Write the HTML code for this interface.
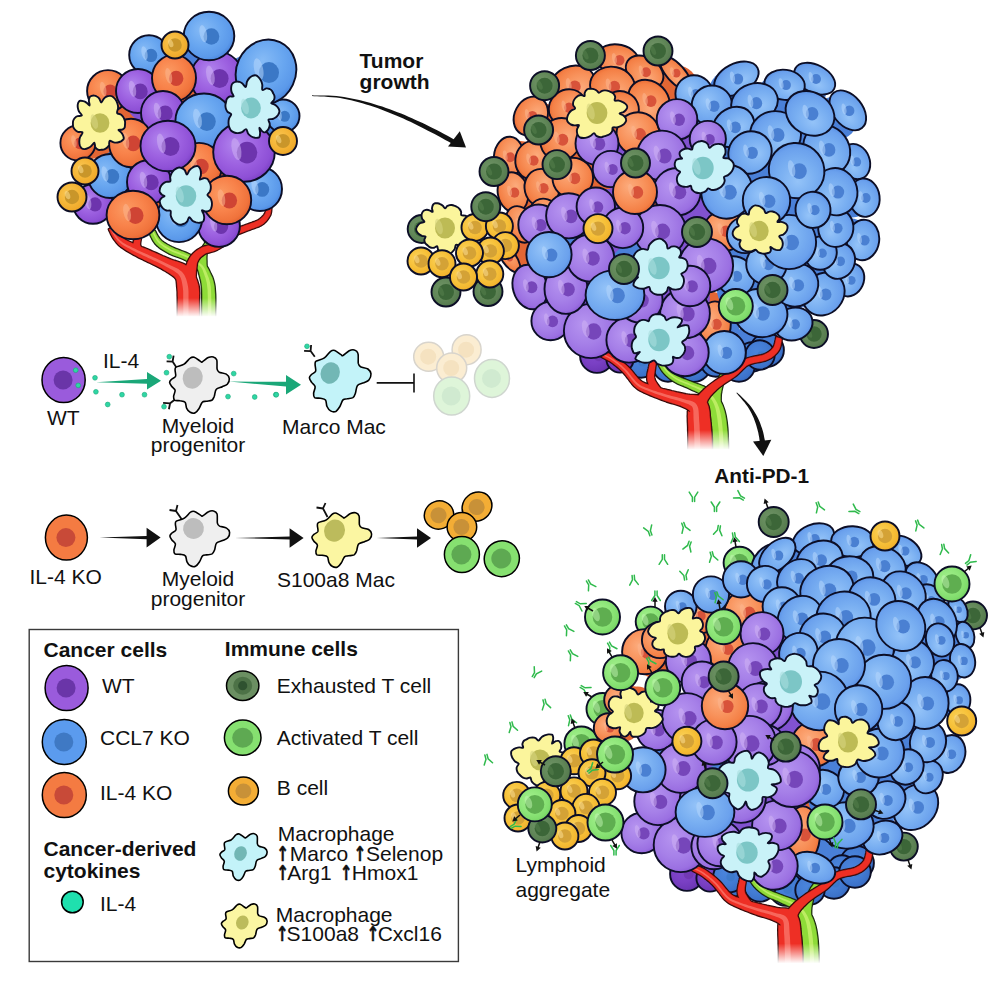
<!DOCTYPE html>
<html><head><meta charset="utf-8"><title>Tumor immune microenvironment</title>
<style>html,body{margin:0;padding:0;background:#fff}svg{display:block}text{font-family:"Liberation Sans",sans-serif;fill:#111}</style>
</head><body>
<svg width="996" height="996" viewBox="0 0 996 996">
<defs>
<radialGradient id="gP" cx=".42" cy=".42" r=".62" fx=".36" fy=".36"><stop offset="0" stop-color="#b184ee"/><stop offset=".55" stop-color="#9c60e0"/><stop offset=".85" stop-color="#8e50d6"/><stop offset="1" stop-color="#7a3fc4"/></radialGradient>
<radialGradient id="gB" cx=".42" cy=".42" r=".62" fx=".36" fy=".36"><stop offset="0" stop-color="#86bbf6"/><stop offset=".55" stop-color="#68a6f0"/><stop offset=".85" stop-color="#5b99ea"/><stop offset="1" stop-color="#4783dc"/></radialGradient>
<radialGradient id="gO" cx=".42" cy=".42" r=".62" fx=".36" fy=".36"><stop offset="0" stop-color="#fb9a62"/><stop offset=".55" stop-color="#f8824a"/><stop offset=".85" stop-color="#f0733c"/><stop offset="1" stop-color="#e0602e"/></radialGradient>
<radialGradient id="gY" cx=".42" cy=".42" r=".62" fx=".36" fy=".36"><stop offset="0" stop-color="#f9c652"/><stop offset=".55" stop-color="#f5b638"/><stop offset=".85" stop-color="#f0ab2c"/><stop offset="1" stop-color="#e59c20"/></radialGradient>
<radialGradient id="gE" cx=".42" cy=".42" r=".62" fx=".36" fy=".36"><stop offset="0" stop-color="#6f9366"/><stop offset=".55" stop-color="#628859"/><stop offset=".85" stop-color="#587d50"/><stop offset="1" stop-color="#4c6f45"/></radialGradient>
<radialGradient id="gA" cx=".42" cy=".42" r=".62" fx=".36" fy=".36"><stop offset="0" stop-color="#a4f08e"/><stop offset=".55" stop-color="#8fe67a"/><stop offset=".85" stop-color="#80dc6c"/><stop offset="1" stop-color="#6ccb5a"/></radialGradient>
<radialGradient id="gP2" cx=".42" cy=".42" r=".62" fx=".36" fy=".36"><stop offset="0" stop-color="#b694f0"/><stop offset=".55" stop-color="#a680e8"/><stop offset=".85" stop-color="#9b70e2"/><stop offset="1" stop-color="#8a5ad6"/></radialGradient>
<radialGradient id="gB2" cx=".42" cy=".42" r=".62" fx=".36" fy=".36"><stop offset="0" stop-color="#94c3f8"/><stop offset=".55" stop-color="#78aef1"/><stop offset=".85" stop-color="#6ba1ed"/><stop offset="1" stop-color="#5990e5"/></radialGradient>
<radialGradient id="gO2" cx=".42" cy=".42" r=".62" fx=".36" fy=".36"><stop offset="0" stop-color="#fcab7c"/><stop offset=".55" stop-color="#f8915a"/><stop offset=".85" stop-color="#f48046"/><stop offset="1" stop-color="#e86a32"/></radialGradient>
<radialGradient id="gY2" cx=".42" cy=".42" r=".62" fx=".36" fy=".36"><stop offset="0" stop-color="#fad15a"/><stop offset=".55" stop-color="#f7c23a"/><stop offset=".85" stop-color="#f3b630"/><stop offset="1" stop-color="#e8a524"/></radialGradient>
<radialGradient id="gPd" cx=".42" cy=".42" r=".62" fx=".36" fy=".36"><stop offset="0" stop-color="#8248cc"/><stop offset=".55" stop-color="#7a40c4"/><stop offset=".85" stop-color="#6f38b8"/><stop offset="1" stop-color="#6030a6"/></radialGradient>
<radialGradient id="gBd" cx=".42" cy=".42" r=".62" fx=".36" fy=".36"><stop offset="0" stop-color="#4a84dc"/><stop offset=".55" stop-color="#437cd4"/><stop offset=".85" stop-color="#3c72ca"/><stop offset="1" stop-color="#3364b8"/></radialGradient>
<radialGradient id="gOd" cx=".42" cy=".42" r=".62" fx=".36" fy=".36"><stop offset="0" stop-color="#e0602e"/><stop offset=".55" stop-color="#d85a2a"/><stop offset=".85" stop-color="#cc5226"/><stop offset="1" stop-color="#bc4820"/></radialGradient>
<linearGradient id="fadeR" x1="0" y1="0" x2="0" y2="1"><stop offset="0" stop-color="#fff" stop-opacity="0"/><stop offset="1" stop-color="#fff" stop-opacity="1"/></linearGradient>
</defs>
<rect width="996" height="996" fill="#fff"/>
<path d="M214.7 330.6L214.8 327.4L214.9 322.9L215 317.5L215 311.6L215.1 305.5L215.1 299.6L215 294.4L214.7 290L214.4 286.6L213.9 283.6L213.3 281.1L212.7 278.9L212 277L211.2 275.4L210.5 274L209.8 272.5L209.1 271L208.4 269.6L207.7 268.2L206.8 266.8L205.8 265.5L204.7 264.2L203.5 263L202.1 261.8L200.6 260.6L198.9 259.5L197.2 258.4L195.4 257.5L193.5 256.5L191.6 255.6L189.7 254.7L187.8 253.8L185.8 252.9L183.7 252L181.5 251.2L179.4 250.4L177.3 249.6L175.3 248.9L173.5 248.1L171.8 247.3L170.1 246.4L168.5 245.6L166.9 244.7L165.4 243.8L164 242.9L162.7 242L161.5 241L160.5 240.1L159.5 239.1L158.7 237.9L157.8 236.6L157 235.3L156.3 233.9L155.7 232.7L155.1 231.5L154.6 230.7L149.8 233.3L150.2 234.1L150.6 235.1L151.2 236.4L152 237.9L152.8 239.5L153.8 241.2L154.9 242.8L156.1 244.3L157.5 245.6L158.9 246.8L160.4 248L162 249.1L163.6 250.1L165.3 251.1L167 252.1L168.8 253.1L170.8 254L172.9 254.9L175 255.7L177.2 256.5L179.3 257.2L181.3 258L183.2 258.8L185 259.6L186.7 260.6L188.5 261.5L190.2 262.5L191.8 263.6L193.2 264.6L194.6 265.6L195.7 266.6L196.7 267.6L197.4 268.6L198 269.5L198.4 270.3L198.7 271.2L199 272.1L199.2 273.2L199.6 274.5L200 276.1L200.4 277.7L200.8 279.2L201.1 280.6L201.4 282L201.7 283.5L201.9 285.4L202.1 287.8L202.3 290.8L202.4 294.7L202.4 299.8L202.4 305.5L202.4 311.5L202.4 317.3L202.3 322.7L202.3 327.3L202.3 330.6ZM206.5 268L206.5 266.8L206.4 265.2L206.3 263.3L206.3 261.2L206.2 259.1L206.2 257.1L206.3 255.3L206.4 253.8L206.7 252.7L207 251.7L207.4 250.7L207.8 249.8L208.3 248.9L208.8 247.9L209.4 246.9L209.9 245.9L210.4 245L210.9 244L211.4 243.1L212 242.1L212.5 241.3L212.9 240.5L213.3 239.8L213.6 239.3L209.4 236.7L209.1 237.1L208.6 237.8L208.1 238.5L207.5 239.4L206.9 240.3L206.3 241.3L205.7 242.3L205.1 243.3L204.6 244.2L204 245.1L203.4 246L202.8 247.1L202.1 248.3L201.5 249.6L201 251.1L200.6 252.8L200.2 254.6L200 256.7L199.8 258.9L199.7 261.2L199.7 263.3L199.6 265.2L199.6 266.8L199.5 268Z" fill="#16240c" stroke="#16240c" stroke-width="2.8" stroke-linejoin="round"/>
<path d="M214.7 330.6L214.8 327.4L214.9 322.9L215 317.5L215 311.6L215.1 305.5L215.1 299.6L215 294.4L214.7 290L214.4 286.6L213.9 283.6L213.3 281.1L212.7 278.9L212 277L211.2 275.4L210.5 274L209.8 272.5L209.1 271L208.4 269.6L207.7 268.2L206.8 266.8L205.8 265.5L204.7 264.2L203.5 263L202.1 261.8L200.6 260.6L198.9 259.5L197.2 258.4L195.4 257.5L193.5 256.5L191.6 255.6L189.7 254.7L187.8 253.8L185.8 252.9L183.7 252L181.5 251.2L179.4 250.4L177.3 249.6L175.3 248.9L173.5 248.1L171.8 247.3L170.1 246.4L168.5 245.6L166.9 244.7L165.4 243.8L164 242.9L162.7 242L161.5 241L160.5 240.1L159.5 239.1L158.7 237.9L157.8 236.6L157 235.3L156.3 233.9L155.7 232.7L155.1 231.5L154.6 230.7L149.8 233.3L150.2 234.1L150.6 235.1L151.2 236.4L152 237.9L152.8 239.5L153.8 241.2L154.9 242.8L156.1 244.3L157.5 245.6L158.9 246.8L160.4 248L162 249.1L163.6 250.1L165.3 251.1L167 252.1L168.8 253.1L170.8 254L172.9 254.9L175 255.7L177.2 256.5L179.3 257.2L181.3 258L183.2 258.8L185 259.6L186.7 260.6L188.5 261.5L190.2 262.5L191.8 263.6L193.2 264.6L194.6 265.6L195.7 266.6L196.7 267.6L197.4 268.6L198 269.5L198.4 270.3L198.7 271.2L199 272.1L199.2 273.2L199.6 274.5L200 276.1L200.4 277.7L200.8 279.2L201.1 280.6L201.4 282L201.7 283.5L201.9 285.4L202.1 287.8L202.3 290.8L202.4 294.7L202.4 299.8L202.4 305.5L202.4 311.5L202.4 317.3L202.3 322.7L202.3 327.3L202.3 330.6ZM206.5 268L206.5 266.8L206.4 265.2L206.3 263.3L206.3 261.2L206.2 259.1L206.2 257.1L206.3 255.3L206.4 253.8L206.7 252.7L207 251.7L207.4 250.7L207.8 249.8L208.3 248.9L208.8 247.9L209.4 246.9L209.9 245.9L210.4 245L210.9 244L211.4 243.1L212 242.1L212.5 241.3L212.9 240.5L213.3 239.8L213.6 239.3L209.4 236.7L209.1 237.1L208.6 237.8L208.1 238.5L207.5 239.4L206.9 240.3L206.3 241.3L205.7 242.3L205.1 243.3L204.6 244.2L204 245.1L203.4 246L202.8 247.1L202.1 248.3L201.5 249.6L201 251.1L200.6 252.8L200.2 254.6L200 256.7L199.8 258.9L199.7 261.2L199.7 263.3L199.6 265.2L199.6 266.8L199.5 268Z" fill="#8edb38" stroke="#8edb38" stroke-width=".4" stroke-linejoin="round"/>
<path d="M211 330.6L211.1 327.4L211.1 322.8L211.2 317.4L211.3 311.5L211.3 305.5L211.3 299.7L211.2 294.5L211 290.3L210.8 287L210.4 284.3L209.9 282L209.4 280L208.9 278.3L208.3 276.8L207.7 275.3L207.1 273.8L206.5 272.3L205.9 270.9L205.3 269.6L204.7 268.4L203.9 267.2L203.1 266.1L202.1 265L201 263.9L199.6 262.8L198.2 261.7L196.6 260.7L194.9 259.7L193.1 258.7L191.3 257.7L189.4 256.8L187.6 255.9L185.7 255L183.6 254.2L181.5 253.4L179.4 252.6L177.3 251.8L175.2 251L173.3 250.2L171.5 249.4L169.8 248.5L168.1 247.6L166.5 246.6L165 245.7L163.5 244.7L162.1 243.7L160.9 242.7L159.7 241.6L158.7 240.4L157.7 239.1L156.8 237.7L156 236.2L155.3 234.8L154.7 233.5L154.1 232.5L153.7 231.6L152.3 232.4L152.7 233.2L153.3 234.2L153.9 235.5L154.6 237L155.4 238.5L156.3 240L157.4 241.5L158.5 242.8L159.7 244L161.1 245.1L162.5 246.1L164 247.2L165.6 248.2L167.2 249.1L168.9 250.1L170.7 251L172.6 251.9L174.6 252.7L176.7 253.5L178.8 254.3L180.9 255.1L183 255.8L184.9 256.7L186.8 257.5L188.6 258.4L190.4 259.4L192.2 260.4L193.9 261.4L195.5 262.4L196.9 263.4L198.3 264.5L199.4 265.5L200.4 266.6L201.2 267.6L201.8 268.6L202.4 269.6L202.9 270.7L203.3 271.9L203.8 273.3L204.3 274.8L204.9 276.4L205.4 277.8L205.8 279.3L206.3 280.9L206.7 282.7L207 284.8L207.3 287.4L207.6 290.5L207.7 294.6L207.8 299.7L207.8 305.5L207.8 311.5L207.7 317.4L207.6 322.8L207.6 327.3L207.6 330.6Z" fill="#c4f06a" opacity=".85"/>
<path d="M198.9 330.6L198.9 328.4L198.9 325.3L198.9 321.6L198.9 317.5L198.9 313.3L198.9 309.2L198.9 305.5L198.9 302.3L198.9 299.8L199 297.6L199 295.5L199.1 293.4L199 291.2L198.9 289L198.6 286.7L198.1 284.4L197.5 282.4L196.9 280.5L196.1 278.4L195.2 276.2L194 273.9L192.4 271.6L190.6 269.4L188.4 267.3L186 265.5L183.4 264.1L180.8 263L178.2 262.1L175.7 261.2L173.3 260.5L171.1 259.7L169 258.9L166.9 258L164.7 257.1L162.6 256.2L160.5 255.2L158.4 254.3L156.4 253.4L154.4 252.5L152.5 251.7L150.6 250.9L148.8 250.1L147 249.3L145.2 248.6L143.5 247.9L141.8 247.2L140.1 246.4L138.4 245.7L136.6 245L134.8 244.2L133 243.5L131.3 242.7L129.6 242L128 241.3L126.6 240.6L125.4 239.9L124.3 239.2L123.3 238.6L122.4 238L121.6 237.3L120.9 236.6L120.2 235.9L119.4 235.1L118.7 234.3L118.1 233.5L117.4 232.5L116.8 231.4L116.2 230.3L115.7 229.2L115.2 228.2L114.7 227.3L114.4 226.7L109 229.3L109.3 230L109.7 230.8L110.2 231.8L110.7 233L111.3 234.3L112 235.6L112.7 236.9L113.5 238.1L114.2 239.2L114.9 240.2L115.7 241.2L116.5 242.3L117.4 243.3L118.4 244.4L119.5 245.4L120.8 246.5L122.3 247.6L123.8 248.6L125.5 249.7L127.1 250.7L128.9 251.8L130.6 252.8L132.3 253.7L134 254.7L135.7 255.6L137.4 256.5L139.1 257.4L140.8 258.2L142.6 259.1L144.3 259.9L146.1 260.8L147.9 261.7L149.8 262.6L151.8 263.6L153.7 264.5L155.8 265.4L157.8 266.4L159.7 267.4L161.7 268.5L163.6 269.7L165.7 270.9L167.8 272.2L169.9 273.6L171.8 274.9L173.5 276.1L174.9 277.3L175.8 278.4L176.4 279.3L176.6 280L176.8 280.8L176.9 281.7L177 282.6L177.1 283.8L177.2 285.2L177.3 286.8L177.5 288.4L177.6 289.7L177.7 290.8L177.8 292.1L177.8 293.5L177.8 295.3L177.9 297.4L177.9 299.8L177.9 302.5L177.9 305.6L177.9 309.3L177.9 313.3L177.9 317.5L177.9 321.5L177.9 325.2L177.9 328.3L177.9 330.6ZM142.3 250.8L142.1 250.2L141.7 249.5L141.4 248.7L141 247.9L140.7 247L140.4 246.2L140.2 245.5L140 244.9L140 244.4L140 243.6L140.1 242.7L140.2 241.7L140.4 240.8L140.5 239.9L140.7 239.1L140.8 238.5L134.8 237.5L134.7 238L134.6 238.7L134.3 239.6L134.1 240.6L133.9 241.7L133.7 242.9L133.6 244.2L133.6 245.5L133.7 246.8L134 248L134.3 249.1L134.7 250.2L135 251.2L135.3 252.1L135.6 252.7L135.7 253.2ZM195.4 279.4L195.5 277.8L195.6 275.8L195.8 273.4L195.9 270.8L196.2 268.3L196.5 265.8L196.8 263.7L197.2 262.1L197.8 260.9L198.4 259.7L199.2 258.6L200 257.6L200.9 256.7L202 255.8L203.1 255L204.2 254.2L205.2 253.6L206.3 253.1L207.6 252.7L209.1 252.3L210.6 251.9L212.3 251.5L214.1 250.9L215.8 250.2L217.5 249.4L219.1 248.5L220.7 247.6L222.3 246.6L223.9 245.6L225.4 244.6L226.9 243.6L228.3 242.6L229.6 241.5L230.8 240.4L231.8 239.3L232.7 238.3L233.5 237.4L234.3 236.6L235.1 235.9L236.1 235.2L237.4 234.5L238.9 233.8L240.5 233.1L242.3 232.4L244.2 231.7L246 231L247.9 230.3L249.6 229.7L251.2 229L252.8 228.5L254.4 227.9L256 227.3L257.7 226.7L259.2 226.1L260.8 225.3L262.2 224.4L263.6 223.4L264.8 222.3L265.9 221.2L266.9 220L267.8 218.8L268.6 217.6L269.3 216.4L270 215.2L270.5 213.8L270.8 212.4L271 211L271.1 209.7L271.2 208.5L271.2 207.5L271.2 206.7L271.2 206.1L266.2 205.9L266.2 206.6L266.2 207.5L266.2 208.4L266.2 209.4L266.1 210.5L266 211.4L265.7 212.3L265.4 213L265 213.9L264.4 214.8L263.7 215.7L262.9 216.6L262 217.5L261.1 218.3L260.2 219.1L259.2 219.8L258.1 220.4L256.9 221L255.6 221.6L254.1 222.2L252.6 222.7L251 223.3L249.3 223.9L247.6 224.5L245.9 225.1L244.2 225.7L242.3 226.4L240.4 227L238.5 227.6L236.6 228.3L234.8 229.1L233.1 230L231.5 231L230.2 232.2L229.1 233.3L228.2 234.3L227.3 235.3L226.5 236.2L225.7 237L224.7 237.8L223.5 238.6L222.1 239.5L220.7 240.4L219.2 241.2L217.7 242.1L216.1 242.9L214.6 243.6L213.2 244.2L211.9 244.7L210.5 245.1L209 245.5L207.5 245.8L205.8 246.2L204.1 246.7L202.3 247.3L200.6 248.2L199.1 249.1L197.7 250L196.3 251L194.8 252.2L193.4 253.5L192.1 254.9L190.8 256.6L189.6 258.5L188.4 260.7L187.3 263.2L186.3 265.9L185.3 268.6L184.5 271.2L183.7 273.5L183.1 275.3L182.6 276.6Z" fill="#330808" stroke="#330808" stroke-width="2.8" stroke-linejoin="round"/>
<path d="M198.9 330.6L198.9 328.4L198.9 325.3L198.9 321.6L198.9 317.5L198.9 313.3L198.9 309.2L198.9 305.5L198.9 302.3L198.9 299.8L199 297.6L199 295.5L199.1 293.4L199 291.2L198.9 289L198.6 286.7L198.1 284.4L197.5 282.4L196.9 280.5L196.1 278.4L195.2 276.2L194 273.9L192.4 271.6L190.6 269.4L188.4 267.3L186 265.5L183.4 264.1L180.8 263L178.2 262.1L175.7 261.2L173.3 260.5L171.1 259.7L169 258.9L166.9 258L164.7 257.1L162.6 256.2L160.5 255.2L158.4 254.3L156.4 253.4L154.4 252.5L152.5 251.7L150.6 250.9L148.8 250.1L147 249.3L145.2 248.6L143.5 247.9L141.8 247.2L140.1 246.4L138.4 245.7L136.6 245L134.8 244.2L133 243.5L131.3 242.7L129.6 242L128 241.3L126.6 240.6L125.4 239.9L124.3 239.2L123.3 238.6L122.4 238L121.6 237.3L120.9 236.6L120.2 235.9L119.4 235.1L118.7 234.3L118.1 233.5L117.4 232.5L116.8 231.4L116.2 230.3L115.7 229.2L115.2 228.2L114.7 227.3L114.4 226.7L109 229.3L109.3 230L109.7 230.8L110.2 231.8L110.7 233L111.3 234.3L112 235.6L112.7 236.9L113.5 238.1L114.2 239.2L114.9 240.2L115.7 241.2L116.5 242.3L117.4 243.3L118.4 244.4L119.5 245.4L120.8 246.5L122.3 247.6L123.8 248.6L125.5 249.7L127.1 250.7L128.9 251.8L130.6 252.8L132.3 253.7L134 254.7L135.7 255.6L137.4 256.5L139.1 257.4L140.8 258.2L142.6 259.1L144.3 259.9L146.1 260.8L147.9 261.7L149.8 262.6L151.8 263.6L153.7 264.5L155.8 265.4L157.8 266.4L159.7 267.4L161.7 268.5L163.6 269.7L165.7 270.9L167.8 272.2L169.9 273.6L171.8 274.9L173.5 276.1L174.9 277.3L175.8 278.4L176.4 279.3L176.6 280L176.8 280.8L176.9 281.7L177 282.6L177.1 283.8L177.2 285.2L177.3 286.8L177.5 288.4L177.6 289.7L177.7 290.8L177.8 292.1L177.8 293.5L177.8 295.3L177.9 297.4L177.9 299.8L177.9 302.5L177.9 305.6L177.9 309.3L177.9 313.3L177.9 317.5L177.9 321.5L177.9 325.2L177.9 328.3L177.9 330.6ZM142.3 250.8L142.1 250.2L141.7 249.5L141.4 248.7L141 247.9L140.7 247L140.4 246.2L140.2 245.5L140 244.9L140 244.4L140 243.6L140.1 242.7L140.2 241.7L140.4 240.8L140.5 239.9L140.7 239.1L140.8 238.5L134.8 237.5L134.7 238L134.6 238.7L134.3 239.6L134.1 240.6L133.9 241.7L133.7 242.9L133.6 244.2L133.6 245.5L133.7 246.8L134 248L134.3 249.1L134.7 250.2L135 251.2L135.3 252.1L135.6 252.7L135.7 253.2ZM195.4 279.4L195.5 277.8L195.6 275.8L195.8 273.4L195.9 270.8L196.2 268.3L196.5 265.8L196.8 263.7L197.2 262.1L197.8 260.9L198.4 259.7L199.2 258.6L200 257.6L200.9 256.7L202 255.8L203.1 255L204.2 254.2L205.2 253.6L206.3 253.1L207.6 252.7L209.1 252.3L210.6 251.9L212.3 251.5L214.1 250.9L215.8 250.2L217.5 249.4L219.1 248.5L220.7 247.6L222.3 246.6L223.9 245.6L225.4 244.6L226.9 243.6L228.3 242.6L229.6 241.5L230.8 240.4L231.8 239.3L232.7 238.3L233.5 237.4L234.3 236.6L235.1 235.9L236.1 235.2L237.4 234.5L238.9 233.8L240.5 233.1L242.3 232.4L244.2 231.7L246 231L247.9 230.3L249.6 229.7L251.2 229L252.8 228.5L254.4 227.9L256 227.3L257.7 226.7L259.2 226.1L260.8 225.3L262.2 224.4L263.6 223.4L264.8 222.3L265.9 221.2L266.9 220L267.8 218.8L268.6 217.6L269.3 216.4L270 215.2L270.5 213.8L270.8 212.4L271 211L271.1 209.7L271.2 208.5L271.2 207.5L271.2 206.7L271.2 206.1L266.2 205.9L266.2 206.6L266.2 207.5L266.2 208.4L266.2 209.4L266.1 210.5L266 211.4L265.7 212.3L265.4 213L265 213.9L264.4 214.8L263.7 215.7L262.9 216.6L262 217.5L261.1 218.3L260.2 219.1L259.2 219.8L258.1 220.4L256.9 221L255.6 221.6L254.1 222.2L252.6 222.7L251 223.3L249.3 223.9L247.6 224.5L245.9 225.1L244.2 225.7L242.3 226.4L240.4 227L238.5 227.6L236.6 228.3L234.8 229.1L233.1 230L231.5 231L230.2 232.2L229.1 233.3L228.2 234.3L227.3 235.3L226.5 236.2L225.7 237L224.7 237.8L223.5 238.6L222.1 239.5L220.7 240.4L219.2 241.2L217.7 242.1L216.1 242.9L214.6 243.6L213.2 244.2L211.9 244.7L210.5 245.1L209 245.5L207.5 245.8L205.8 246.2L204.1 246.7L202.3 247.3L200.6 248.2L199.1 249.1L197.7 250L196.3 251L194.8 252.2L193.4 253.5L192.1 254.9L190.8 256.6L189.6 258.5L188.4 260.7L187.3 263.2L186.3 265.9L185.3 268.6L184.5 271.2L183.7 273.5L183.1 275.3L182.6 276.6Z" fill="#ee2f25" stroke="#ee2f25" stroke-width=".4" stroke-linejoin="round"/>
<path d="M188.5 330.6L188.5 328.3L188.5 325.3L188.5 321.6L188.5 317.5L188.5 313.3L188.5 309.2L188.5 305.5L188.5 302.4L188.5 299.8L188.5 297.5L188.5 295.4L188.5 293.4L188.5 291.5L188.4 289.7L188.2 287.8L187.9 286L187.5 284.1L187.1 282.3L186.6 280.5L186.1 278.7L185.3 276.9L184.4 275.1L183.3 273.4L181.9 271.8L180.2 270.4L178.3 269.1L176.3 267.9L174.1 266.9L171.9 265.9L169.7 264.9L167.6 263.9L165.5 263L163.5 262L161.5 261L159.4 260L157.4 259.1L155.3 258.1L153.3 257.2L151.4 256.3L149.5 255.5L147.6 254.6L145.8 253.8L144 253L142.3 252.2L140.6 251.4L138.9 250.7L137.2 249.9L135.6 249.1L133.9 248.3L132.1 247.4L130.4 246.6L128.7 245.7L127 244.9L125.4 244L124 243.2L122.7 242.4L121.6 241.6L120.6 240.8L119.7 240L118.9 239.2L118.1 238.3L117.4 237.5L116.7 236.6L116 235.7L115.3 234.8L114.6 233.7L114 232.5L113.4 231.3L112.9 230.2L112.4 229.2L112 228.3L111.7 227.7L110.3 228.3L110.6 229L111 229.8L111.5 230.9L112 232L112.6 233.2L113.3 234.4L114 235.6L114.7 236.7L115.4 237.6L116 238.6L116.8 239.5L117.5 240.4L118.4 241.3L119.3 242.2L120.4 243.1L121.6 244L122.9 244.9L124.4 245.9L125.9 246.8L127.6 247.7L129.3 248.6L131 249.6L132.8 250.4L134.4 251.3L136.1 252.2L137.8 253L139.5 253.8L141.2 254.6L142.9 255.4L144.7 256.2L146.5 257.1L148.3 257.9L150.2 258.8L152.2 259.8L154.2 260.7L156.2 261.6L158.2 262.6L160.2 263.6L162.2 264.6L164.2 265.6L166.2 266.7L168.3 267.8L170.4 268.9L172.5 270L174.4 271.2L176.1 272.4L177.6 273.6L178.8 274.8L179.7 276L180.4 277.3L181 278.7L181.4 280.1L181.8 281.7L182.1 283.3L182.4 285.1L182.7 286.8L182.9 288.5L183.1 290.1L183.2 291.8L183.2 293.5L183.2 295.4L183.2 297.5L183.2 299.8L183.3 302.4L183.3 305.6L183.3 309.3L183.3 313.3L183.3 317.5L183.3 321.5L183.3 325.2L183.3 328.3L183.3 330.6Z" fill="#f9766a" opacity=".8"/>
<rect x="168" y="298" width="60" height="19" fill="url(#fadeR)"/>
<rect x="168" y="316.5" width="60" height="20" fill="#fff"/>
<circle cx="153.4" cy="66.4" r="19.2" fill="#4a80d8"/>
<circle cx="156.9" cy="75.3" r="19.2" fill="#4a80d8"/>
<circle cx="272.9" cy="117.9" r="16" fill="#4a80d8"/>
<circle cx="265.2" cy="119.3" r="16" fill="#4a80d8"/>
<circle cx="88.9" cy="142.1" r="17.1" fill="#e26634"/>
<circle cx="97.3" cy="141.5" r="17.1" fill="#e26634"/>
<circle cx="102.6" cy="196.4" r="19.2" fill="#8152d0"/>
<circle cx="110.1" cy="190.5" r="19.2" fill="#8152d0"/>
<circle cx="213.9" cy="214.1" r="20.3" fill="#8152d0"/>
<circle cx="209.9" cy="204.9" r="20.3" fill="#8152d0"/>
<circle cx="179.2" cy="204.7" r="22.4" fill="#4a80d8"/>
<circle cx="179.3" cy="193.6" r="22.4" fill="#4a80d8"/>
<circle cx="248.7" cy="181.4" r="21.3" fill="#4a80d8"/>
<circle cx="239.9" cy="175.5" r="21.3" fill="#4a80d8"/>
<circle cx="119.1" cy="97.8" r="20.3" fill="#e26634"/>
<circle cx="127.6" cy="103" r="20.3" fill="#e26634"/>
<circle cx="208.1" cy="91.7" r="25.6" fill="#8152d0"/>
<circle cx="201.2" cy="102.4" r="25.6" fill="#8152d0"/>
<circle cx="147.4" cy="100.9" r="21.3" fill="#8152d0"/>
<circle cx="154.7" cy="108.5" r="21.3" fill="#8152d0"/>
<circle cx="175.4" cy="91.6" r="21.3" fill="#e26634"/>
<circle cx="176.5" cy="102.1" r="21.3" fill="#e26634"/>
<circle cx="251.1" cy="82.9" r="28.8" fill="#4a80d8"/>
<circle cx="239.6" cy="91.3" r="28.8" fill="#4a80d8"/>
<circle cx="204.6" cy="51.1" r="24.5" fill="#4a80d8"/>
<circle cx="201.2" cy="62.7" r="24.5" fill="#4a80d8"/>
<circle cx="171.3" cy="123.8" r="21.3" fill="#8152d0"/>
<circle cx="177.8" cy="132.1" r="21.3" fill="#8152d0"/>
<circle cx="121.8" cy="169.1" r="21.3" fill="#4a80d8"/>
<circle cx="130.9" cy="163.8" r="21.3" fill="#4a80d8"/>
<circle cx="188.7" cy="129.9" r="27.7" fill="#4a80d8"/>
<circle cx="180" cy="135" r="27.7" fill="#4a80d8"/>
<circle cx="144.5" cy="140.8" r="21.3" fill="#e26634"/>
<circle cx="154.9" cy="139.1" r="21.3" fill="#e26634"/>
<circle cx="191.5" cy="153.8" r="22.4" fill="#e26634"/>
<circle cx="185.7" cy="144.3" r="22.4" fill="#e26634"/>
<circle cx="156.5" cy="170.6" r="21.3" fill="#8152d0"/>
<circle cx="162.3" cy="161.8" r="21.3" fill="#8152d0"/>
<circle cx="225.5" cy="147.1" r="29.9" fill="#8152d0"/>
<circle cx="211.3" cy="143.3" r="29.9" fill="#8152d0"/>
<circle cx="180" cy="135" r="26.7" fill="#8152d0"/>
<circle cx="180" cy="135" r="26.7" fill="#8152d0"/>
<circle cx="218.2" cy="187.8" r="23.5" fill="#e26634"/>
<circle cx="211.4" cy="178.4" r="23.5" fill="#e26634"/>
<circle cx="141.3" cy="200.9" r="25.6" fill="#e26634"/>
<circle cx="147.7" cy="190" r="25.6" fill="#e26634"/>
<g transform="translate(149 55)">
<ellipse rx="19.8" ry="19.8" fill="url(#gB)" stroke="#0c0e26" stroke-width="1.9"/>
<ellipse cx="2" cy="0.4" rx="6.3" ry="6.7" fill="#3b78c6"/>
<ellipse cx="-4" cy="-2.8" rx="2.9" ry="7" transform="rotate(-12)" fill="#b4d6fb" opacity=".55"/>
</g>
<g transform="translate(283 116)">
<ellipse rx="16.5" ry="16.5" fill="url(#gB)" stroke="#0c0e26" stroke-width="1.9"/>
<ellipse cx="1.7" cy="0.3" rx="5.3" ry="5.5" fill="#3b78c6"/>
<ellipse cx="-3.4" cy="-2.3" rx="2.4" ry="5.8" transform="rotate(-12)" fill="#b4d6fb" opacity=".55"/>
</g>
<g transform="translate(78 143)">
<ellipse rx="17.6" ry="17.6" fill="url(#gO)" stroke="#0c0e26" stroke-width="1.9"/>
<ellipse cx="1.8" cy="0.4" rx="5.6" ry="5.9" fill="#cf4434"/>
<ellipse cx="-3.6" cy="-2.5" rx="2.5" ry="6.2" transform="rotate(-12)" fill="#fbb58e" opacity=".55"/>
</g>
<g transform="translate(93 204)">
<ellipse rx="19.8" ry="19.8" fill="url(#gP)" stroke="#0c0e26" stroke-width="1.9"/>
<ellipse cx="2" cy="0.4" rx="6.7" ry="7.1" fill="#6d34ad"/>
<ellipse cx="-4.4" cy="-3" rx="3" ry="7.4" transform="rotate(-12)" fill="#cdb0f2" opacity=".55"/>
</g>
<g transform="translate(219 226)">
<ellipse rx="20.9" ry="20.9" fill="url(#gP)" stroke="#0c0e26" stroke-width="1.9"/>
<ellipse cx="2.1" cy="0.4" rx="7.1" ry="7.5" fill="#6d34ad"/>
<ellipse cx="-4.7" cy="-3.1" rx="3.2" ry="7.8" transform="rotate(-12)" fill="#cdb0f2" opacity=".55"/>
</g>
<g transform="translate(179 219)">
<ellipse rx="23.1" ry="23.1" fill="url(#gB)" stroke="#0c0e26" stroke-width="1.9"/>
<ellipse cx="2.3" cy="0.5" rx="7.4" ry="7.8" fill="#3b78c6"/>
<ellipse cx="-4.7" cy="-3.2" rx="3.3" ry="8.1" transform="rotate(-12)" fill="#b4d6fb" opacity=".55"/>
</g>
<g transform="translate(260 189)">
<ellipse rx="22" ry="22" fill="url(#gB)" stroke="#0c0e26" stroke-width="1.9"/>
<ellipse cx="2.2" cy="0.4" rx="7" ry="7.4" fill="#3b78c6"/>
<ellipse cx="-4.5" cy="-3.1" rx="3.2" ry="7.7" transform="rotate(-12)" fill="#b4d6fb" opacity=".55"/>
</g>
<g transform="translate(108 91)">
<ellipse rx="20.9" ry="20.9" fill="url(#gO)" stroke="#0c0e26" stroke-width="1.9"/>
<ellipse cx="2.1" cy="0.4" rx="6.7" ry="7" fill="#cf4434"/>
<ellipse cx="-4.3" cy="-2.9" rx="3" ry="7.4" transform="rotate(-12)" fill="#fbb58e" opacity=".55"/>
</g>
<g transform="translate(217 78)">
<ellipse rx="26.4" ry="26.4" fill="url(#gP)" stroke="#0c0e26" stroke-width="1.9"/>
<ellipse cx="2.6" cy="0.5" rx="9" ry="9.4" fill="#6d34ad"/>
<ellipse cx="-5.9" cy="-4" rx="4" ry="9.9" transform="rotate(-12)" fill="#cdb0f2" opacity=".55"/>
</g>
<g transform="translate(138 91)">
<ellipse rx="22" ry="22" fill="url(#gP)" stroke="#0c0e26" stroke-width="1.9"/>
<ellipse cx="2.2" cy="0.4" rx="7.5" ry="7.9" fill="#6d34ad"/>
<ellipse cx="-4.9" cy="-3.3" rx="3.4" ry="8.2" transform="rotate(-12)" fill="#cdb0f2" opacity=".55"/>
</g>
<g transform="translate(174 78)">
<ellipse rx="22" ry="23.1" fill="url(#gO)" stroke="#0c0e26" stroke-width="1.9"/>
<ellipse cx="2.2" cy="0.4" rx="7.2" ry="7.6" fill="#cf4434"/>
<ellipse cx="-4.7" cy="-3.2" rx="3.2" ry="7.9" transform="rotate(-12)" fill="#fbb58e" opacity=".55"/>
</g>
<g transform="translate(266 72)">
<ellipse rx="29.7" ry="33" transform="rotate(25)" fill="url(#gB)" stroke="#0c0e26" stroke-width="1.9"/>
<ellipse cx="3" cy="0.6" rx="10" ry="10.5" fill="#3b78c6"/>
<ellipse cx="-6.6" cy="-4.4" rx="4.5" ry="11" transform="rotate(-12)" fill="#b4d6fb" opacity=".55"/>
</g>
<g transform="translate(209 36)">
<ellipse rx="25.3" ry="24.2" fill="url(#gB)" stroke="#0c0e26" stroke-width="1.9"/>
<ellipse cx="2.4" cy="0.5" rx="7.9" ry="8.3" fill="#3b78c6"/>
<ellipse cx="-5.1" cy="-3.5" rx="3.6" ry="8.7" transform="rotate(-12)" fill="#b4d6fb" opacity=".55"/>
</g>
<g transform="translate(163 113)">
<ellipse rx="22" ry="22" fill="url(#gP)" stroke="#0c0e26" stroke-width="1.9"/>
<ellipse cx="2.2" cy="0.4" rx="7.5" ry="7.9" fill="#6d34ad"/>
<ellipse cx="-4.9" cy="-3.3" rx="3.4" ry="8.2" transform="rotate(-12)" fill="#cdb0f2" opacity=".55"/>
</g>
<g transform="translate(110 176)">
<ellipse rx="22" ry="22" fill="url(#gB)" stroke="#0c0e26" stroke-width="1.9"/>
<ellipse cx="2.2" cy="0.4" rx="7" ry="7.4" fill="#3b78c6"/>
<ellipse cx="-4.5" cy="-3.1" rx="3.2" ry="7.7" transform="rotate(-12)" fill="#b4d6fb" opacity=".55"/>
</g>
<g transform="translate(204 121)">
<ellipse rx="28.6" ry="27.5" fill="url(#gB)" stroke="#0c0e26" stroke-width="1.9"/>
<ellipse cx="2.8" cy="0.6" rx="9" ry="9.4" fill="#3b78c6"/>
<ellipse cx="-5.8" cy="-3.9" rx="4" ry="9.9" transform="rotate(-12)" fill="#b4d6fb" opacity=".55"/>
</g>
<g transform="translate(131 143)">
<ellipse rx="22" ry="24.2" fill="url(#gO)" stroke="#0c0e26" stroke-width="1.9"/>
<ellipse cx="2.2" cy="0.4" rx="7.4" ry="7.8" fill="#cf4434"/>
<ellipse cx="-4.8" cy="-3.3" rx="3.3" ry="8.1" transform="rotate(-12)" fill="#fbb58e" opacity=".55"/>
</g>
<g transform="translate(199 166)">
<ellipse rx="23.1" ry="23.1" fill="url(#gO)" stroke="#0c0e26" stroke-width="1.9"/>
<ellipse cx="2.3" cy="0.5" rx="7.4" ry="7.8" fill="#cf4434"/>
<ellipse cx="-4.7" cy="-3.2" rx="3.3" ry="8.1" transform="rotate(-12)" fill="#fbb58e" opacity=".55"/>
</g>
<g transform="translate(149 182)">
<ellipse rx="22" ry="22" fill="url(#gP)" stroke="#0c0e26" stroke-width="1.9"/>
<ellipse cx="2.2" cy="0.4" rx="7.5" ry="7.9" fill="#6d34ad"/>
<ellipse cx="-4.9" cy="-3.3" rx="3.4" ry="8.2" transform="rotate(-12)" fill="#cdb0f2" opacity=".55"/>
</g>
<g transform="translate(244 152)">
<ellipse rx="30.8" ry="29.7" fill="url(#gP)" stroke="#0c0e26" stroke-width="1.9"/>
<ellipse cx="3" cy="0.6" rx="10.3" ry="10.8" fill="#6d34ad"/>
<ellipse cx="-6.8" cy="-4.5" rx="4.6" ry="11.3" transform="rotate(-12)" fill="#cdb0f2" opacity=".55"/>
</g>
<g transform="translate(168 146)">
<ellipse rx="27.5" ry="25.3" fill="url(#gP)" stroke="#0c0e26" stroke-width="1.9"/>
<ellipse cx="2.5" cy="0.5" rx="9" ry="9.4" fill="#6d34ad"/>
<ellipse cx="-6" cy="-4" rx="4" ry="9.9" transform="rotate(-12)" fill="#cdb0f2" opacity=".55"/>
</g>
<g transform="translate(227 200)">
<ellipse rx="24.2" ry="24.2" fill="url(#gO)" stroke="#0c0e26" stroke-width="1.9"/>
<ellipse cx="2.4" cy="0.5" rx="7.7" ry="8.1" fill="#cf4434"/>
<ellipse cx="-4.9" cy="-3.4" rx="3.5" ry="8.5" transform="rotate(-12)" fill="#fbb58e" opacity=".55"/>
</g>
<g transform="translate(133 215)">
<ellipse rx="26.4" ry="24.2" fill="url(#gO)" stroke="#0c0e26" stroke-width="1.9"/>
<ellipse cx="2.4" cy="0.5" rx="8.1" ry="8.5" fill="#cf4434"/>
<ellipse cx="-5.3" cy="-3.6" rx="3.6" ry="8.9" transform="rotate(-12)" fill="#fbb58e" opacity=".55"/>
</g>
<g transform="translate(100 123)">
<path d="M1.3 26.8C0.4 26.9 -0.2 27.2 -0.9 27C-1.6 26.9 -2.4 26.6 -3 26.1C-3.7 25.6 -4.3 24.9 -4.8 23.8C-5.2 22.7 -5 19.8 -5.7 19.6C-6.3 19.5 -7.7 22.2 -8.8 23.1C-9.9 24.1 -11 24.7 -12.1 25.2C-13.1 25.7 -14.3 26 -15.3 26.1C-16.3 26.1 -17.3 26.2 -18.1 25.6C-18.9 25 -19.6 23.7 -20.1 22.5C-20.5 21.3 -20.7 19.9 -20.7 18.4C-20.7 17 -20.5 15.5 -19.9 14C-19.4 12.5 -17 10.3 -17.4 9.4C-17.7 8.5 -20.8 9.2 -22.1 8.8C-23.4 8.3 -24.3 7.5 -25.1 6.6C-25.9 5.8 -26.4 4.8 -26.8 3.8C-27.1 2.7 -27.1 1.5 -27.1 0.5C-27.1 -0.5 -27.1 -1.4 -26.8 -2.3C-26.5 -3.2 -26 -4.1 -25.3 -4.9C-24.6 -5.6 -23.7 -6.4 -22.5 -6.8C-21.3 -7.3 -18.4 -6.8 -18.1 -7.6C-17.9 -8.4 -20.3 -10.2 -21 -11.5C-21.7 -12.8 -22 -14.1 -22.2 -15.3C-22.4 -16.5 -22.4 -17.7 -22.2 -18.8C-22 -19.9 -21.4 -21.1 -20.9 -21.7C-20.4 -22.3 -19.8 -22.2 -19.1 -22.3C-18.3 -22.3 -17.5 -22.1 -16.6 -21.8C-15.6 -21.5 -14.7 -21.1 -13.6 -20.4C-12.6 -19.6 -10.7 -17.2 -10.3 -17.5C-9.8 -17.7 -11 -20.5 -11.1 -21.7C-11.2 -22.9 -11 -23.7 -10.8 -24.5C-10.6 -25.3 -10.2 -25.9 -9.8 -26.3C-9.4 -26.7 -9.1 -26.9 -8.4 -27.1C-7.7 -27.3 -6.7 -27.5 -5.8 -27.4C-5 -27.3 -4 -27 -3.2 -26.5C-2.3 -26 -1.5 -25.4 -0.7 -24.4C0 -23.4 0.5 -20.5 1.2 -20.5C2 -20.4 2.8 -23.2 3.7 -24.2C4.6 -25.2 5.5 -25.8 6.5 -26.3C7.4 -26.8 8.4 -27.1 9.4 -27.1C10.3 -27.2 11 -27.3 12 -26.7C13 -26.1 14.4 -24.9 15.3 -23.7C16.2 -22.5 16.9 -21 17.4 -19.5C17.9 -18.1 18.2 -16.5 18.1 -14.9C18 -13.3 16.5 -11.1 17.1 -10C17.6 -8.9 20.1 -9.1 21.2 -8.3C22.4 -7.4 23.2 -6.2 23.8 -5.1C24.5 -3.9 24.9 -2.5 25.1 -1.2C25.2 0.1 25 2 24.9 2.9C24.8 3.8 24.9 3.9 24.7 4.4C24.5 4.9 24.2 5.4 23.7 5.7C23.2 6.1 22.6 6.5 21.7 6.7C20.8 6.9 18.5 6.5 18.4 6.9C18.3 7.4 20.4 8.6 21.1 9.4C21.9 10.3 22.4 11.1 22.8 11.9C23.2 12.7 23.5 13.5 23.6 14.2C23.8 14.9 24 15.4 23.6 16.1C23.1 16.8 22 17.8 21 18.4C20 18.9 18.8 19.3 17.6 19.5C16.4 19.7 15.1 19.7 13.8 19.4C12.5 19.1 10.6 17.4 9.7 17.8C8.9 18.2 9.4 20.8 9 22C8.5 23.2 7.7 24 7 24.8C6.2 25.5 5.2 26.1 4.3 26.4C3.4 26.7 2.2 26.7 1.3 26.8Z" fill="#fbf59c" stroke="#0c0e26" stroke-width="1.9" stroke-linejoin="round"/>
<ellipse cx="0" cy="0" rx="9.4" ry="9.8" fill="#bdbb55"/>
<ellipse cx="-5.1" cy="-2.8" rx="3.3" ry="7.5" transform="rotate(-15)" fill="#d6d47e" opacity=".6"/>
</g>
<g transform="translate(251 108)">
<path d="M-18.4 -24.6C-17.8 -25.3 -16.7 -25.9 -15.7 -26.1C-14.8 -26.4 -13.6 -26.5 -12.4 -26.3C-11.3 -26 -10.1 -25.6 -8.9 -24.8C-7.7 -23.9 -6.1 -20.7 -5.3 -21C-4.5 -21.2 -4.6 -24.9 -4 -26.3C-3.3 -27.8 -2.5 -29 -1.6 -30C-0.7 -30.9 0.4 -31.7 1.4 -32.1C2.5 -32.6 3.6 -33 4.7 -32.7C5.7 -32.5 6.8 -31.6 7.7 -30.7C8.6 -29.8 9.4 -28.6 10 -27.3C10.6 -26.1 11.1 -24.7 11.3 -23.2C11.5 -21.6 10.7 -18.7 11.4 -18.1C12 -17.5 14.2 -19.4 15.4 -19.6C16.6 -19.7 17.6 -19.4 18.6 -19C19.5 -18.6 20.3 -17.9 20.9 -17.2C21.5 -16.4 21.9 -15.3 22.3 -14.5C22.7 -13.8 23.1 -13.2 23.3 -12.5C23.5 -11.7 23.6 -10.9 23.5 -10C23.4 -9.2 23.1 -8.3 22.6 -7.4C22 -6.5 20 -5.4 20.2 -4.7C20.4 -4 22.7 -3.9 23.7 -3.4C24.7 -2.8 25.5 -2.1 26.2 -1.4C26.9 -0.6 27.5 0.2 27.8 1C28.2 1.8 28.5 2.6 28.4 3.6C28.3 4.5 27.8 5.7 27.2 6.7C26.6 7.6 25.8 8.5 24.9 9.3C24 10 22.9 10.6 21.7 11C20.5 11.4 18 10.8 17.5 11.6C17 12.3 18.6 14.4 18.7 15.6C18.9 16.9 18.6 18.1 18.3 19.1C18 20.2 17.5 21.2 16.9 22C16.2 22.8 15.1 23.6 14.6 24C14 24.4 14 24.5 13.6 24.4C13.2 24.4 12.8 24.3 12.3 24C11.8 23.7 11.2 23.3 10.6 22.6C9.9 21.9 8.7 19.7 8.4 19.8C8.2 20 8.9 22.5 9 23.6C9.2 24.7 9.1 25.6 9 26.4C9 27.2 8.8 27.9 8.6 28.4C8.4 28.9 8.6 29.2 7.8 29.5C7.1 29.7 5.3 29.9 4.1 29.8C2.9 29.6 1.6 29.1 0.4 28.5C-0.7 27.8 -1.9 26.9 -2.8 25.7C-3.7 24.5 -3.9 21.3 -4.9 21.1C-5.9 20.8 -7.5 23.5 -8.9 24.1C-10.2 24.8 -11.6 25 -13 25.1C-14.3 25.2 -15.7 24.9 -16.8 24.5C-18 24.1 -19.2 23.4 -20.1 22.5C-20.9 21.5 -21.5 20.2 -21.9 18.9C-22.3 17.6 -22.5 16.1 -22.5 14.7C-22.5 13.3 -22.4 11.8 -21.9 10.4C-21.4 9 -19.6 7.3 -19.8 6.3C-20 5.2 -22.4 4.9 -23.3 4C-24.2 3.1 -24.7 1.9 -25.1 0.8C-25.5 -0.3 -25.6 -1.5 -25.6 -2.7C-25.6 -3.8 -25.1 -5.2 -24.9 -6.1C-24.7 -7.1 -24.8 -7.7 -24.5 -8.4C-24.2 -9.1 -23.8 -9.8 -23.2 -10.3C-22.6 -10.8 -21.9 -11.3 -21 -11.6C-20 -11.8 -17.7 -11 -17.4 -11.7C-17.1 -12.3 -18.8 -14.2 -19.2 -15.4C-19.6 -16.6 -19.8 -17.8 -19.9 -18.9C-19.9 -20 -19.8 -21.1 -19.6 -22.1C-19.4 -23.1 -19.1 -24 -18.4 -24.6Z" fill="#c9f2f8" stroke="#0c0e26" stroke-width="1.9" stroke-linejoin="round"/>
<ellipse cx="0" cy="0" rx="9.9" ry="10.4" fill="#7cc6c6"/>
<ellipse cx="-5.4" cy="-3" rx="3.5" ry="7.9" transform="rotate(-15)" fill="#a9dede" opacity=".6"/>
</g>
<g transform="translate(186 196)">
<path d="M-7.9 28.3C-9 27.9 -10.3 27.2 -11.3 26.3C-12.3 25.5 -13.1 24.4 -13.8 23.2C-14.5 22 -15.1 20.7 -15.3 19.4C-15.6 18 -14.7 15.7 -15.4 14.9C-16.1 14.1 -18.4 14.9 -19.6 14.5C-20.9 14.1 -21.9 13.4 -22.8 12.6C-23.7 11.8 -24.5 10.8 -25 9.7C-25.6 8.7 -26 7.2 -26.1 6.4C-26.3 5.5 -26.3 5.3 -26.2 4.8C-26 4.2 -25.8 3.6 -25.4 3.1C-25 2.6 -24.6 2 -23.9 1.5C-23.3 1 -21.4 0.6 -21.4 0.1C-21.4 -0.4 -23.3 -0.8 -24 -1.3C-24.6 -1.8 -25.1 -2.3 -25.5 -2.9C-25.9 -3.4 -26.2 -4 -26.3 -4.5C-26.4 -5.1 -26.5 -5.3 -26.3 -6.1C-26.2 -7 -25.8 -8.5 -25.3 -9.5C-24.7 -10.5 -24 -11.5 -23.1 -12.3C-22.2 -13.1 -21.1 -13.8 -19.9 -14.2C-18.7 -14.6 -16.4 -13.8 -15.7 -14.6C-15 -15.4 -16 -17.6 -15.8 -19C-15.5 -20.4 -15 -21.7 -14.4 -22.8C-13.8 -24 -12.9 -25.1 -12 -26C-11 -26.8 -9.7 -27.6 -8.7 -28C-7.8 -28.5 -7.1 -28.6 -6.2 -28.5C-5.4 -28.5 -4.5 -28.2 -3.6 -27.7C-2.7 -27.2 -1.8 -26.6 -1.1 -25.6C-0.3 -24.5 0.2 -21.4 0.9 -21.4C1.7 -21.4 2.5 -24.5 3.4 -25.7C4.3 -26.8 5.3 -27.7 6.3 -28.3C7.2 -29 8.3 -29.5 9.3 -29.7C10.3 -30 11.5 -30.1 12.2 -29.7C13 -29.4 13.5 -28.5 13.9 -27.6C14.4 -26.7 14.7 -25.6 14.8 -24.5C15 -23.4 15 -22.1 14.9 -20.8C14.7 -19.4 13.3 -16.9 13.8 -16.4C14.2 -15.9 16.4 -17.6 17.5 -17.8C18.5 -18 19.4 -17.9 20.2 -17.6C20.9 -17.4 21.5 -17 22 -16.4C22.5 -15.9 22.6 -15.4 23 -14.6C23.5 -13.7 24.2 -12.5 24.5 -11.4C24.8 -10.3 24.9 -9 24.8 -7.8C24.7 -6.7 24.4 -5.4 23.9 -4.3C23.3 -3.1 21.3 -2.1 21.4 -1C21.5 0 23.5 0.9 24.3 2C25 3 25.4 4.3 25.7 5.5C26 6.7 26 7.9 25.9 9.1C25.8 10.3 25.3 11.8 25 12.6C24.6 13.5 24.5 13.8 24 14.2C23.6 14.6 22.9 15 22.2 15.2C21.5 15.4 20.7 15.5 19.6 15.4C18.6 15.3 16.3 13.9 15.9 14.3C15.6 14.8 17.3 16.9 17.6 18.1C18 19.2 18.1 20.3 18.2 21.3C18.2 22.2 18.1 23.2 17.9 23.9C17.6 24.7 17.5 25.3 16.8 25.8C16 26.3 14.7 26.7 13.6 26.8C12.5 26.9 11.2 26.7 10.1 26.4C8.9 26 7.6 25.5 6.5 24.7C5.4 23.8 4.1 21.1 3.2 21.2C2.4 21.3 2 24.3 1.2 25.3C0.3 26.4 -0.7 27.1 -1.7 27.7C-2.7 28.2 -3.8 28.6 -4.8 28.7C-5.8 28.8 -6.8 28.7 -7.9 28.3Z" fill="#c9f2f8" stroke="#0c0e26" stroke-width="1.9" stroke-linejoin="round"/>
<ellipse cx="0" cy="0" rx="10.3" ry="10.8" fill="#7cc6c6"/>
<ellipse cx="-5.6" cy="-3.1" rx="3.6" ry="8.2" transform="rotate(-15)" fill="#a9dede" opacity=".6"/>
</g>
<g transform="translate(175 45)">
<ellipse rx="13.5" ry="13.5" fill="url(#gY)" stroke="#0c0e26" stroke-width="1.9"/>
<circle r="6.8" fill="#c9962a"/>
<ellipse cx="-3.4" cy="-3" rx="2.4" ry="4" transform="rotate(-20)" fill="#f8d98a" opacity=".6"/>
</g>
<g transform="translate(283 141)">
<ellipse rx="14" ry="14" fill="url(#gY)" stroke="#0c0e26" stroke-width="1.9"/>
<circle r="7" fill="#c9962a"/>
<ellipse cx="-3.5" cy="-3.1" rx="2.4" ry="4.2" transform="rotate(-20)" fill="#f8d98a" opacity=".6"/>
</g>
<g transform="translate(85 171)">
<ellipse rx="13.5" ry="13.5" fill="url(#gY)" stroke="#0c0e26" stroke-width="1.9"/>
<circle r="6.8" fill="#c9962a"/>
<ellipse cx="-3.4" cy="-3" rx="2.4" ry="4" transform="rotate(-20)" fill="#f8d98a" opacity=".6"/>
</g>
<g transform="translate(72 197)">
<ellipse rx="14.5" ry="14.5" fill="url(#gY)" stroke="#0c0e26" stroke-width="1.9"/>
<circle r="7.2" fill="#c9962a"/>
<ellipse cx="-3.6" cy="-3.3" rx="2.5" ry="4.3" transform="rotate(-20)" fill="#f8d98a" opacity=".6"/>
</g>
<circle cx="761.8" cy="340.9" r="16.4" fill="#4a80d8"/>
<circle cx="757.8" cy="333.8" r="16.4" fill="#4a80d8"/>
<circle cx="748.4" cy="348.7" r="14.2" fill="#4a80d8"/>
<circle cx="745.5" cy="342.2" r="14.2" fill="#4a80d8"/>
<circle cx="644.1" cy="352.7" r="15.3" fill="#4a80d8"/>
<circle cx="646.5" cy="345.5" r="15.3" fill="#4a80d8"/>
<circle cx="693.7" cy="354.5" r="16.4" fill="#4a80d8"/>
<circle cx="693.5" cy="346.4" r="16.4" fill="#4a80d8"/>
<circle cx="736" cy="356.7" r="15.3" fill="#4a80d8"/>
<circle cx="733.6" cy="349.4" r="15.3" fill="#4a80d8"/>
<circle cx="669.3" cy="358" r="14.2" fill="#4a80d8"/>
<circle cx="670.3" cy="351" r="14.2" fill="#4a80d8"/>
<circle cx="714.3" cy="351.3" r="15.3" fill="#4a80d8"/>
<circle cx="712.9" cy="343.9" r="15.3" fill="#4a80d8"/>
<circle cx="755.9" cy="346.9" r="14.2" fill="#4a80d8"/>
<circle cx="752.8" cy="340.5" r="14.2" fill="#4a80d8"/>
<circle cx="602.8" cy="347.2" r="16.4" fill="#8152d0"/>
<circle cx="607.3" cy="340.4" r="16.4" fill="#8152d0"/>
<circle cx="623.7" cy="351.4" r="13.2" fill="#8152d0"/>
<circle cx="626.5" cy="345.6" r="13.2" fill="#8152d0"/>
<circle cx="712.8" cy="314.4" r="15.3" fill="#e26634"/>
<circle cx="711.1" cy="307" r="15.3" fill="#e26634"/>
<circle cx="519.2" cy="255.6" r="16.4" fill="#e26634"/>
<circle cx="527.1" cy="253.7" r="16.4" fill="#e26634"/>
<circle cx="623.6" cy="72.1" r="20.8" fill="#e26634"/>
<circle cx="627.9" cy="81.4" r="20.8" fill="#e26634"/>
<circle cx="520.7" cy="160.8" r="19.7" fill="#e26634"/>
<circle cx="530" cy="163.8" r="19.7" fill="#e26634"/>
<circle cx="541.5" cy="122.7" r="19.7" fill="#e26634"/>
<circle cx="549.8" cy="127.8" r="19.7" fill="#e26634"/>
<circle cx="582.7" cy="97.2" r="23" fill="#e26634"/>
<circle cx="590.4" cy="105.6" r="23" fill="#e26634"/>
<circle cx="676.9" cy="86.2" r="20.8" fill="#e26634"/>
<circle cx="677.9" cy="96.5" r="20.8" fill="#e26634"/>
<circle cx="648.4" cy="84" r="19.7" fill="#e26634"/>
<circle cx="651.4" cy="93.3" r="19.7" fill="#e26634"/>
<circle cx="525.5" cy="194" r="19.7" fill="#e26634"/>
<circle cx="535.2" cy="195.2" r="19.7" fill="#e26634"/>
<circle cx="532.8" cy="223.7" r="18.6" fill="#e26634"/>
<circle cx="542" cy="223.2" r="18.6" fill="#e26634"/>
<circle cx="576.3" cy="115.2" r="18.6" fill="#e26634"/>
<circle cx="583.2" cy="121.2" r="18.6" fill="#e26634"/>
<circle cx="619.7" cy="98.3" r="21.9" fill="#e26634"/>
<circle cx="625.3" cy="107.6" r="21.9" fill="#e26634"/>
<circle cx="543.3" cy="164.2" r="18.6" fill="#e26634"/>
<circle cx="552" cy="167.2" r="18.6" fill="#e26634"/>
<circle cx="572.1" cy="146" r="20.8" fill="#e26634"/>
<circle cx="581" cy="151.2" r="20.8" fill="#e26634"/>
<circle cx="653.7" cy="113.9" r="21.9" fill="#e26634"/>
<circle cx="657.4" cy="124.1" r="21.9" fill="#e26634"/>
<circle cx="553.6" cy="190.1" r="18.6" fill="#e26634"/>
<circle cx="562.7" cy="191.8" r="18.6" fill="#e26634"/>
<circle cx="555.5" cy="215" r="16.4" fill="#e26634"/>
<circle cx="563.6" cy="215" r="16.4" fill="#e26634"/>
<circle cx="627.1" cy="117.4" r="17.5" fill="#e26634"/>
<circle cx="631.8" cy="124.7" r="17.5" fill="#e26634"/>
<circle cx="603.9" cy="128" r="17.5" fill="#e26634"/>
<circle cx="610" cy="134.1" r="17.5" fill="#e26634"/>
<circle cx="712.6" cy="225.5" r="19.7" fill="#e26634"/>
<circle cx="703.7" cy="221.4" r="19.7" fill="#e26634"/>
<circle cx="584.8" cy="181.8" r="19.7" fill="#e26634"/>
<circle cx="594.1" cy="184.7" r="19.7" fill="#e26634"/>
<circle cx="645.2" cy="145" r="20.8" fill="#e26634"/>
<circle cx="650.7" cy="153.7" r="20.8" fill="#e26634"/>
<circle cx="721.1" cy="339.6" r="20.8" fill="#4a80d8"/>
<circle cx="718.6" cy="329.6" r="20.8" fill="#4a80d8"/>
<circle cx="693.6" cy="105.4" r="18.1" fill="#4a80d8"/>
<circle cx="693.3" cy="114.3" r="18.1" fill="#4a80d8"/>
<circle cx="731.7" cy="92.6" r="23" fill="#4a80d8"/>
<circle cx="728" cy="103.4" r="23" fill="#4a80d8"/>
<circle cx="805.5" cy="88.8" r="21.4" fill="#4a80d8"/>
<circle cx="798.3" cy="96.6" r="21.4" fill="#4a80d8"/>
<circle cx="709.5" cy="118.2" r="19.7" fill="#4a80d8"/>
<circle cx="707.6" cy="127.7" r="19.7" fill="#4a80d8"/>
<circle cx="777.2" cy="95" r="19.7" fill="#4a80d8"/>
<circle cx="771.4" cy="102.9" r="19.7" fill="#4a80d8"/>
<circle cx="785.4" cy="315.4" r="18.6" fill="#4a80d8"/>
<circle cx="779" cy="308.7" r="18.6" fill="#4a80d8"/>
<circle cx="836.1" cy="118.1" r="21.9" fill="#4a80d8"/>
<circle cx="827.1" cy="124.1" r="21.9" fill="#4a80d8"/>
<circle cx="750.7" cy="299.4" r="26.3" fill="#4a80d8"/>
<circle cx="743.1" cy="288.8" r="26.3" fill="#4a80d8"/>
<circle cx="747.2" cy="115.6" r="23" fill="#4a80d8"/>
<circle cx="741.5" cy="125.4" r="23" fill="#4a80d8"/>
<circle cx="840.3" cy="276" r="16.4" fill="#4a80d8"/>
<circle cx="832.7" cy="273" r="16.4" fill="#4a80d8"/>
<circle cx="811.6" cy="286.9" r="21.9" fill="#4a80d8"/>
<circle cx="802.3" cy="281.4" r="21.9" fill="#4a80d8"/>
<circle cx="727.3" cy="139.3" r="21.5" fill="#4a80d8"/>
<circle cx="722.6" cy="148.9" r="21.5" fill="#4a80d8"/>
<circle cx="727.5" cy="265.9" r="19.7" fill="#4a80d8"/>
<circle cx="721.7" cy="258" r="19.7" fill="#4a80d8"/>
<circle cx="850.5" cy="238.2" r="19.7" fill="#4a80d8"/>
<circle cx="840.9" cy="236.8" r="19.7" fill="#4a80d8"/>
<circle cx="844.7" cy="165" r="17.5" fill="#4a80d8"/>
<circle cx="836.5" cy="167.7" r="17.5" fill="#4a80d8"/>
<circle cx="784.3" cy="277.3" r="21.9" fill="#4a80d8"/>
<circle cx="775.3" cy="271.3" r="21.9" fill="#4a80d8"/>
<circle cx="852.5" cy="198.9" r="18.6" fill="#4a80d8"/>
<circle cx="843.4" cy="199.8" r="18.6" fill="#4a80d8"/>
<circle cx="828.1" cy="257.7" r="17.5" fill="#4a80d8"/>
<circle cx="819.8" cy="255.1" r="17.5" fill="#4a80d8"/>
<circle cx="764" cy="145.4" r="24.8" fill="#4a80d8"/>
<circle cx="755" cy="153.8" r="24.8" fill="#4a80d8"/>
<circle cx="812.4" cy="156.3" r="24.8" fill="#4a80d8"/>
<circle cx="801.4" cy="161.6" r="24.8" fill="#4a80d8"/>
<circle cx="740.5" cy="162.4" r="21.5" fill="#4a80d8"/>
<circle cx="733.1" cy="170.1" r="21.5" fill="#4a80d8"/>
<circle cx="755.9" cy="257.2" r="19.7" fill="#4a80d8"/>
<circle cx="747.7" cy="251.9" r="19.7" fill="#4a80d8"/>
<circle cx="810.6" cy="250.1" r="16.4" fill="#4a80d8"/>
<circle cx="802.8" cy="247.8" r="16.4" fill="#4a80d8"/>
<circle cx="712.8" cy="200.7" r="26.3" fill="#4a80d8"/>
<circle cx="701.8" cy="207.6" r="26.3" fill="#4a80d8"/>
<circle cx="823.9" cy="226.8" r="18.6" fill="#4a80d8"/>
<circle cx="814.7" cy="226" r="18.6" fill="#4a80d8"/>
<circle cx="821.3" cy="194" r="23" fill="#4a80d8"/>
<circle cx="810" cy="195.8" r="23" fill="#4a80d8"/>
<circle cx="734.5" cy="231.2" r="17.5" fill="#4a80d8"/>
<circle cx="726.3" cy="228.2" r="17.5" fill="#4a80d8"/>
<circle cx="772.8" cy="237.6" r="26.3" fill="#4a80d8"/>
<circle cx="760.2" cy="234.2" r="26.3" fill="#4a80d8"/>
<circle cx="780.4" cy="177.3" r="27.4" fill="#4a80d8"/>
<circle cx="767.9" cy="182.5" r="27.4" fill="#4a80d8"/>
<circle cx="797.9" cy="123.6" r="24.8" fill="#4a80d8"/>
<circle cx="788.6" cy="131.6" r="24.8" fill="#4a80d8"/>
<circle cx="801.8" cy="210.3" r="17.5" fill="#4a80d8"/>
<circle cx="793.1" cy="210.6" r="17.5" fill="#4a80d8"/>
<circle cx="752" cy="203.4" r="23" fill="#4a80d8"/>
<circle cx="740.8" cy="205.5" r="23" fill="#4a80d8"/>
<circle cx="678.7" cy="131.9" r="19.7" fill="#8152d0"/>
<circle cx="680" cy="141.6" r="19.7" fill="#8152d0"/>
<circle cx="705.2" cy="149.9" r="17.5" fill="#8152d0"/>
<circle cx="703.3" cy="158.4" r="17.5" fill="#8152d0"/>
<circle cx="607.6" cy="151.6" r="20.8" fill="#8152d0"/>
<circle cx="615.7" cy="157.9" r="20.8" fill="#8152d0"/>
<circle cx="668.6" cy="169.4" r="24.1" fill="#8152d0"/>
<circle cx="673.6" cy="180.2" r="24.1" fill="#8152d0"/>
<circle cx="685.5" cy="337.8" r="23" fill="#8152d0"/>
<circle cx="685.9" cy="326.4" r="23" fill="#8152d0"/>
<circle cx="542.8" cy="281.2" r="21.9" fill="#8152d0"/>
<circle cx="552.7" cy="276.8" r="21.9" fill="#8152d0"/>
<circle cx="560.1" cy="313.8" r="18.6" fill="#8152d0"/>
<circle cx="567.4" cy="308.2" r="18.6" fill="#8152d0"/>
<circle cx="551.2" cy="224" r="19.7" fill="#8152d0"/>
<circle cx="560.9" cy="223.4" r="19.7" fill="#8152d0"/>
<circle cx="620.5" cy="174.6" r="17.5" fill="#8152d0"/>
<circle cx="628" cy="179" r="17.5" fill="#8152d0"/>
<circle cx="684.2" cy="204.5" r="23" fill="#8152d0"/>
<circle cx="689.7" cy="214.5" r="23" fill="#8152d0"/>
<circle cx="601.9" cy="318.2" r="26.3" fill="#8152d0"/>
<circle cx="610.4" cy="308.3" r="26.3" fill="#8152d0"/>
<circle cx="635.1" cy="327.4" r="21.9" fill="#8152d0"/>
<circle cx="639.9" cy="317.7" r="21.9" fill="#8152d0"/>
<circle cx="685.8" cy="298" r="24.1" fill="#8152d0"/>
<circle cx="686.4" cy="286.1" r="24.1" fill="#8152d0"/>
<circle cx="700.9" cy="249.5" r="26.3" fill="#8152d0"/>
<circle cx="697" cy="237.1" r="26.3" fill="#8152d0"/>
<circle cx="582.7" cy="215.7" r="21.9" fill="#8152d0"/>
<circle cx="593.6" cy="215.6" r="21.9" fill="#8152d0"/>
<circle cx="577.4" cy="282.2" r="20.8" fill="#8152d0"/>
<circle cx="586.3" cy="276.9" r="20.8" fill="#8152d0"/>
<circle cx="690" cy="273.4" r="19.7" fill="#8152d0"/>
<circle cx="690" cy="263.6" r="19.7" fill="#8152d0"/>
<circle cx="607.7" cy="207.7" r="18.6" fill="#8152d0"/>
<circle cx="616.8" cy="208.6" r="18.6" fill="#8152d0"/>
<circle cx="674.2" cy="223.4" r="25.2" fill="#8152d0"/>
<circle cx="685.2" cy="217.5" r="25.2" fill="#8152d0"/>
<circle cx="647.1" cy="287.9" r="21.9" fill="#8152d0"/>
<circle cx="652.6" cy="278.6" r="21.9" fill="#8152d0"/>
<circle cx="604" cy="252.2" r="23" fill="#8152d0"/>
<circle cx="614.5" cy="247.6" r="23" fill="#8152d0"/>
<circle cx="635.3" cy="225.4" r="19.7" fill="#8152d0"/>
<circle cx="644.9" cy="223.6" r="19.7" fill="#8152d0"/>
<circle cx="562.5" cy="250.8" r="21.9" fill="#4a80d8"/>
<circle cx="572.9" cy="247.9" r="21.9" fill="#4a80d8"/>
<circle cx="627.5" cy="281.7" r="28.5" fill="#4a80d8"/>
<circle cx="637.1" cy="271.4" r="28.5" fill="#4a80d8"/>
<circle cx="647.6" cy="197.3" r="21.4" fill="#e26634"/>
<circle cx="657.4" cy="201.4" r="21.4" fill="#e26634"/>
<g transform="translate(814 334)">
<ellipse rx="14" ry="14" fill="url(#gE)" stroke="#0c0e26" stroke-width="1.9"/>
<circle r="7.7" fill="#3c6638"/>
<ellipse cx="-3.9" cy="-2.8" rx="2.2" ry="5" transform="rotate(-25)" fill="#5a8453" opacity=".45"/>
</g>
<g transform="translate(767 350)">
<ellipse rx="16.9" ry="16.9" fill="url(#gBd)" stroke="#0c0e26" stroke-width="1.9"/>
<ellipse cx="1.7" cy="0.3" rx="4.6" ry="4.6" fill="#3b78c6" opacity=".7"/>
</g>
<g transform="translate(752 357)">
<ellipse rx="14.7" ry="14.7" fill="url(#gBd)" stroke="#0c0e26" stroke-width="1.9"/>
<ellipse cx="1.5" cy="0.3" rx="4" ry="4" fill="#3b78c6" opacity=".7"/>
</g>
<g transform="translate(641 362)">
<ellipse rx="15.8" ry="15.8" fill="url(#gBd)" stroke="#0c0e26" stroke-width="1.9"/>
<ellipse cx="1.6" cy="0.3" rx="4.3" ry="4.3" fill="#3b78c6" opacity=".7"/>
</g>
<g transform="translate(694 365)">
<ellipse rx="16.9" ry="16.9" fill="url(#gBd)" stroke="#0c0e26" stroke-width="1.9"/>
<ellipse cx="1.7" cy="0.3" rx="4.6" ry="4.6" fill="#3b78c6" opacity=".7"/>
</g>
<g transform="translate(739 366)">
<ellipse rx="15.8" ry="15.8" fill="url(#gBd)" stroke="#0c0e26" stroke-width="1.9"/>
<ellipse cx="1.6" cy="0.3" rx="4.3" ry="4.3" fill="#3b78c6" opacity=".7"/>
</g>
<g transform="translate(668 367)">
<ellipse rx="14.7" ry="14.7" fill="url(#gBd)" stroke="#0c0e26" stroke-width="1.9"/>
<ellipse cx="1.5" cy="0.3" rx="4" ry="4" fill="#3b78c6" opacity=".7"/>
</g>
<g transform="translate(716 361)">
<ellipse rx="15.8" ry="15.8" fill="url(#gBd)" stroke="#0c0e26" stroke-width="1.9"/>
<ellipse cx="1.6" cy="0.3" rx="4.3" ry="4.3" fill="#3b78c6" opacity=".7"/>
</g>
<g transform="translate(760 355)">
<ellipse rx="14.7" ry="14.7" fill="url(#gBd)" stroke="#0c0e26" stroke-width="1.9"/>
<ellipse cx="1.5" cy="0.3" rx="4" ry="4" fill="#3b78c6" opacity=".7"/>
</g>
<g transform="translate(597 356)">
<ellipse rx="16.9" ry="16.9" fill="url(#gPd)" stroke="#0c0e26" stroke-width="1.9"/>
<ellipse cx="1.7" cy="0.3" rx="4.9" ry="4.9" fill="#6d34ad" opacity=".7"/>
</g>
<g transform="translate(620 359)">
<ellipse rx="13.6" ry="13.6" fill="url(#gPd)" stroke="#0c0e26" stroke-width="1.9"/>
<ellipse cx="1.4" cy="0.3" rx="3.9" ry="3.9" fill="#6d34ad" opacity=".7"/>
</g>
<g transform="translate(421.7 229)">
<ellipse rx="14" ry="14" fill="url(#gE)" stroke="#0c0e26" stroke-width="1.9"/>
<circle r="7.7" fill="#3c6638"/>
<ellipse cx="-3.9" cy="-2.8" rx="2.2" ry="5" transform="rotate(-25)" fill="#5a8453" opacity=".45"/>
</g>
<g transform="translate(446 292)">
<ellipse rx="14.5" ry="14.5" fill="url(#gE)" stroke="#0c0e26" stroke-width="1.9"/>
<circle r="8" fill="#3c6638"/>
<ellipse cx="-4.1" cy="-2.9" rx="2.3" ry="5.2" transform="rotate(-25)" fill="#5a8453" opacity=".45"/>
</g>
<g transform="translate(488 291.5)">
<ellipse rx="14.5" ry="14.5" fill="url(#gE)" stroke="#0c0e26" stroke-width="1.9"/>
<circle r="8" fill="#3c6638"/>
<ellipse cx="-4.1" cy="-2.9" rx="2.3" ry="5.2" transform="rotate(-25)" fill="#5a8453" opacity=".45"/>
</g>
<path d="M727.7 462.1L727.8 460.4L727.8 458.2L727.8 455.5L727.9 452.4L727.9 449.2L727.9 446L727.8 442.7L727.7 439.7L727.6 436.8L727.5 433.9L727.3 430.9L727.1 427.9L726.8 425L726.5 422.2L726.1 419.4L725.7 416.9L725.2 414.5L724.7 412.3L724.1 410.2L723.4 408.1L722.7 406.1L721.9 404.2L720.9 402.2L719.9 400.4L718.8 398.7L717.6 397.1L716.4 395.6L715 394.1L713.5 392.7L712 391.5L710.3 390.2L708.5 389L706.5 387.9L704.3 386.9L702 386L699.8 385.1L697.5 384.3L695.3 383.5L693.2 382.8L691.3 382L689.4 381.3L687.4 380.5L685.5 379.8L683.8 379.2L682 378.5L680.4 377.8L678.9 377.1L677.5 376.4L676.1 375.6L674.8 374.8L673.5 373.9L672.3 373L671.1 372L670 371.1L669 370.1L668 369.1L667.1 368.2L666.3 367.1L665.4 365.9L664.6 364.6L663.9 363.5L663.2 362.4L662.6 361.4L662.1 360.7L657.9 363.3L658.3 364L658.8 364.9L659.4 366.1L660.2 367.4L661 368.7L661.9 370.2L662.9 371.6L664 372.9L665.1 374L666.2 375.2L667.4 376.3L668.7 377.4L670 378.5L671.4 379.6L672.9 380.6L674.5 381.6L676.2 382.5L677.9 383.4L679.7 384.2L681.5 384.9L683.3 385.6L685.1 386.4L686.9 387.1L688.7 388L690.7 388.9L692.7 389.9L694.8 390.8L696.9 391.8L698.9 392.8L700.7 393.9L702.2 394.9L703.5 396L704.6 397L705.5 398.2L706.3 399.3L707 400.4L707.6 401.6L708.1 402.9L708.6 404.2L709.1 405.6L709.5 407L709.8 408.4L710.1 409.9L710.4 411.4L710.6 413.1L710.8 415L711.1 417L711.3 419.1L711.6 421.4L711.9 423.9L712.2 426.5L712.4 429.2L712.7 432L712.9 434.8L713.1 437.6L713.3 440.3L713.3 443.1L713.4 446.1L713.4 449.2L713.4 452.3L713.3 455.3L713.3 457.9L713.3 460.2L713.3 461.9ZM720.5 404.2L720.5 403.3L720.5 402L720.5 400.6L720.5 399.1L720.5 397.4L720.6 395.7L720.7 394.1L721 392.5L721.2 390.9L721.6 389.2L722 387.4L722.4 385.6L722.9 383.8L723.4 382.1L724 380.5L724.5 379.1L725.1 377.9L725.8 376.6L726.6 375.4L727.4 374.2L728.1 373.1L728.9 372.1L729.5 371.2L730 370.5L726 367.5L725.5 368.1L724.9 368.9L724.1 369.9L723.1 371.1L722.2 372.4L721.2 373.8L720.3 375.3L719.5 376.9L718.8 378.5L718.1 380.3L717.5 382.1L716.9 384L716.4 386L715.9 387.9L715.5 389.7L715 391.5L714.7 393.2L714.4 395.1L714.2 396.9L714 398.7L713.8 400.3L713.7 401.7L713.6 402.9L713.5 403.8Z" fill="#16240c" stroke="#16240c" stroke-width="2.8" stroke-linejoin="round"/>
<path d="M727.7 462.1L727.8 460.4L727.8 458.2L727.8 455.5L727.9 452.4L727.9 449.2L727.9 446L727.8 442.7L727.7 439.7L727.6 436.8L727.5 433.9L727.3 430.9L727.1 427.9L726.8 425L726.5 422.2L726.1 419.4L725.7 416.9L725.2 414.5L724.7 412.3L724.1 410.2L723.4 408.1L722.7 406.1L721.9 404.2L720.9 402.2L719.9 400.4L718.8 398.7L717.6 397.1L716.4 395.6L715 394.1L713.5 392.7L712 391.5L710.3 390.2L708.5 389L706.5 387.9L704.3 386.9L702 386L699.8 385.1L697.5 384.3L695.3 383.5L693.2 382.8L691.3 382L689.4 381.3L687.4 380.5L685.5 379.8L683.8 379.2L682 378.5L680.4 377.8L678.9 377.1L677.5 376.4L676.1 375.6L674.8 374.8L673.5 373.9L672.3 373L671.1 372L670 371.1L669 370.1L668 369.1L667.1 368.2L666.3 367.1L665.4 365.9L664.6 364.6L663.9 363.5L663.2 362.4L662.6 361.4L662.1 360.7L657.9 363.3L658.3 364L658.8 364.9L659.4 366.1L660.2 367.4L661 368.7L661.9 370.2L662.9 371.6L664 372.9L665.1 374L666.2 375.2L667.4 376.3L668.7 377.4L670 378.5L671.4 379.6L672.9 380.6L674.5 381.6L676.2 382.5L677.9 383.4L679.7 384.2L681.5 384.9L683.3 385.6L685.1 386.4L686.9 387.1L688.7 388L690.7 388.9L692.7 389.9L694.8 390.8L696.9 391.8L698.9 392.8L700.7 393.9L702.2 394.9L703.5 396L704.6 397L705.5 398.2L706.3 399.3L707 400.4L707.6 401.6L708.1 402.9L708.6 404.2L709.1 405.6L709.5 407L709.8 408.4L710.1 409.9L710.4 411.4L710.6 413.1L710.8 415L711.1 417L711.3 419.1L711.6 421.4L711.9 423.9L712.2 426.5L712.4 429.2L712.7 432L712.9 434.8L713.1 437.6L713.3 440.3L713.3 443.1L713.4 446.1L713.4 449.2L713.4 452.3L713.3 455.3L713.3 457.9L713.3 460.2L713.3 461.9ZM720.5 404.2L720.5 403.3L720.5 402L720.5 400.6L720.5 399.1L720.5 397.4L720.6 395.7L720.7 394.1L721 392.5L721.2 390.9L721.6 389.2L722 387.4L722.4 385.6L722.9 383.8L723.4 382.1L724 380.5L724.5 379.1L725.1 377.9L725.8 376.6L726.6 375.4L727.4 374.2L728.1 373.1L728.9 372.1L729.5 371.2L730 370.5L726 367.5L725.5 368.1L724.9 368.9L724.1 369.9L723.1 371.1L722.2 372.4L721.2 373.8L720.3 375.3L719.5 376.9L718.8 378.5L718.1 380.3L717.5 382.1L716.9 384L716.4 386L715.9 387.9L715.5 389.7L715 391.5L714.7 393.2L714.4 395.1L714.2 396.9L714 398.7L713.8 400.3L713.7 401.7L713.6 402.9L713.5 403.8Z" fill="#8edb38" stroke="#8edb38" stroke-width=".4" stroke-linejoin="round"/>
<path d="M723.3 462L723.3 460.3L723.4 458.1L723.4 455.4L723.5 452.4L723.5 449.2L723.5 446L723.4 442.9L723.3 439.9L723.2 437.1L723 434.2L722.8 431.3L722.6 428.4L722.3 425.5L722 422.8L721.7 420.1L721.3 417.7L720.9 415.4L720.5 413.3L720 411.3L719.5 409.3L719 407.5L718.3 405.7L717.6 403.9L716.8 402.3L715.9 400.7L715 399.2L714 397.8L712.9 396.4L711.7 395.1L710.5 393.9L709 392.7L707.5 391.5L705.7 390.4L703.8 389.4L701.7 388.4L699.5 387.5L697.4 386.7L695.2 385.8L693.1 385L691.2 384.2L689.3 383.4L687.4 382.6L685.5 381.9L683.7 381.2L682 380.5L680.3 379.8L678.7 379.1L677.2 378.3L675.8 377.4L674.4 376.5L673.1 375.5L671.8 374.6L670.6 373.6L669.5 372.5L668.4 371.5L667.4 370.5L666.4 369.4L665.5 368.2L664.6 366.9L663.8 365.6L663.1 364.4L662.4 363.3L661.8 362.3L661.4 361.6L660.2 362.4L660.6 363.1L661.2 364L661.8 365.1L662.6 366.4L663.4 367.7L664.3 369L665.2 370.3L666.2 371.5L667.3 372.6L668.4 373.7L669.6 374.8L670.8 375.8L672.1 376.8L673.5 377.8L674.9 378.8L676.4 379.7L678 380.6L679.6 381.4L681.3 382.1L683.1 382.8L684.9 383.5L686.7 384.3L688.6 385L690.4 385.8L692.4 386.7L694.5 387.6L696.6 388.5L698.7 389.4L700.8 390.4L702.8 391.4L704.6 392.4L706.1 393.5L707.5 394.6L708.7 395.7L709.7 396.9L710.7 398.2L711.5 399.5L712.3 400.8L713.1 402.2L713.8 403.7L714.4 405.3L715 406.9L715.5 408.5L715.9 410.2L716.3 412.1L716.6 414L717 416.1L717.3 418.3L717.6 420.7L717.9 423.2L718.2 425.9L718.5 428.7L718.7 431.6L719 434.5L719.1 437.3L719.3 440.1L719.4 442.9L719.4 446L719.4 449.2L719.4 452.4L719.4 455.3L719.3 458L719.3 460.3L719.3 462Z" fill="#c4f06a" opacity=".85"/>
<path d="M711.5 462L711.5 460.4L711.5 458.1L711.6 455.4L711.6 452.3L711.6 449.1L711.6 445.8L711.6 442.7L711.5 439.8L711.4 437L711.3 434.3L711.1 431.6L710.9 428.9L710.7 426.3L710.5 423.8L710.2 421.4L710 419.2L709.8 417.3L709.6 415.5L709.5 413.5L709.3 411.3L708.9 408.9L708.3 406.2L707.1 403.3L705.3 400.4L702.8 398L700.1 396.4L697.5 395.5L695.2 395.2L693.2 395.1L691.4 395.1L689.7 395L688 394.8L685.9 394.4L683.6 393.9L681.3 393.4L678.9 392.9L676.5 392.4L674.1 391.8L671.8 391.3L669.6 390.7L667.3 390.2L664.9 389.6L662.5 389L660.2 388.3L657.9 387.7L655.6 387.1L653.6 386.4L651.6 385.8L649.8 385.2L648.1 384.6L646.7 384.1L645.4 383.7L644.2 383.1L643 382.6L641.8 381.8L640.6 381L639.3 379.8L637.9 378.4L636.5 376.8L634.9 375L633.4 373.1L631.8 371.1L630.2 369.3L628.5 367.6L626.9 366L625.3 364.6L623.7 363.2L622.1 361.9L620.5 360.7L618.9 359.5L617.4 358.4L615.8 357.3L614.3 356.3L612.8 355.5L611.3 354.8L609.9 354.1L608.6 353.5L607.3 352.9L605.9 352.2L604.5 351.4L603.1 350.5L601.6 349.7L600.2 348.9L598.9 348L597.4 347.1L595.8 345.9L594 344.5L592 342.8L589.5 340.5L586.5 337.6L583.2 334.3L579.8 330.8L576.5 327.5L573.5 324.4L571 321.8L569.1 319.9L564.9 324.1L566.7 326L569.2 328.6L572.2 331.7L575.5 335L579 338.5L582.3 341.8L585.4 344.8L588 347.2L590.2 349.1L592.2 350.7L594 352L595.6 353.1L597.2 354L598.6 354.9L600 355.7L601.5 356.6L603 357.5L604.5 358.3L605.9 359.1L607.2 359.7L608.5 360.4L609.7 361.1L610.9 361.8L612.2 362.7L613.5 363.7L614.9 364.8L616.4 365.9L617.8 367.1L619.2 368.3L620.7 369.7L622.1 371L623.5 372.4L624.8 374L626.2 375.7L627.6 377.6L629.1 379.5L630.5 381.5L632.1 383.5L633.7 385.4L635.4 387L637.1 388.4L638.7 389.6L640.3 390.5L641.9 391.3L643.5 392.1L645 392.7L646.6 393.4L648.4 394.2L650.4 395.1L652.5 396L654.8 396.9L657.1 397.8L659.4 398.7L661.8 399.6L664.1 400.4L666.4 401.3L668.8 402.1L671.2 402.8L673.6 403.5L676 404.2L678.2 404.9L680.4 405.6L682.3 406.4L684 407.2L685.8 408.1L687.5 409L688.8 409.9L689.8 410.7L690.2 411.4L690 411.9L689.4 411.9L688.7 411.6L688.3 411.3L688 411.3L688 411.8L688 412.9L688 414.4L687.9 416.2L688 418.5L688 420.8L688.1 423L688.2 425.3L688.3 427.6L688.3 430.1L688.4 432.6L688.4 435.1L688.5 437.7L688.5 440.2L688.5 442.9L688.5 445.9L688.5 449.1L688.5 452.2L688.5 455.2L688.5 457.9L688.5 460.2L688.5 462ZM651.3 358.4L651.2 359L650.9 359.9L650.6 360.9L650.3 362.1L650 363.4L649.6 364.7L649.3 366.2L649 367.5L648.8 368.8L648.4 370.2L648.1 371.7L647.7 373.3L647.5 375.1L647.3 376.9L647.3 378.9L647.6 380.9L648.2 382.9L649.1 385L650.2 386.9L651.3 388.8L652.4 390.6L653.3 392.1L654.1 393.3L654.6 394.2L661.4 389.8L660.7 388.9L659.8 387.6L658.7 386.2L657.6 384.7L656.5 383.1L655.6 381.6L654.8 380.2L654.4 379.1L654.2 378.1L654 376.9L654 375.7L654.1 374.3L654.3 372.9L654.5 371.4L654.8 369.9L655 368.5L655.1 367.2L655.3 365.9L655.6 364.6L655.8 363.4L656.1 362.3L656.3 361.2L656.5 360.3L656.7 359.6ZM705.8 413.6L706 412.3L706 410.6L706.1 408.9L706.1 407.1L706.3 405.3L706.5 403.5L706.8 402L707.3 400.6L708 399.2L709 397.7L710.2 396.1L711.6 394.5L713.1 392.8L714.8 391.2L716.5 389.5L718.3 387.9L720.2 386.4L722.3 384.9L724.5 383.3L726.8 381.8L729.2 380.3L731.5 378.7L733.8 377.2L736 375.6L737.9 374L739.6 372.3L741.2 370.7L742.6 369.3L744 367.9L745.3 366.7L746.8 365.6L748.3 364.7L750.1 363.9L752.3 363.3L754.7 362.7L757.2 362.2L759.8 361.8L762.4 361.2L764.9 360.6L767.2 359.8L769.1 358.8L770.9 357.9L772.5 356.8L773.9 355.7L775.2 354.5L776.4 353.3L777.5 352L778.5 350.6L779.4 349L780.1 347.1L780.6 345.3L780.9 343.6L781.2 341.9L781.4 340.5L781.5 339.4L781.7 338.6L776.3 337.4L776.1 338.4L775.9 339.6L775.6 341L775.3 342.4L774.9 343.9L774.5 345.3L774 346.4L773.5 347.4L772.8 348.3L772 349.3L771.1 350.2L770.1 351L769 351.9L767.7 352.7L766.3 353.5L764.8 354.2L763.1 354.9L761.1 355.4L758.7 355.9L756.1 356.4L753.5 356.9L750.8 357.5L748.2 358.3L745.7 359.3L743.5 360.5L741.6 361.9L739.8 363.4L738.3 364.9L736.8 366.3L735.3 367.7L733.7 369.1L732 370.4L730.1 371.7L727.9 373.1L725.6 374.5L723.2 376L720.7 377.4L718.3 378.9L715.9 380.5L713.7 382.1L711.6 383.6L709.6 385.1L707.6 386.7L705.7 388.3L703.8 389.9L702 391.7L700.3 393.4L698.7 395.4L697.3 397.6L696.1 400L695.1 402.3L694.2 404.5L693.6 406.6L693 408.3L692.5 409.6L692.2 410.4Z" fill="#330808" stroke="#330808" stroke-width="2.8" stroke-linejoin="round"/>
<path d="M711.5 462L711.5 460.4L711.5 458.1L711.6 455.4L711.6 452.3L711.6 449.1L711.6 445.8L711.6 442.7L711.5 439.8L711.4 437L711.3 434.3L711.1 431.6L710.9 428.9L710.7 426.3L710.5 423.8L710.2 421.4L710 419.2L709.8 417.3L709.6 415.5L709.5 413.5L709.3 411.3L708.9 408.9L708.3 406.2L707.1 403.3L705.3 400.4L702.8 398L700.1 396.4L697.5 395.5L695.2 395.2L693.2 395.1L691.4 395.1L689.7 395L688 394.8L685.9 394.4L683.6 393.9L681.3 393.4L678.9 392.9L676.5 392.4L674.1 391.8L671.8 391.3L669.6 390.7L667.3 390.2L664.9 389.6L662.5 389L660.2 388.3L657.9 387.7L655.6 387.1L653.6 386.4L651.6 385.8L649.8 385.2L648.1 384.6L646.7 384.1L645.4 383.7L644.2 383.1L643 382.6L641.8 381.8L640.6 381L639.3 379.8L637.9 378.4L636.5 376.8L634.9 375L633.4 373.1L631.8 371.1L630.2 369.3L628.5 367.6L626.9 366L625.3 364.6L623.7 363.2L622.1 361.9L620.5 360.7L618.9 359.5L617.4 358.4L615.8 357.3L614.3 356.3L612.8 355.5L611.3 354.8L609.9 354.1L608.6 353.5L607.3 352.9L605.9 352.2L604.5 351.4L603.1 350.5L601.6 349.7L600.2 348.9L598.9 348L597.4 347.1L595.8 345.9L594 344.5L592 342.8L589.5 340.5L586.5 337.6L583.2 334.3L579.8 330.8L576.5 327.5L573.5 324.4L571 321.8L569.1 319.9L564.9 324.1L566.7 326L569.2 328.6L572.2 331.7L575.5 335L579 338.5L582.3 341.8L585.4 344.8L588 347.2L590.2 349.1L592.2 350.7L594 352L595.6 353.1L597.2 354L598.6 354.9L600 355.7L601.5 356.6L603 357.5L604.5 358.3L605.9 359.1L607.2 359.7L608.5 360.4L609.7 361.1L610.9 361.8L612.2 362.7L613.5 363.7L614.9 364.8L616.4 365.9L617.8 367.1L619.2 368.3L620.7 369.7L622.1 371L623.5 372.4L624.8 374L626.2 375.7L627.6 377.6L629.1 379.5L630.5 381.5L632.1 383.5L633.7 385.4L635.4 387L637.1 388.4L638.7 389.6L640.3 390.5L641.9 391.3L643.5 392.1L645 392.7L646.6 393.4L648.4 394.2L650.4 395.1L652.5 396L654.8 396.9L657.1 397.8L659.4 398.7L661.8 399.6L664.1 400.4L666.4 401.3L668.8 402.1L671.2 402.8L673.6 403.5L676 404.2L678.2 404.9L680.4 405.6L682.3 406.4L684 407.2L685.8 408.1L687.5 409L688.8 409.9L689.8 410.7L690.2 411.4L690 411.9L689.4 411.9L688.7 411.6L688.3 411.3L688 411.3L688 411.8L688 412.9L688 414.4L687.9 416.2L688 418.5L688 420.8L688.1 423L688.2 425.3L688.3 427.6L688.3 430.1L688.4 432.6L688.4 435.1L688.5 437.7L688.5 440.2L688.5 442.9L688.5 445.9L688.5 449.1L688.5 452.2L688.5 455.2L688.5 457.9L688.5 460.2L688.5 462ZM651.3 358.4L651.2 359L650.9 359.9L650.6 360.9L650.3 362.1L650 363.4L649.6 364.7L649.3 366.2L649 367.5L648.8 368.8L648.4 370.2L648.1 371.7L647.7 373.3L647.5 375.1L647.3 376.9L647.3 378.9L647.6 380.9L648.2 382.9L649.1 385L650.2 386.9L651.3 388.8L652.4 390.6L653.3 392.1L654.1 393.3L654.6 394.2L661.4 389.8L660.7 388.9L659.8 387.6L658.7 386.2L657.6 384.7L656.5 383.1L655.6 381.6L654.8 380.2L654.4 379.1L654.2 378.1L654 376.9L654 375.7L654.1 374.3L654.3 372.9L654.5 371.4L654.8 369.9L655 368.5L655.1 367.2L655.3 365.9L655.6 364.6L655.8 363.4L656.1 362.3L656.3 361.2L656.5 360.3L656.7 359.6ZM705.8 413.6L706 412.3L706 410.6L706.1 408.9L706.1 407.1L706.3 405.3L706.5 403.5L706.8 402L707.3 400.6L708 399.2L709 397.7L710.2 396.1L711.6 394.5L713.1 392.8L714.8 391.2L716.5 389.5L718.3 387.9L720.2 386.4L722.3 384.9L724.5 383.3L726.8 381.8L729.2 380.3L731.5 378.7L733.8 377.2L736 375.6L737.9 374L739.6 372.3L741.2 370.7L742.6 369.3L744 367.9L745.3 366.7L746.8 365.6L748.3 364.7L750.1 363.9L752.3 363.3L754.7 362.7L757.2 362.2L759.8 361.8L762.4 361.2L764.9 360.6L767.2 359.8L769.1 358.8L770.9 357.9L772.5 356.8L773.9 355.7L775.2 354.5L776.4 353.3L777.5 352L778.5 350.6L779.4 349L780.1 347.1L780.6 345.3L780.9 343.6L781.2 341.9L781.4 340.5L781.5 339.4L781.7 338.6L776.3 337.4L776.1 338.4L775.9 339.6L775.6 341L775.3 342.4L774.9 343.9L774.5 345.3L774 346.4L773.5 347.4L772.8 348.3L772 349.3L771.1 350.2L770.1 351L769 351.9L767.7 352.7L766.3 353.5L764.8 354.2L763.1 354.9L761.1 355.4L758.7 355.9L756.1 356.4L753.5 356.9L750.8 357.5L748.2 358.3L745.7 359.3L743.5 360.5L741.6 361.9L739.8 363.4L738.3 364.9L736.8 366.3L735.3 367.7L733.7 369.1L732 370.4L730.1 371.7L727.9 373.1L725.6 374.5L723.2 376L720.7 377.4L718.3 378.9L715.9 380.5L713.7 382.1L711.6 383.6L709.6 385.1L707.6 386.7L705.7 388.3L703.8 389.9L702 391.7L700.3 393.4L698.7 395.4L697.3 397.6L696.1 400L695.1 402.3L694.2 404.5L693.6 406.6L693 408.3L692.5 409.6L692.2 410.4Z" fill="#ee2f25" stroke="#ee2f25" stroke-width=".4" stroke-linejoin="round"/>
<path d="M700.1 462L700.1 460.3L700.1 458L700.2 455.3L700.2 452.3L700.2 449.1L700.2 445.9L700.2 442.8L700.1 439.9L700 437.3L700 434.6L699.9 432L699.7 429.4L699.6 426.8L699.5 424.4L699.3 422L699.1 419.8L699 417.8L698.9 415.8L698.8 413.8L698.7 411.9L698.5 410L698.2 408.2L697.6 406.4L696.7 404.7L695.5 403.3L694.2 402.2L692.7 401.5L691.3 401L689.8 400.6L688.2 400.3L686.6 399.9L685 399.5L683.1 398.9L681 398.3L678.7 397.7L676.4 397.1L674 396.6L671.7 395.9L669.3 395.3L667.1 394.7L664.8 394L662.5 393.3L660.2 392.6L657.8 391.9L655.5 391.1L653.3 390.4L651.3 389.7L649.3 389L647.6 388.3L645.9 387.7L644.4 387.1L643 386.5L641.7 385.9L640.4 385.2L639.1 384.3L637.7 383.2L636.3 381.9L634.8 380.3L633.3 378.6L631.8 376.7L630.3 374.7L628.8 372.8L627.3 371L625.8 369.4L624.3 367.9L622.7 366.5L621.2 365.1L619.7 363.9L618.1 362.6L616.6 361.5L615.1 360.4L613.7 359.3L612.2 358.4L610.8 357.6L609.5 356.9L608.2 356.2L606.8 355.6L605.5 354.9L604.1 354.2L602.7 353.4L601.2 352.5L599.8 351.6L598.4 350.8L596.9 349.9L595.4 348.9L593.7 347.7L591.9 346.2L589.8 344.4L587.2 342.1L584.2 339.2L580.9 335.9L577.5 332.4L574.2 329L571.2 325.9L568.7 323.3L566.8 321.5L565.7 322.5L567.6 324.4L570.1 327L573.1 330.1L576.4 333.5L579.8 336.9L583.2 340.2L586.2 343.2L588.8 345.6L590.9 347.4L592.8 348.9L594.6 350.1L596.1 351.2L597.6 352.1L599 352.9L600.4 353.8L601.9 354.6L603.4 355.5L604.8 356.3L606.1 357L607.5 357.6L608.8 358.3L610.1 359L611.4 359.8L612.8 360.7L614.2 361.7L615.6 362.8L617.1 363.9L618.6 365.1L620.1 366.4L621.6 367.8L623.1 369.2L624.5 370.6L626 372.2L627.4 374L628.9 375.9L630.4 377.8L631.8 379.8L633.3 381.6L634.9 383.3L636.4 384.8L637.9 386L639.3 386.9L640.8 387.8L642.2 388.5L643.6 389.1L645.1 389.7L646.8 390.3L648.5 391L650.5 391.8L652.5 392.6L654.8 393.4L657 394.2L659.4 395L661.7 395.8L664 396.6L666.3 397.3L668.6 398L670.9 398.7L673.3 399.3L675.7 400L678 400.6L680.1 401.2L682.1 401.9L683.9 402.5L685.6 403.2L687.2 403.8L688.6 404.3L689.8 404.9L690.7 405.4L691.5 406L692 406.6L692.5 407.3L692.8 408.2L693.1 409.3L693.3 410.6L693.4 412.2L693.4 414L693.5 415.9L693.5 418L693.6 420.2L693.8 422.4L693.9 424.7L694 427.1L694.1 429.6L694.2 432.2L694.2 434.8L694.3 437.4L694.4 440.1L694.4 442.8L694.4 445.9L694.4 449.1L694.4 452.2L694.4 455.3L694.4 458L694.4 460.3L694.4 462Z" fill="#f9766a" opacity=".8"/>
<rect x="680" y="430" width="60" height="20" fill="url(#fadeR)"/>
<rect x="680" y="449.5" width="60" height="20" fill="#fff"/>
<g transform="translate(715 324)">
<ellipse rx="15.8" ry="22.6" fill="url(#gO2)" stroke="#0c0e26" stroke-width="1.9"/>
<ellipse cx="1.6" cy="0.3" rx="5.2" ry="5.5" fill="#d8533a"/>
<ellipse cx="-3.4" cy="-2.3" rx="2.4" ry="5.7" transform="rotate(-12)" fill="#fbb58e" opacity=".55"/>
</g>
<g transform="translate(509 258)">
<ellipse rx="16.9" ry="7.1" transform="rotate(54.9)" fill="url(#gO2)" stroke="#0c0e26" stroke-width="1.9"/>
<ellipse cx="0.7" cy="0.1" rx="3.3" ry="3.4" fill="#d8533a"/>
<ellipse cx="-2.4" cy="-1.5" rx="1.5" ry="3.6" transform="rotate(-12)" fill="#fbb58e" opacity=".55"/>
</g>
<g transform="translate(618 60)">
<ellipse rx="21.5" ry="15.4" transform="rotate(-166.8)" fill="url(#gO2)" stroke="#0c0e26" stroke-width="1.9"/>
<ellipse cx="1.5" cy="0.3" rx="5" ry="5.3" fill="#d8533a"/>
<ellipse cx="-3.2" cy="-2.2" rx="2.3" ry="5.5" transform="rotate(-12)" fill="#fbb58e" opacity=".55"/>
</g>
<g transform="translate(508.7 157)">
<ellipse rx="20.3" ry="14.8" transform="rotate(-265.1)" fill="url(#gO2)" stroke="#0c0e26" stroke-width="1.9"/>
<ellipse cx="1.5" cy="0.3" rx="4.8" ry="5" fill="#d8533a"/>
<ellipse cx="-3.1" cy="-2.1" rx="2.1" ry="5.3" transform="rotate(-12)" fill="#fbb58e" opacity=".55"/>
</g>
<g transform="translate(530.8 116)">
<ellipse rx="20.3" ry="16.2" transform="rotate(-241.9)" fill="url(#gO2)" stroke="#0c0e26" stroke-width="1.9"/>
<ellipse cx="1.6" cy="0.3" rx="5" ry="5.2" fill="#d8533a"/>
<ellipse cx="-3.1" cy="-2.2" rx="2.2" ry="5.5" transform="rotate(-12)" fill="#fbb58e" opacity=".55"/>
</g>
<g transform="translate(572.8 86.3)">
<ellipse rx="23.7" ry="20" transform="rotate(-205.1)" fill="url(#gO2)" stroke="#0c0e26" stroke-width="1.9"/>
<ellipse cx="2" cy="0.4" rx="5.9" ry="6.2" fill="#d8533a"/>
<ellipse cx="-3.6" cy="-2.6" rx="2.7" ry="6.5" transform="rotate(-12)" fill="#fbb58e" opacity=".55"/>
</g>
<g transform="translate(675.5 73)">
<ellipse rx="21.5" ry="9" transform="rotate(-131.9)" fill="url(#gO2)" stroke="#0c0e26" stroke-width="1.9"/>
<ellipse cx="0.9" cy="0.2" rx="4.1" ry="4.4" fill="#d8533a"/>
<ellipse cx="-3" cy="-1.9" rx="1.9" ry="4.6" transform="rotate(-12)" fill="#fbb58e" opacity=".55"/>
</g>
<g transform="translate(644.6 72)">
<ellipse rx="20.3" ry="14.6" transform="rotate(-146.9)" fill="url(#gO2)" stroke="#0c0e26" stroke-width="1.9"/>
<ellipse cx="1.5" cy="0.3" rx="4.8" ry="5" fill="#d8533a"/>
<ellipse cx="-3.1" cy="-2.1" rx="2.1" ry="5.2" transform="rotate(-12)" fill="#fbb58e" opacity=".55"/>
</g>
<g transform="translate(513 192.4)">
<ellipse rx="20.3" ry="15.2" transform="rotate(78.7)" fill="url(#gO2)" stroke="#0c0e26" stroke-width="1.9"/>
<ellipse cx="1.5" cy="0.3" rx="4.8" ry="5.1" fill="#d8533a"/>
<ellipse cx="-3.1" cy="-2.1" rx="2.2" ry="5.3" transform="rotate(-12)" fill="#fbb58e" opacity=".55"/>
</g>
<g transform="translate(520.9 224.4)">
<ellipse rx="19.2" ry="13.9" transform="rotate(63.1)" fill="url(#gO2)" stroke="#0c0e26" stroke-width="1.9"/>
<ellipse cx="1.4" cy="0.3" rx="4.5" ry="4.7" fill="#d8533a"/>
<ellipse cx="-2.9" cy="-2" rx="2" ry="4.9" transform="rotate(-12)" fill="#fbb58e" opacity=".55"/>
</g>
<g transform="translate(567.3 107.3)">
<ellipse rx="19.2" ry="17.3" transform="rotate(-217.1)" fill="url(#gO2)" stroke="#0c0e26" stroke-width="1.9"/>
<ellipse cx="1.7" cy="0.3" rx="5" ry="5.2" fill="#d8533a"/>
<ellipse cx="-3" cy="-2.1" rx="2.2" ry="5.5" transform="rotate(-12)" fill="#fbb58e" opacity=".55"/>
</g>
<g transform="translate(612.5 86.3)">
<ellipse rx="22.6" ry="19.5" transform="rotate(-167.9)" fill="url(#gO2)" stroke="#0c0e26" stroke-width="1.9"/>
<ellipse cx="1.9" cy="0.4" rx="5.7" ry="6" fill="#d8533a"/>
<ellipse cx="-3.5" cy="-2.5" rx="2.6" ry="6.3" transform="rotate(-12)" fill="#fbb58e" opacity=".55"/>
</g>
<g transform="translate(532 160.3)">
<ellipse rx="19.2" ry="16.7" transform="rotate(-265.4)" fill="url(#gO2)" stroke="#0c0e26" stroke-width="1.9"/>
<ellipse cx="1.7" cy="0.3" rx="4.9" ry="5.1" fill="#d8533a"/>
<ellipse cx="-3" cy="-2.1" rx="2.2" ry="5.4" transform="rotate(-12)" fill="#fbb58e" opacity=".55"/>
</g>
<g transform="translate(560.6 139.3)">
<ellipse rx="21.5" ry="20.3" transform="rotate(-242.6)" fill="url(#gO2)" stroke="#0c0e26" stroke-width="1.9"/>
<ellipse cx="2" cy="0.4" rx="5.7" ry="6" fill="#d8533a"/>
<ellipse cx="-3.4" cy="-2.4" rx="2.6" ry="6.2" transform="rotate(-12)" fill="#fbb58e" opacity=".55"/>
</g>
<g transform="translate(649 100.7)">
<ellipse rx="22.6" ry="18.9" transform="rotate(-134.4)" fill="url(#gO2)" stroke="#0c0e26" stroke-width="1.9"/>
<ellipse cx="1.9" cy="0.4" rx="5.6" ry="5.9" fill="#d8533a"/>
<ellipse cx="-3.5" cy="-2.4" rx="2.5" ry="6.2" transform="rotate(-12)" fill="#fbb58e" opacity=".55"/>
</g>
<g transform="translate(541.9 188)">
<ellipse rx="19.2" ry="17.3" transform="rotate(76.2)" fill="url(#gO2)" stroke="#0c0e26" stroke-width="1.9"/>
<ellipse cx="1.7" cy="0.3" rx="5" ry="5.2" fill="#d8533a"/>
<ellipse cx="-3" cy="-2.1" rx="2.2" ry="5.5" transform="rotate(-12)" fill="#fbb58e" opacity=".55"/>
</g>
<g transform="translate(545 215)">
<ellipse rx="16.9" ry="14.8" transform="rotate(58.7)" fill="url(#gO2)" stroke="#0c0e26" stroke-width="1.9"/>
<ellipse cx="1.5" cy="0.3" rx="4.3" ry="4.5" fill="#d8533a"/>
<ellipse cx="-2.6" cy="-1.9" rx="1.9" ry="4.7" transform="rotate(-12)" fill="#fbb58e" opacity=".55"/>
</g>
<g transform="translate(621 108)">
<ellipse rx="18.1" ry="16.6" transform="rotate(-153.8)" fill="url(#gO2)" stroke="#0c0e26" stroke-width="1.9"/>
<ellipse cx="1.7" cy="0.3" rx="4.7" ry="5" fill="#d8533a"/>
<ellipse cx="-2.8" cy="-2" rx="2.1" ry="5.2" transform="rotate(-12)" fill="#fbb58e" opacity=".55"/>
</g>
<g transform="translate(596 120)">
<ellipse rx="18.1" ry="17.3" transform="rotate(-186.7)" fill="url(#gO2)" stroke="#0c0e26" stroke-width="1.9"/>
<ellipse cx="1.7" cy="0.3" rx="4.8" ry="5.1" fill="#d8533a"/>
<ellipse cx="-2.8" cy="-2.1" rx="2.2" ry="5.3" transform="rotate(-12)" fill="#fbb58e" opacity=".55"/>
</g>
<g transform="translate(724 230.8)">
<ellipse rx="20.3" ry="20.3" fill="url(#gO2)" stroke="#0c0e26" stroke-width="1.9"/>
<ellipse cx="2" cy="0.4" rx="5.5" ry="5.8" fill="#d8533a"/>
<ellipse cx="-3.2" cy="-2.4" rx="2.5" ry="6.1" transform="rotate(-12)" fill="#fbb58e" opacity=".55"/>
</g>
<g transform="translate(572.8 178)">
<ellipse rx="20.3" ry="20.3" fill="url(#gO2)" stroke="#0c0e26" stroke-width="1.9"/>
<ellipse cx="2" cy="0.4" rx="5.5" ry="5.8" fill="#d8533a"/>
<ellipse cx="-3.2" cy="-2.4" rx="2.5" ry="6.1" transform="rotate(-12)" fill="#fbb58e" opacity=".55"/>
</g>
<g transform="translate(638 133.8)">
<ellipse rx="21.5" ry="21.5" fill="url(#gO2)" stroke="#0c0e26" stroke-width="1.9"/>
<ellipse cx="2.1" cy="0.4" rx="5.8" ry="6.1" fill="#d8533a"/>
<ellipse cx="-3.4" cy="-2.5" rx="2.6" ry="6.4" transform="rotate(-12)" fill="#fbb58e" opacity=".55"/>
</g>
<g transform="translate(724.3 352.5)">
<ellipse rx="21.5" ry="21.5" fill="url(#gB2)" stroke="#0c0e26" stroke-width="1.9"/>
<ellipse cx="2.1" cy="0.4" rx="5.8" ry="6.1" fill="#4a80d2"/>
<ellipse cx="-3.4" cy="-2.5" rx="2.6" ry="6.4" transform="rotate(-12)" fill="#b4d6fb" opacity=".55"/>
</g>
<g transform="translate(694 93.8)">
<ellipse rx="18.6" ry="18.6" fill="url(#gB2)" stroke="#0c0e26" stroke-width="1.9"/>
<ellipse cx="1.9" cy="0.4" rx="5.1" ry="5.3" fill="#4a80d2"/>
<ellipse cx="-3" cy="-2.2" rx="2.3" ry="5.6" transform="rotate(-12)" fill="#b4d6fb" opacity=".55"/>
</g>
<g transform="translate(736.4 78.7)">
<ellipse rx="23.7" ry="15" transform="rotate(-207)" fill="url(#gB2)" stroke="#0c0e26" stroke-width="1.9"/>
<ellipse cx="1.5" cy="0.3" rx="5.3" ry="5.5" fill="#4a80d2"/>
<ellipse cx="-3.5" cy="-2.3" rx="2.4" ry="5.8" transform="rotate(-12)" fill="#b4d6fb" opacity=".55"/>
</g>
<g transform="translate(814.7 78.7)">
<ellipse rx="22" ry="13.8" transform="rotate(-152.3)" fill="url(#gB2)" stroke="#0c0e26" stroke-width="1.9"/>
<ellipse cx="1.4" cy="0.3" rx="4.9" ry="5.1" fill="#4a80d2"/>
<ellipse cx="-3.3" cy="-2.2" rx="2.2" ry="5.4" transform="rotate(-12)" fill="#b4d6fb" opacity=".55"/>
</g>
<g transform="translate(712 105.8)">
<ellipse rx="20.3" ry="20.3" fill="url(#gB2)" stroke="#0c0e26" stroke-width="1.9"/>
<ellipse cx="2" cy="0.4" rx="5.5" ry="5.8" fill="#4a80d2"/>
<ellipse cx="-3.2" cy="-2.4" rx="2.5" ry="6.1" transform="rotate(-12)" fill="#b4d6fb" opacity=".55"/>
</g>
<g transform="translate(784.6 84.8)">
<ellipse rx="20.3" ry="15" transform="rotate(-172.5)" fill="url(#gB2)" stroke="#0c0e26" stroke-width="1.9"/>
<ellipse cx="1.5" cy="0.3" rx="4.8" ry="5" fill="#4a80d2"/>
<ellipse cx="-3.1" cy="-2.1" rx="2.2" ry="5.3" transform="rotate(-12)" fill="#b4d6fb" opacity=".55"/>
</g>
<g transform="translate(793.6 324)">
<ellipse rx="19.2" ry="16.2" transform="rotate(-17.9)" fill="url(#gB2)" stroke="#0c0e26" stroke-width="1.9"/>
<ellipse cx="1.6" cy="0.3" rx="4.8" ry="5.1" fill="#4a80d2"/>
<ellipse cx="-3" cy="-2.1" rx="2.2" ry="5.3" transform="rotate(-12)" fill="#b4d6fb" opacity=".55"/>
</g>
<g transform="translate(847.8 110.4)">
<ellipse rx="22.6" ry="14.9" transform="rotate(-128.8)" fill="url(#gB2)" stroke="#0c0e26" stroke-width="1.9"/>
<ellipse cx="1.5" cy="0.3" rx="5.1" ry="5.3" fill="#4a80d2"/>
<ellipse cx="-3.4" cy="-2.2" rx="2.3" ry="5.6" transform="rotate(-12)" fill="#b4d6fb" opacity=".55"/>
</g>
<g transform="translate(760.5 313)">
<ellipse rx="27.1" ry="23.9" transform="rotate(15.7)" fill="url(#gB2)" stroke="#0c0e26" stroke-width="1.9"/>
<ellipse cx="2.4" cy="0.5" rx="6.9" ry="7.3" fill="#4a80d2"/>
<ellipse cx="-4.2" cy="-3" rx="3.1" ry="7.6" transform="rotate(-12)" fill="#b4d6fb" opacity=".55"/>
</g>
<g transform="translate(754.5 102.8)">
<ellipse rx="23.7" ry="19.2" transform="rotate(-198.1)" fill="url(#gB2)" stroke="#0c0e26" stroke-width="1.9"/>
<ellipse cx="1.9" cy="0.4" rx="5.8" ry="6.1" fill="#4a80d2"/>
<ellipse cx="-3.6" cy="-2.5" rx="2.6" ry="6.4" transform="rotate(-12)" fill="#b4d6fb" opacity=".55"/>
</g>
<g transform="translate(850 280)">
<ellipse rx="16.9" ry="13.7" transform="rotate(-65.8)" fill="url(#gB2)" stroke="#0c0e26" stroke-width="1.9"/>
<ellipse cx="1.4" cy="0.3" rx="4.2" ry="4.4" fill="#4a80d2"/>
<ellipse cx="-2.6" cy="-1.8" rx="1.9" ry="4.6" transform="rotate(-12)" fill="#b4d6fb" opacity=".55"/>
</g>
<g transform="translate(823.7 294)">
<ellipse rx="22.6" ry="19.7" transform="rotate(-49.7)" fill="url(#gB2)" stroke="#0c0e26" stroke-width="1.9"/>
<ellipse cx="2" cy="0.4" rx="5.8" ry="6" fill="#4a80d2"/>
<ellipse cx="-3.5" cy="-2.5" rx="2.6" ry="6.3" transform="rotate(-12)" fill="#b4d6fb" opacity=".55"/>
</g>
<g transform="translate(733.4 127)">
<ellipse rx="22.1" ry="18.8" transform="rotate(-220)" fill="url(#gB2)" stroke="#0c0e26" stroke-width="1.9"/>
<ellipse cx="1.9" cy="0.4" rx="5.6" ry="5.9" fill="#4a80d2"/>
<ellipse cx="-3.4" cy="-2.4" rx="2.5" ry="6.1" transform="rotate(-12)" fill="#b4d6fb" opacity=".55"/>
</g>
<g transform="translate(735 276)">
<ellipse rx="20.3" ry="18.8" transform="rotate(51.7)" fill="url(#gB2)" stroke="#0c0e26" stroke-width="1.9"/>
<ellipse cx="1.9" cy="0.4" rx="5.3" ry="5.6" fill="#4a80d2"/>
<ellipse cx="-3.2" cy="-2.3" rx="2.4" ry="5.9" transform="rotate(-12)" fill="#b4d6fb" opacity=".55"/>
</g>
<g transform="translate(863 240)">
<ellipse rx="20.3" ry="16.2" transform="rotate(-82.3)" fill="url(#gB2)" stroke="#0c0e26" stroke-width="1.9"/>
<ellipse cx="1.6" cy="0.3" rx="5" ry="5.2" fill="#4a80d2"/>
<ellipse cx="-3.1" cy="-2.2" rx="2.2" ry="5.5" transform="rotate(-12)" fill="#b4d6fb" opacity=".55"/>
</g>
<g transform="translate(855.4 161.6)">
<ellipse rx="18.1" ry="14.3" transform="rotate(-110.9)" fill="url(#gB2)" stroke="#0c0e26" stroke-width="1.9"/>
<ellipse cx="1.4" cy="0.3" rx="4.4" ry="4.6" fill="#4a80d2"/>
<ellipse cx="-2.8" cy="-1.9" rx="2" ry="4.8" transform="rotate(-12)" fill="#b4d6fb" opacity=".55"/>
</g>
<g transform="translate(796 285)">
<ellipse rx="22.6" ry="21.2" transform="rotate(-30)" fill="url(#gB2)" stroke="#0c0e26" stroke-width="1.9"/>
<ellipse cx="2.1" cy="0.4" rx="6" ry="6.2" fill="#4a80d2"/>
<ellipse cx="-3.5" cy="-2.6" rx="2.7" ry="6.5" transform="rotate(-12)" fill="#b4d6fb" opacity=".55"/>
</g>
<g transform="translate(864.4 197.7)">
<ellipse rx="19.2" ry="15.2" transform="rotate(-97)" fill="url(#gB2)" stroke="#0c0e26" stroke-width="1.9"/>
<ellipse cx="1.5" cy="0.3" rx="4.7" ry="4.9" fill="#4a80d2"/>
<ellipse cx="-2.9" cy="-2" rx="2.1" ry="5.1" transform="rotate(-12)" fill="#b4d6fb" opacity=".55"/>
</g>
<g transform="translate(838.8 261)">
<ellipse rx="18.1" ry="16" transform="rotate(-69.9)" fill="url(#gB2)" stroke="#0c0e26" stroke-width="1.9"/>
<ellipse cx="1.6" cy="0.3" rx="4.6" ry="4.9" fill="#4a80d2"/>
<ellipse cx="-2.8" cy="-2" rx="2.1" ry="5.1" transform="rotate(-12)" fill="#b4d6fb" opacity=".55"/>
</g>
<g transform="translate(775.5 134.5)">
<ellipse rx="25.5" ry="23.4" transform="rotate(-179.4)" fill="url(#gB2)" stroke="#0c0e26" stroke-width="1.9"/>
<ellipse cx="2.3" cy="0.5" rx="6.7" ry="7" fill="#4a80d2"/>
<ellipse cx="-4" cy="-2.9" rx="3" ry="7.3" transform="rotate(-12)" fill="#b4d6fb" opacity=".55"/>
</g>
<g transform="translate(826.7 149.5)">
<ellipse rx="25.5" ry="22.4" transform="rotate(-125.8)" fill="url(#gB2)" stroke="#0c0e26" stroke-width="1.9"/>
<ellipse cx="2.2" cy="0.4" rx="6.5" ry="6.9" fill="#4a80d2"/>
<ellipse cx="-4" cy="-2.8" rx="2.9" ry="7.2" transform="rotate(-12)" fill="#b4d6fb" opacity=".55"/>
</g>
<g transform="translate(750 152.5)">
<ellipse rx="22.1" ry="20.7" transform="rotate(-215.1)" fill="url(#gB2)" stroke="#0c0e26" stroke-width="1.9"/>
<ellipse cx="2.1" cy="0.4" rx="5.8" ry="6.1" fill="#4a80d2"/>
<ellipse cx="-3.5" cy="-2.5" rx="2.6" ry="6.4" transform="rotate(-12)" fill="#b4d6fb" opacity=".55"/>
</g>
<g transform="translate(766.5 264)">
<ellipse rx="20.3" ry="20.3" fill="url(#gB2)" stroke="#0c0e26" stroke-width="1.9"/>
<ellipse cx="2" cy="0.4" rx="5.5" ry="5.8" fill="#4a80d2"/>
<ellipse cx="-3.2" cy="-2.4" rx="2.5" ry="6.1" transform="rotate(-12)" fill="#b4d6fb" opacity=".55"/>
</g>
<g transform="translate(820.7 253)">
<ellipse rx="16.9" ry="15.9" transform="rotate(-67.4)" fill="url(#gB2)" stroke="#0c0e26" stroke-width="1.9"/>
<ellipse cx="1.6" cy="0.3" rx="4.5" ry="4.7" fill="#4a80d2"/>
<ellipse cx="-2.7" cy="-1.9" rx="2" ry="4.9" transform="rotate(-12)" fill="#b4d6fb" opacity=".55"/>
</g>
<g transform="translate(727 191.7)">
<ellipse rx="27.1" ry="25.5" transform="rotate(-253.4)" fill="url(#gB2)" stroke="#0c0e26" stroke-width="1.9"/>
<ellipse cx="2.6" cy="0.5" rx="7.2" ry="7.5" fill="#4a80d2"/>
<ellipse cx="-4.2" cy="-3.1" rx="3.2" ry="7.9" transform="rotate(-12)" fill="#b4d6fb" opacity=".55"/>
</g>
<g transform="translate(835.8 227.8)">
<ellipse rx="19.2" ry="17.6" transform="rotate(-85)" fill="url(#gB2)" stroke="#0c0e26" stroke-width="1.9"/>
<ellipse cx="1.8" cy="0.4" rx="5" ry="5.3" fill="#4a80d2"/>
<ellipse cx="-3" cy="-2.2" rx="2.3" ry="5.5" transform="rotate(-12)" fill="#b4d6fb" opacity=".55"/>
</g>
<g transform="translate(835.8 191.7)">
<ellipse rx="23.7" ry="21.5" transform="rotate(-103.2)" fill="url(#gB2)" stroke="#0c0e26" stroke-width="1.9"/>
<ellipse cx="2.2" cy="0.4" rx="6.2" ry="6.5" fill="#4a80d2"/>
<ellipse cx="-3.7" cy="-2.6" rx="2.8" ry="6.8" transform="rotate(-12)" fill="#b4d6fb" opacity=".55"/>
</g>
<g transform="translate(745 235)">
<ellipse rx="18.1" ry="18.1" fill="url(#gB2)" stroke="#0c0e26" stroke-width="1.9"/>
<ellipse cx="1.8" cy="0.4" rx="4.9" ry="5.2" fill="#4a80d2"/>
<ellipse cx="-2.9" cy="-2.1" rx="2.2" ry="5.4" transform="rotate(-12)" fill="#b4d6fb" opacity=".55"/>
</g>
<g transform="translate(789 242)">
<ellipse rx="27.1" ry="27.1" fill="url(#gB2)" stroke="#0c0e26" stroke-width="1.9"/>
<ellipse cx="2.7" cy="0.5" rx="7.4" ry="7.7" fill="#4a80d2"/>
<ellipse cx="-4.3" cy="-3.1" rx="3.3" ry="8.1" transform="rotate(-12)" fill="#b4d6fb" opacity=".55"/>
</g>
<g transform="translate(796.6 170.6)">
<ellipse rx="28.2" ry="27.2" transform="rotate(-140)" fill="url(#gB2)" stroke="#0c0e26" stroke-width="1.9"/>
<ellipse cx="2.7" cy="0.5" rx="7.5" ry="7.9" fill="#4a80d2"/>
<ellipse cx="-4.4" cy="-3.2" rx="3.4" ry="8.3" transform="rotate(-12)" fill="#b4d6fb" opacity=".55"/>
</g>
<g transform="translate(810 113.4)">
<ellipse rx="25.5" ry="21" transform="rotate(-148.4)" fill="url(#gB2)" stroke="#0c0e26" stroke-width="1.9"/>
<ellipse cx="2.1" cy="0.4" rx="6.3" ry="6.7" fill="#4a80d2"/>
<ellipse cx="-3.9" cy="-2.7" rx="2.9" ry="7" transform="rotate(-12)" fill="#b4d6fb" opacity=".55"/>
</g>
<g transform="translate(813 209.8)">
<ellipse rx="18.1" ry="17.5" transform="rotate(-96.7)" fill="url(#gB2)" stroke="#0c0e26" stroke-width="1.9"/>
<ellipse cx="1.8" cy="0.4" rx="4.8" ry="5.1" fill="#4a80d2"/>
<ellipse cx="-2.8" cy="-2.1" rx="2.2" ry="5.3" transform="rotate(-12)" fill="#b4d6fb" opacity=".55"/>
</g>
<g transform="translate(766.5 200.7)">
<ellipse rx="23.7" ry="23.7" fill="url(#gB2)" stroke="#0c0e26" stroke-width="1.9"/>
<ellipse cx="2.4" cy="0.5" rx="6.5" ry="6.8" fill="#4a80d2"/>
<ellipse cx="-3.8" cy="-2.8" rx="2.9" ry="7.1" transform="rotate(-12)" fill="#b4d6fb" opacity=".55"/>
</g>
<g transform="translate(677 119.4)">
<ellipse rx="20.3" ry="20.3" fill="url(#gP2)" stroke="#0c0e26" stroke-width="1.9"/>
<ellipse cx="2" cy="0.4" rx="5.9" ry="6.2" fill="#7646ba"/>
<ellipse cx="-3.6" cy="-2.5" rx="2.6" ry="6.5" transform="rotate(-12)" fill="#cdb0f2" opacity=".55"/>
</g>
<g transform="translate(707.8 139)">
<ellipse rx="18.1" ry="18.1" fill="url(#gP2)" stroke="#0c0e26" stroke-width="1.9"/>
<ellipse cx="1.8" cy="0.4" rx="5.2" ry="5.5" fill="#7646ba"/>
<ellipse cx="-3.2" cy="-2.3" rx="2.4" ry="5.7" transform="rotate(-12)" fill="#cdb0f2" opacity=".55"/>
</g>
<g transform="translate(597 143.5)">
<ellipse rx="21.5" ry="21.5" fill="url(#gP2)" stroke="#0c0e26" stroke-width="1.9"/>
<ellipse cx="2.1" cy="0.4" rx="6.2" ry="6.5" fill="#7646ba"/>
<ellipse cx="-3.7" cy="-2.7" rx="2.8" ry="6.8" transform="rotate(-12)" fill="#cdb0f2" opacity=".55"/>
</g>
<g transform="translate(662 155.5)">
<ellipse rx="24.9" ry="24.9" fill="url(#gP2)" stroke="#0c0e26" stroke-width="1.9"/>
<ellipse cx="2.5" cy="0.5" rx="7.2" ry="7.5" fill="#7646ba"/>
<ellipse cx="-4.3" cy="-3.1" rx="3.2" ry="7.9" transform="rotate(-12)" fill="#cdb0f2" opacity=".55"/>
</g>
<g transform="translate(685 352.5)">
<ellipse rx="23.7" ry="23.7" fill="url(#gP2)" stroke="#0c0e26" stroke-width="1.9"/>
<ellipse cx="2.4" cy="0.5" rx="6.9" ry="7.2" fill="#7646ba"/>
<ellipse cx="-4.1" cy="-3" rx="3.1" ry="7.5" transform="rotate(-12)" fill="#cdb0f2" opacity=".55"/>
</g>
<g transform="translate(530 287)">
<ellipse rx="22.6" ry="17.1" transform="rotate(73.9)" fill="url(#gP2)" stroke="#0c0e26" stroke-width="1.9"/>
<ellipse cx="1.7" cy="0.3" rx="5.7" ry="6" fill="#7646ba"/>
<ellipse cx="-3.7" cy="-2.5" rx="2.6" ry="6.3" transform="rotate(-12)" fill="#cdb0f2" opacity=".55"/>
</g>
<g transform="translate(550.6 321)">
<ellipse rx="19.2" ry="19.2" fill="url(#gP2)" stroke="#0c0e26" stroke-width="1.9"/>
<ellipse cx="1.9" cy="0.4" rx="5.6" ry="5.8" fill="#7646ba"/>
<ellipse cx="-3.4" cy="-2.4" rx="2.5" ry="6.1" transform="rotate(-12)" fill="#cdb0f2" opacity=".55"/>
</g>
<g transform="translate(538.6 224.8)">
<ellipse rx="20.3" ry="20.3" fill="url(#gP2)" stroke="#0c0e26" stroke-width="1.9"/>
<ellipse cx="2" cy="0.4" rx="5.9" ry="6.2" fill="#7646ba"/>
<ellipse cx="-3.6" cy="-2.5" rx="2.6" ry="6.5" transform="rotate(-12)" fill="#cdb0f2" opacity=".55"/>
</g>
<g transform="translate(610.8 169)">
<ellipse rx="18.1" ry="18.1" fill="url(#gP2)" stroke="#0c0e26" stroke-width="1.9"/>
<ellipse cx="1.8" cy="0.4" rx="5.2" ry="5.5" fill="#7646ba"/>
<ellipse cx="-3.2" cy="-2.3" rx="2.4" ry="5.7" transform="rotate(-12)" fill="#cdb0f2" opacity=".55"/>
</g>
<g transform="translate(677 191.7)">
<ellipse rx="23.7" ry="23.7" fill="url(#gP2)" stroke="#0c0e26" stroke-width="1.9"/>
<ellipse cx="2.4" cy="0.5" rx="6.9" ry="7.2" fill="#7646ba"/>
<ellipse cx="-4.1" cy="-3" rx="3.1" ry="7.5" transform="rotate(-12)" fill="#cdb0f2" opacity=".55"/>
</g>
<g transform="translate(591 331)">
<ellipse rx="27.1" ry="27.1" fill="url(#gP2)" stroke="#0c0e26" stroke-width="1.9"/>
<ellipse cx="2.7" cy="0.5" rx="7.8" ry="8.2" fill="#7646ba"/>
<ellipse cx="-4.7" cy="-3.4" rx="3.5" ry="8.6" transform="rotate(-12)" fill="#cdb0f2" opacity=".55"/>
</g>
<g transform="translate(629 340)">
<ellipse rx="22.6" ry="22.6" fill="url(#gP2)" stroke="#0c0e26" stroke-width="1.9"/>
<ellipse cx="2.3" cy="0.5" rx="6.5" ry="6.9" fill="#7646ba"/>
<ellipse cx="-3.9" cy="-2.8" rx="2.9" ry="7.2" transform="rotate(-12)" fill="#cdb0f2" opacity=".55"/>
</g>
<g transform="translate(685 313.4)">
<ellipse rx="24.9" ry="24.9" fill="url(#gP2)" stroke="#0c0e26" stroke-width="1.9"/>
<ellipse cx="2.5" cy="0.5" rx="7.2" ry="7.5" fill="#7646ba"/>
<ellipse cx="-4.3" cy="-3.1" rx="3.2" ry="7.9" transform="rotate(-12)" fill="#cdb0f2" opacity=".55"/>
</g>
<g transform="translate(706 265.5)">
<ellipse rx="27.1" ry="27.1" fill="url(#gP2)" stroke="#0c0e26" stroke-width="1.9"/>
<ellipse cx="2.7" cy="0.5" rx="7.8" ry="8.2" fill="#7646ba"/>
<ellipse cx="-4.7" cy="-3.4" rx="3.5" ry="8.6" transform="rotate(-12)" fill="#cdb0f2" opacity=".55"/>
</g>
<g transform="translate(568.7 215.8)">
<ellipse rx="22.6" ry="22.6" fill="url(#gP2)" stroke="#0c0e26" stroke-width="1.9"/>
<ellipse cx="2.3" cy="0.5" rx="6.5" ry="6.9" fill="#7646ba"/>
<ellipse cx="-3.9" cy="-2.8" rx="2.9" ry="7.2" transform="rotate(-12)" fill="#cdb0f2" opacity=".55"/>
</g>
<g transform="translate(566 289)">
<ellipse rx="21.5" ry="24.9" fill="url(#gP2)" stroke="#0c0e26" stroke-width="1.9"/>
<ellipse cx="2.1" cy="0.4" rx="6.7" ry="7" fill="#7646ba"/>
<ellipse cx="-4.2" cy="-2.9" rx="3" ry="7.4" transform="rotate(-12)" fill="#cdb0f2" opacity=".55"/>
</g>
<g transform="translate(690 286)">
<ellipse rx="20.3" ry="20.3" fill="url(#gP2)" stroke="#0c0e26" stroke-width="1.9"/>
<ellipse cx="2" cy="0.4" rx="5.9" ry="6.2" fill="#7646ba"/>
<ellipse cx="-3.6" cy="-2.5" rx="2.6" ry="6.5" transform="rotate(-12)" fill="#cdb0f2" opacity=".55"/>
</g>
<g transform="translate(595.8 206.7)">
<ellipse rx="19.2" ry="19.2" fill="url(#gP2)" stroke="#0c0e26" stroke-width="1.9"/>
<ellipse cx="1.9" cy="0.4" rx="5.6" ry="5.8" fill="#7646ba"/>
<ellipse cx="-3.4" cy="-2.4" rx="2.5" ry="6.1" transform="rotate(-12)" fill="#cdb0f2" opacity=".55"/>
</g>
<g transform="translate(660 231)">
<ellipse rx="26" ry="26" fill="url(#gP2)" stroke="#0c0e26" stroke-width="1.9"/>
<ellipse cx="2.6" cy="0.5" rx="7.5" ry="7.9" fill="#7646ba"/>
<ellipse cx="-4.5" cy="-3.2" rx="3.4" ry="8.3" transform="rotate(-12)" fill="#cdb0f2" opacity=".55"/>
</g>
<g transform="translate(640 300)">
<ellipse rx="22.6" ry="22.6" fill="url(#gP2)" stroke="#0c0e26" stroke-width="1.9"/>
<ellipse cx="2.3" cy="0.5" rx="6.5" ry="6.9" fill="#7646ba"/>
<ellipse cx="-3.9" cy="-2.8" rx="2.9" ry="7.2" transform="rotate(-12)" fill="#cdb0f2" opacity=".55"/>
</g>
<g transform="translate(590.5 258)">
<ellipse rx="23.7" ry="23.7" fill="url(#gP2)" stroke="#0c0e26" stroke-width="1.9"/>
<ellipse cx="2.4" cy="0.5" rx="6.9" ry="7.2" fill="#7646ba"/>
<ellipse cx="-4.1" cy="-3" rx="3.1" ry="7.5" transform="rotate(-12)" fill="#cdb0f2" opacity=".55"/>
</g>
<g transform="translate(622.9 227.8)">
<ellipse rx="20.3" ry="20.3" fill="url(#gP2)" stroke="#0c0e26" stroke-width="1.9"/>
<ellipse cx="2" cy="0.4" rx="5.9" ry="6.2" fill="#7646ba"/>
<ellipse cx="-3.6" cy="-2.5" rx="2.6" ry="6.5" transform="rotate(-12)" fill="#cdb0f2" opacity=".55"/>
</g>
<g transform="translate(549 254.6)">
<ellipse rx="22.6" ry="22.6" fill="url(#gB2)" stroke="#0c0e26" stroke-width="1.9"/>
<ellipse cx="2.3" cy="0.5" rx="6.1" ry="6.5" fill="#4a80d2"/>
<ellipse cx="-3.6" cy="-2.6" rx="2.8" ry="6.8" transform="rotate(-12)" fill="#b4d6fb" opacity=".55"/>
</g>
<g transform="translate(615 295)">
<ellipse rx="29.4" ry="24.9" fill="url(#gB2)" stroke="#0c0e26" stroke-width="1.9"/>
<ellipse cx="2.5" cy="0.5" rx="7.4" ry="7.7" fill="#4a80d2"/>
<ellipse cx="-4.5" cy="-3.2" rx="3.3" ry="8.1" transform="rotate(-12)" fill="#b4d6fb" opacity=".55"/>
</g>
<g transform="translate(635 192)">
<ellipse rx="22" ry="22" fill="url(#gO2)" stroke="#0c0e26" stroke-width="1.9"/>
<ellipse cx="2.2" cy="0.4" rx="6" ry="6.3" fill="#d8533a"/>
<ellipse cx="-3.5" cy="-2.6" rx="2.7" ry="6.6" transform="rotate(-12)" fill="#fbb58e" opacity=".55"/>
</g>
<g transform="translate(445 228)">
<path d="M-28.8 1.9C-29 1.1 -28.8 0.2 -28.4 -0.7C-28.1 -1.5 -27.6 -2.3 -26.9 -3C-26.3 -3.8 -25.5 -4.5 -24.4 -5C-23.4 -5.5 -20.9 -5.5 -20.6 -6.2C-20.4 -6.9 -22.3 -8.2 -22.8 -9.2C-23.3 -10.2 -23.4 -11.2 -23.5 -12.1C-23.5 -13 -23.4 -13.9 -23 -14.8C-22.7 -15.6 -22.1 -16.4 -21.6 -17C-21.1 -17.5 -20.7 -17.7 -20.1 -17.9C-19.6 -18.1 -18.8 -18.2 -18.1 -18.2C-17.3 -18.2 -16.5 -18.1 -15.5 -17.7C-14.6 -17.4 -12.8 -15.8 -12.4 -16.1C-11.9 -16.4 -12.9 -18.4 -13 -19.4C-13 -20.3 -12.8 -21.1 -12.6 -21.8C-12.4 -22.5 -12.1 -23.1 -11.7 -23.6C-11.3 -24.1 -10.9 -24.5 -10.2 -24.7C-9.5 -24.8 -8.4 -24.8 -7.5 -24.7C-6.6 -24.6 -5.6 -24.2 -4.8 -23.8C-3.9 -23.4 -3 -22.9 -2.2 -22.2C-1.4 -21.5 -0.7 -19.6 0 -19.6C0.7 -19.5 1.4 -21.3 2.2 -21.9C2.9 -22.4 3.8 -22.7 4.6 -22.9C5.4 -23.1 6.2 -23.1 7 -23C7.8 -22.9 8.4 -22.6 9.2 -22.3C10.1 -22 11.3 -21.6 12.2 -21C13 -20.5 13.9 -19.8 14.5 -19C15.2 -18.2 15.8 -17.3 16.1 -16.3C16.4 -15.3 15.7 -13.6 16.3 -12.9C17 -12.3 19 -12.7 20.2 -12.4C21.3 -12 22.4 -11.4 23.3 -10.8C24.2 -10.1 25.1 -9.4 25.8 -8.5C26.4 -7.7 27.1 -6.6 27.3 -5.7C27.5 -4.9 27.4 -4.2 27.2 -3.4C27 -2.6 26.7 -1.8 26.2 -1.1C25.7 -0.4 25.2 0.4 24.4 1C23.6 1.6 21.7 2 21.5 2.7C21.4 3.3 23.1 4.2 23.6 4.9C24.1 5.7 24.3 6.5 24.4 7.2C24.5 8 24.4 8.8 24.2 9.5C24 10.2 23.7 10.7 23.3 11.5C22.8 12.3 22.2 13.5 21.5 14.3C20.7 15.1 19.8 15.9 18.7 16.4C17.7 16.9 16.5 17.4 15.2 17.5C13.9 17.6 11.9 16.3 11 16.9C10.1 17.5 10.3 19.7 9.7 20.9C9 22.1 8.1 23.1 7.1 24.1C6.1 25 4.9 25.8 3.7 26.4C2.4 27 0.8 27.5 -0.3 27.5C-1.4 27.5 -2.2 26.9 -3 26.4C-3.8 25.9 -4.6 25.1 -5.2 24.4C-5.9 23.6 -6.5 22.7 -6.9 21.7C-7.4 20.6 -7.2 18.6 -7.9 18.2C-8.5 17.9 -10 19.5 -10.9 19.8C-11.8 20 -12.7 19.9 -13.5 19.8C-14.3 19.7 -15.1 19.3 -15.7 18.9C-16.3 18.5 -16.8 17.9 -17.3 17.4C-17.9 16.9 -18.7 16.5 -19.2 15.9C-19.7 15.3 -20.1 14.6 -20.3 13.9C-20.6 13.1 -20.7 12.3 -20.6 11.4C-20.5 10.6 -19.1 9.2 -19.5 8.6C-19.9 8 -21.9 8.2 -23 7.8C-24 7.4 -24.9 6.9 -25.7 6.3C-26.5 5.7 -27.2 5 -27.7 4.3C-28.3 3.5 -28.7 2.7 -28.8 1.9Z" fill="#fbf59c" stroke="#0c0e26" stroke-width="1.9" stroke-linejoin="round"/>
<ellipse cx="0" cy="0" rx="10" ry="10.5" fill="#bdbb55"/>
<ellipse cx="-5.5" cy="-3" rx="3.5" ry="8" transform="rotate(-15)" fill="#d6d47e" opacity=".6"/>
</g>
<g transform="translate(421 261)">
<ellipse rx="13.5" ry="13.5" fill="url(#gY2)" stroke="#0c0e26" stroke-width="1.9"/>
<circle r="6.8" fill="#d4a236"/>
<ellipse cx="-3.4" cy="-3" rx="2.4" ry="4" transform="rotate(-20)" fill="#f8d98a" opacity=".6"/>
</g>
<g transform="translate(475 227.5)">
<ellipse rx="13.5" ry="13.5" fill="url(#gY2)" stroke="#0c0e26" stroke-width="1.9"/>
<circle r="6.8" fill="#d4a236"/>
<ellipse cx="-3.4" cy="-3" rx="2.4" ry="4" transform="rotate(-20)" fill="#f8d98a" opacity=".6"/>
</g>
<g transform="translate(499.4 226)">
<ellipse rx="13.5" ry="13.5" fill="url(#gY2)" stroke="#0c0e26" stroke-width="1.9"/>
<circle r="6.8" fill="#d4a236"/>
<ellipse cx="-3.4" cy="-3" rx="2.4" ry="4" transform="rotate(-20)" fill="#f8d98a" opacity=".6"/>
</g>
<g transform="translate(505.4 245.6)">
<ellipse rx="13.5" ry="13.5" fill="url(#gY2)" stroke="#0c0e26" stroke-width="1.9"/>
<circle r="6.8" fill="#d4a236"/>
<ellipse cx="-3.4" cy="-3" rx="2.4" ry="4" transform="rotate(-20)" fill="#f8d98a" opacity=".6"/>
</g>
<g transform="translate(442 263.7)">
<ellipse rx="13.5" ry="13.5" fill="url(#gY2)" stroke="#0c0e26" stroke-width="1.9"/>
<circle r="6.8" fill="#d4a236"/>
<ellipse cx="-3.4" cy="-3" rx="2.4" ry="4" transform="rotate(-20)" fill="#f8d98a" opacity=".6"/>
</g>
<g transform="translate(490.4 251)">
<ellipse rx="13.5" ry="13.5" fill="url(#gY2)" stroke="#0c0e26" stroke-width="1.9"/>
<circle r="6.8" fill="#d4a236"/>
<ellipse cx="-3.4" cy="-3" rx="2.4" ry="4" transform="rotate(-20)" fill="#f8d98a" opacity=".6"/>
</g>
<g transform="translate(469.5 253)">
<ellipse rx="13.5" ry="13.5" fill="url(#gY2)" stroke="#0c0e26" stroke-width="1.9"/>
<circle r="6.8" fill="#d4a236"/>
<ellipse cx="-3.4" cy="-3" rx="2.4" ry="4" transform="rotate(-20)" fill="#f8d98a" opacity=".6"/>
</g>
<g transform="translate(489.8 274)">
<ellipse rx="13.5" ry="13.5" fill="url(#gY2)" stroke="#0c0e26" stroke-width="1.9"/>
<circle r="6.8" fill="#d4a236"/>
<ellipse cx="-3.4" cy="-3" rx="2.4" ry="4" transform="rotate(-20)" fill="#f8d98a" opacity=".6"/>
</g>
<g transform="translate(463.5 277)">
<ellipse rx="13.5" ry="13.5" fill="url(#gY2)" stroke="#0c0e26" stroke-width="1.9"/>
<circle r="6.8" fill="#d4a236"/>
<ellipse cx="-3.4" cy="-3" rx="2.4" ry="4" transform="rotate(-20)" fill="#f8d98a" opacity=".6"/>
</g>
<g transform="translate(597 113)">
<path d="M-29.9 7.3C-30.1 6.4 -30 5 -29.7 3.9C-29.4 2.7 -28.9 1.5 -28.2 0.5C-27.5 -0.5 -26.7 -1.5 -25.6 -2.4C-24.6 -3.2 -22.2 -3.6 -21.9 -4.5C-21.6 -5.4 -23.5 -6.7 -23.8 -7.8C-24.1 -8.9 -24 -10 -23.8 -10.9C-23.6 -11.9 -23.1 -12.9 -22.5 -13.8C-22 -14.6 -20.9 -15.5 -20.4 -16.1C-19.8 -16.6 -19.5 -16.9 -19 -17.1C-18.5 -17.4 -17.9 -17.6 -17.2 -17.7C-16.6 -17.9 -15.9 -17.9 -15 -17.8C-14.2 -17.6 -12.9 -16.6 -12.4 -16.9C-12 -17.2 -12.5 -18.7 -12.4 -19.5C-12.2 -20.3 -11.9 -21 -11.6 -21.6C-11.3 -22.2 -10.9 -22.7 -10.4 -23.1C-10 -23.6 -9.6 -23.9 -8.8 -24.1C-8.1 -24.3 -6.9 -24.4 -6 -24.4C-5 -24.3 -4 -24.1 -3.1 -23.8C-2.1 -23.5 -1.2 -23.1 -0.4 -22.5C0.5 -21.9 1.1 -20.3 1.9 -20.2C2.8 -20.1 3.7 -21.5 4.6 -21.9C5.5 -22.3 6.5 -22.5 7.4 -22.6C8.4 -22.7 9.3 -22.6 10.2 -22.4C11.1 -22.2 11.9 -21.8 12.7 -21.5C13.6 -21.1 14.5 -20.8 15.3 -20.3C16 -19.8 16.7 -19.2 17.2 -18.4C17.7 -17.7 18.1 -16.8 18.2 -15.8C18.3 -14.9 17.1 -13.1 17.7 -12.5C18.3 -11.9 20.5 -12.6 21.8 -12.4C23.1 -12.2 24.3 -11.7 25.3 -11.2C26.4 -10.8 27.4 -10.1 28.2 -9.4C29 -8.7 29.8 -7.7 30.1 -7C30.4 -6.2 30.2 -5.6 30 -4.9C29.7 -4.2 29.3 -3.5 28.7 -2.9C28.1 -2.2 27.4 -1.5 26.3 -0.9C25.3 -0.4 22.5 0.1 22.5 0.6C22.5 1.2 25.2 1.8 26.2 2.4C27.1 3 27.7 3.7 28.2 4.4C28.7 5.1 29 5.8 29.1 6.5C29.3 7.2 29.3 7.6 28.9 8.4C28.6 9.2 27.7 10.4 26.8 11.2C25.9 11.9 24.8 12.6 23.7 13.2C22.5 13.7 21.3 14.1 19.9 14.4C18.6 14.6 16.5 13.9 15.7 14.5C15 15.1 15.7 16.9 15.3 17.9C14.9 18.9 14.2 19.8 13.5 20.5C12.7 21.2 11.8 21.8 10.8 22.2C9.9 22.6 8.7 22.8 7.7 23.1C6.8 23.4 6 23.8 5 24C4.1 24.1 3.1 24.2 2.1 24C1.2 23.8 0.2 23.5 -0.7 22.9C-1.5 22.2 -2.1 20.1 -3 20.1C-3.9 20.1 -5 22 -6.2 22.7C-7.3 23.5 -8.5 24 -9.7 24.3C-10.9 24.7 -12.2 25 -13.4 25C-14.7 25 -16 24.9 -17 24.5C-17.9 24 -18.5 23.3 -19 22.4C-19.5 21.6 -19.9 20.6 -20 19.5C-20.2 18.5 -20.2 17.3 -19.9 16.1C-19.5 14.9 -17.6 12.7 -18 12.1C-18.5 11.5 -21.4 12.6 -22.7 12.4C-24.1 12.3 -25.2 11.9 -26.2 11.5C-27.2 11 -28 10.4 -28.6 9.7C-29.2 9 -29.7 8.3 -29.9 7.3Z" fill="#fbf59c" stroke="#0c0e26" stroke-width="1.9" stroke-linejoin="round"/>
<ellipse cx="0" cy="0" rx="10.4" ry="10.9" fill="#bdbb55"/>
<ellipse cx="-5.7" cy="-3.1" rx="3.6" ry="8.3" transform="rotate(-15)" fill="#d6d47e" opacity=".6"/>
</g>
<g transform="translate(703 168)">
<path d="M-4.4 25C-5.3 25 -6.3 24.8 -7.1 24.5C-8 24.2 -8.8 23.7 -9.5 23.1C-10.2 22.6 -10.9 21.9 -11.3 21C-11.8 20.1 -11.4 18.2 -12.2 17.8C-12.9 17.5 -14.7 18.6 -15.8 18.8C-17 18.9 -18.2 18.9 -19.2 18.7C-20.3 18.5 -21.4 18.2 -22.3 17.8C-23.2 17.4 -24.1 16.9 -24.7 16.1C-25.3 15.4 -25.7 14.3 -25.9 13.3C-26.2 12.3 -26.2 11.2 -26.1 10.2C-25.9 9.1 -25.7 8 -25.1 7C-24.6 5.9 -22.7 4.8 -22.8 3.9C-23 3.1 -25.2 2.7 -26 1.9C-26.8 1.1 -27.3 0.2 -27.7 -0.7C-28.1 -1.6 -28.3 -2.6 -28.3 -3.6C-28.3 -4.5 -28 -5.7 -27.8 -6.3C-27.6 -7 -27.4 -7.2 -27.1 -7.6C-26.8 -7.9 -26.3 -8.3 -25.7 -8.6C-25.2 -8.8 -24.6 -9.1 -23.7 -9.2C-22.9 -9.3 -21 -8.9 -20.8 -9.3C-20.7 -9.6 -22.2 -10.7 -22.6 -11.4C-23 -12.1 -23.2 -12.7 -23.3 -13.3C-23.5 -13.9 -23.5 -14.4 -23.4 -14.9C-23.3 -15.4 -23.3 -15.7 -22.8 -16.3C-22.4 -16.8 -21.5 -17.6 -20.7 -18.1C-19.9 -18.6 -18.9 -19 -17.9 -19.2C-16.9 -19.4 -15.8 -19.6 -14.7 -19.4C-13.6 -19.3 -11.8 -18 -11.1 -18.4C-10.3 -18.8 -10.6 -20.8 -10.1 -21.8C-9.6 -22.7 -8.9 -23.6 -8.2 -24.3C-7.4 -25 -6.5 -25.6 -5.6 -26C-4.7 -26.4 -3.7 -26.7 -2.7 -26.8C-1.8 -27 -0.9 -27 0 -26.8C0.9 -26.6 1.9 -26.3 2.7 -25.8C3.5 -25.2 4.3 -24.6 4.9 -23.7C5.6 -22.7 5.6 -20.3 6.4 -20.1C7.2 -20 8.6 -22 9.8 -22.7C10.9 -23.3 12.1 -23.6 13.2 -23.9C14.4 -24.1 15.5 -24.2 16.6 -24C17.6 -23.9 18.7 -23.7 19.5 -23.2C20.3 -22.6 21 -21.7 21.6 -20.8C22.1 -19.8 22.4 -18.7 22.5 -17.6C22.6 -16.5 22.6 -15.3 22.3 -14.1C21.9 -12.8 19.9 -10.9 20.3 -10.2C20.7 -9.4 23.6 -10 24.9 -9.6C26.1 -9.2 27.1 -8.5 28 -7.8C28.9 -7.1 29.6 -6.3 30 -5.4C30.5 -4.6 30.8 -3.7 30.8 -2.6C30.8 -1.5 30.5 -0.1 30 1C29.6 2.2 28.9 3.4 28 4.4C27.2 5.4 26.2 6.3 25 7.1C23.9 7.8 21.6 8 21.1 8.9C20.5 9.8 21.8 11.4 21.7 12.6C21.7 13.7 21.2 14.8 20.7 15.8C20.1 16.8 19.4 17.7 18.5 18.5C17.7 19.3 16.4 19.9 15.5 20.4C14.7 20.9 14 21.3 13.2 21.5C12.4 21.8 11.5 21.9 10.6 22C9.7 22 8.8 21.9 7.9 21.7C6.9 21.4 5.9 20.2 5.1 20.4C4.3 20.6 3.9 22.1 3.2 22.7C2.5 23.3 1.7 23.8 0.8 24.2C0 24.5 -0.9 24.8 -1.8 25C-2.6 25.1 -3.6 25.1 -4.4 25Z" fill="#c9f2f8" stroke="#0c0e26" stroke-width="1.9" stroke-linejoin="round"/>
<ellipse cx="0" cy="0" rx="10.7" ry="11.2" fill="#7cc6c6"/>
<ellipse cx="-5.9" cy="-3.2" rx="3.7" ry="8.6" transform="rotate(-15)" fill="#a9dede" opacity=".6"/>
</g>
<g transform="translate(659 268)">
<path d="M22.3 19.9C21.5 20.7 20.6 21 19.6 21.2C18.6 21.5 17.5 21.7 16.4 21.6C15.3 21.6 14.1 21.5 12.9 21.1C11.7 20.7 10 18.9 9.3 19.2C8.5 19.5 8.7 21.7 8.2 22.7C7.7 23.7 7 24.4 6.2 25C5.5 25.6 4.6 26.1 3.7 26.4C2.8 26.6 2 26.7 0.9 26.7C-0.1 26.8 -1.5 26.8 -2.6 26.5C-3.7 26.3 -4.8 25.8 -5.8 25.2C-6.8 24.5 -7.8 23.8 -8.5 22.7C-9.1 21.7 -9 19.3 -9.9 18.9C-10.9 18.5 -12.9 20.2 -14.3 20.5C-15.7 20.8 -17.1 20.8 -18.4 20.6C-19.8 20.5 -21.1 20.1 -22.2 19.6C-23.4 19.1 -24.7 18.2 -25.3 17.6C-25.8 16.9 -25.5 16.5 -25.4 15.8C-25.4 15.2 -25.1 14.5 -24.8 13.8C-24.4 13 -24 12.3 -23.3 11.5C-22.7 10.7 -20.8 9.5 -20.9 9.1C-21.1 8.7 -23.3 9.2 -24.1 9.1C-25 9 -25.5 8.7 -26 8.4C-26.5 8.1 -26.9 7.7 -27.1 7.3C-27.3 6.9 -27.2 6.6 -27.3 6C-27.4 5.4 -27.6 4.4 -27.6 3.6C-27.6 2.8 -27.4 1.9 -27 1.1C-26.7 0.3 -26.2 -0.5 -25.6 -1.2C-24.9 -1.9 -23.1 -2.4 -23 -3.1C-22.9 -3.8 -24.5 -4.8 -24.9 -5.6C-25.4 -6.5 -25.6 -7.4 -25.7 -8.3C-25.8 -9.1 -25.8 -10 -25.6 -10.8C-25.4 -11.7 -25.2 -12.3 -24.7 -13.2C-24.2 -14.1 -23.5 -15.3 -22.6 -16.1C-21.8 -16.9 -20.8 -17.6 -19.6 -18.1C-18.5 -18.7 -17.2 -19.1 -15.8 -19.1C-14.4 -19.1 -12.3 -17.7 -11.3 -18.3C-10.4 -18.8 -10.6 -21.2 -10 -22.5C-9.3 -23.8 -8.3 -24.9 -7.3 -25.8C-6.2 -26.8 -5 -27.7 -3.7 -28.3C-2.4 -28.8 -0.7 -29.4 0.5 -29.4C1.7 -29.4 2.5 -28.9 3.4 -28.4C4.3 -27.8 5.2 -27.1 5.9 -26.3C6.7 -25.4 7.4 -24.5 7.8 -23.3C8.3 -22.2 8 -19.7 8.8 -19.4C9.5 -19 11.2 -20.9 12.3 -21.3C13.4 -21.7 14.5 -21.7 15.5 -21.6C16.5 -21.5 17.4 -21.3 18.2 -20.9C19 -20.5 19.7 -19.8 20.3 -19.3C20.8 -18.7 21.2 -18.2 21.5 -17.6C21.8 -17 21.9 -16.2 21.9 -15.5C22 -14.7 21.9 -13.9 21.6 -13.1C21.3 -12.2 19.9 -10.9 20.2 -10.4C20.5 -9.8 22.5 -10.3 23.5 -10C24.4 -9.8 25.1 -9.4 25.8 -9C26.4 -8.6 27 -8.1 27.4 -7.5C27.8 -7 28 -6.6 28.2 -5.7C28.4 -4.9 28.8 -3.6 28.7 -2.5C28.7 -1.4 28.5 -0.3 28 0.7C27.6 1.8 26.9 2.8 26 3.6C25.1 4.5 22.6 4.8 22.3 5.8C22.1 6.8 24 8.2 24.4 9.4C24.9 10.7 25 12 25 13.2C24.9 14.4 24.7 15.7 24.2 16.8C23.8 17.9 23 19.2 22.3 19.9Z" fill="#c9f2f8" stroke="#0c0e26" stroke-width="1.9" stroke-linejoin="round"/>
<ellipse cx="0" cy="0" rx="10.7" ry="11.2" fill="#7cc6c6"/>
<ellipse cx="-5.9" cy="-3.2" rx="3.7" ry="8.6" transform="rotate(-15)" fill="#a9dede" opacity=".6"/>
</g>
<g transform="translate(659 340)">
<path d="M29.4 -14C29.7 -13.1 30.2 -11.1 30.3 -9.6C30.3 -8.1 30 -6.5 29.4 -5.1C28.9 -3.7 28.1 -2.3 27.1 -1C26 0.2 23.3 1 23.1 2.2C22.9 3.4 25.3 4.7 25.7 6C26.2 7.3 26.2 8.7 26.1 9.9C25.9 11.2 25.4 12.5 24.7 13.6C24.1 14.7 22.8 16 22.1 16.6C21.4 17.3 21.3 17.4 20.8 17.6C20.3 17.8 19.6 18 18.9 18C18.3 18.1 17.5 18.1 16.7 17.9C15.8 17.7 14.3 16.5 13.9 16.8C13.5 17.1 14.3 18.7 14.3 19.5C14.3 20.4 14.1 21 13.9 21.7C13.7 22.3 13.4 22.8 13 23.3C12.6 23.7 12.6 23.9 11.6 24.3C10.7 24.7 8.8 25.3 7.3 25.5C5.8 25.7 4.2 25.6 2.7 25.4C1.2 25.1 -0.3 24.6 -1.6 23.8C-2.8 23 -3.6 20.7 -4.9 20.4C-6.3 20.2 -8 22.1 -9.6 22.4C-11.2 22.8 -13 22.8 -14.6 22.7C-16.2 22.5 -17.9 22.1 -19.3 21.5C-20.8 20.9 -22.7 19.7 -23.4 19.1C-24 18.5 -23.5 18.4 -23.4 17.9C-23.3 17.5 -23.1 16.9 -22.7 16.3C-22.4 15.7 -22 15.1 -21.4 14.4C-20.7 13.6 -18.9 12.2 -19.1 12C-19.2 11.8 -21.2 12.8 -22.1 13C-22.9 13.2 -23.5 13.2 -24 13.2C-24.5 13.1 -24.9 13 -25.2 12.9C-25.5 12.7 -25.4 12.9 -25.7 12.2C-26 11.4 -26.9 9.6 -27.2 8.3C-27.4 7 -27.4 5.5 -27.2 4.2C-27 2.8 -26.6 1.5 -25.9 0.3C-25.2 -0.9 -23.2 -1.8 -23 -3C-22.8 -4.2 -24.4 -5.6 -24.7 -7C-25 -8.3 -24.9 -9.7 -24.7 -11C-24.5 -12.4 -24 -13.7 -23.3 -14.9C-22.6 -16.1 -21.4 -17.5 -20.7 -18.2C-19.9 -19 -19.4 -19.2 -18.6 -19.5C-17.9 -19.8 -17 -20 -16.1 -20.1C-15.2 -20.2 -14.3 -20.2 -13.3 -19.9C-12.3 -19.7 -10.9 -18.5 -10.3 -18.8C-9.6 -19.1 -9.8 -20.8 -9.4 -21.7C-9 -22.5 -8.4 -23.1 -7.8 -23.7C-7.2 -24.3 -6.5 -24.7 -5.7 -25.1C-5 -25.4 -4.3 -25.5 -3.4 -25.7C-2.5 -25.8 -1.3 -26 -0.2 -26C0.8 -25.9 1.9 -25.6 2.9 -25.2C3.8 -24.7 4.8 -24.1 5.6 -23.3C6.3 -22.4 6.4 -20.1 7.4 -19.8C8.3 -19.6 9.9 -21.5 11.3 -21.9C12.6 -22.4 13.9 -22.6 15.2 -22.7C16.5 -22.8 17.9 -22.7 19.1 -22.4C20.3 -22.2 21.7 -21.5 22.4 -21.1C23 -20.6 22.9 -20.4 23 -19.9C23 -19.5 22.9 -18.8 22.7 -18.1C22.4 -17.5 22 -16.7 21.4 -15.8C20.7 -14.9 18.3 -12.9 18.5 -12.6C18.8 -12.4 21.6 -13.9 22.8 -14.2C24 -14.6 25 -14.7 25.8 -14.8C26.7 -14.9 27.5 -14.8 28.1 -14.7C28.7 -14.6 29 -14.8 29.4 -14Z" fill="#c9f2f8" stroke="#0c0e26" stroke-width="1.9" stroke-linejoin="round"/>
<ellipse cx="0" cy="0" rx="10.7" ry="11.2" fill="#7cc6c6"/>
<ellipse cx="-5.9" cy="-3.2" rx="3.7" ry="8.6" transform="rotate(-15)" fill="#a9dede" opacity=".6"/>
</g>
<g transform="translate(759 231)">
<path d="M-16.8 18.3C-17.5 17.8 -18 17.2 -18.4 16.6C-18.8 16 -19.1 15.2 -19.3 14.4C-19.5 13.7 -19.6 12.8 -19.4 11.9C-19.3 11.1 -18 9.7 -18.4 9.2C-18.7 8.6 -20.6 8.8 -21.6 8.5C-22.5 8.1 -23.2 7.6 -23.9 7.1C-24.5 6.5 -25.1 5.9 -25.5 5.2C-25.9 4.6 -26.2 3.9 -26.3 3.1C-26.4 2.3 -26.3 1.5 -26.1 0.7C-25.8 -0.1 -25.4 -0.9 -24.9 -1.6C-24.4 -2.3 -23.8 -3 -23 -3.6C-22.3 -4.1 -20.5 -4.4 -20.2 -5.1C-20 -5.7 -21.4 -6.8 -21.7 -7.6C-22 -8.4 -22 -9.3 -21.9 -10.1C-21.9 -10.8 -21.7 -11.6 -21.3 -12.3C-21 -13 -20.5 -13.7 -20 -14.3C-19.5 -14.9 -19.1 -15.5 -18.4 -16C-17.8 -16.5 -17.1 -16.9 -16.3 -17.1C-15.5 -17.3 -14.6 -17.5 -13.6 -17.4C-12.6 -17.3 -11 -16 -10.4 -16.4C-9.7 -16.8 -10.1 -18.7 -9.8 -19.7C-9.5 -20.7 -9 -21.6 -8.4 -22.3C-7.8 -23.1 -7.1 -23.8 -6.3 -24.4C-5.6 -24.9 -4.8 -25.4 -3.8 -25.6C-2.9 -25.7 -1.6 -25.4 -0.5 -25.1C0.5 -24.8 1.6 -24.3 2.5 -23.6C3.5 -23 4.4 -22.2 5.1 -21.3C5.8 -20.3 5.9 -18.2 6.7 -17.9C7.6 -17.6 9.1 -19.2 10.2 -19.4C11.3 -19.7 12.5 -19.6 13.5 -19.5C14.5 -19.3 15.5 -19 16.4 -18.5C17.3 -18.1 18.1 -17.3 18.7 -16.8C19.3 -16.3 19.6 -16 19.9 -15.5C20.2 -15 20.4 -14.4 20.5 -13.8C20.5 -13.1 20.5 -12.4 20.1 -11.6C19.8 -10.9 18.1 -9.5 18.4 -9.1C18.7 -8.6 21 -9.2 22 -9.1C23.1 -9 24 -8.7 24.8 -8.4C25.6 -8.1 26.4 -7.7 27 -7.2C27.5 -6.7 28 -6.4 28.2 -5.6C28.5 -4.8 28.6 -3.4 28.4 -2.4C28.2 -1.3 27.8 -0.2 27.1 0.8C26.5 1.7 25.7 2.7 24.5 3.4C23.4 4.2 20.5 4.3 20.2 5.2C19.9 6.1 22.3 7.6 22.9 8.8C23.5 10 23.7 11.3 23.8 12.4C23.8 13.6 23.6 14.8 23.2 15.9C22.8 16.9 21.9 18.2 21.3 18.7C20.6 19.3 20.1 19.1 19.4 19.1C18.7 19.1 17.9 19 17.1 18.8C16.2 18.5 15.3 18.2 14.4 17.8C13.5 17.3 11.8 15.7 11.4 15.9C11 16 11.9 18 11.9 18.7C11.9 19.5 11.7 20.1 11.4 20.6C11.2 21 10.8 21.4 10.4 21.6C10 21.9 9.8 21.9 9 22C8.3 22.2 6.8 22.6 5.7 22.7C4.6 22.7 3.4 22.6 2.3 22.3C1.2 22.1 0.1 21.7 -0.9 21.1C-1.8 20.4 -2.5 18.8 -3.5 18.6C-4.5 18.5 -5.7 19.9 -6.9 20.2C-8 20.5 -9.3 20.5 -10.4 20.5C-11.6 20.4 -12.7 20.2 -13.8 19.8C-14.9 19.5 -16 18.8 -16.8 18.3Z" fill="#fbf59c" stroke="#0c0e26" stroke-width="1.9" stroke-linejoin="round"/>
<ellipse cx="0" cy="0" rx="9.7" ry="10.2" fill="#bdbb55"/>
<ellipse cx="-5.3" cy="-2.9" rx="3.4" ry="7.7" transform="rotate(-15)" fill="#d6d47e" opacity=".6"/>
</g>
<g transform="translate(590.4 55.5)">
<ellipse rx="14.5" ry="14.5" fill="url(#gE)" stroke="#0c0e26" stroke-width="1.9"/>
<circle r="8" fill="#3c6638"/>
<ellipse cx="-4.1" cy="-2.9" rx="2.3" ry="5.2" transform="rotate(-25)" fill="#5a8453" opacity=".45"/>
</g>
<g transform="translate(658 51)">
<ellipse rx="14.5" ry="14.5" fill="url(#gE)" stroke="#0c0e26" stroke-width="1.9"/>
<circle r="8" fill="#3c6638"/>
<ellipse cx="-4.1" cy="-2.9" rx="2.3" ry="5.2" transform="rotate(-25)" fill="#5a8453" opacity=".45"/>
</g>
<g transform="translate(544.6 85.7)">
<ellipse rx="14.5" ry="14.5" fill="url(#gE)" stroke="#0c0e26" stroke-width="1.9"/>
<circle r="8" fill="#3c6638"/>
<ellipse cx="-4.1" cy="-2.9" rx="2.3" ry="5.2" transform="rotate(-25)" fill="#5a8453" opacity=".45"/>
</g>
<g transform="translate(538.6 130)">
<ellipse rx="14.5" ry="14.5" fill="url(#gE)" stroke="#0c0e26" stroke-width="1.9"/>
<circle r="8" fill="#3c6638"/>
<ellipse cx="-4.1" cy="-2.9" rx="2.3" ry="5.2" transform="rotate(-25)" fill="#5a8453" opacity=".45"/>
</g>
<g transform="translate(557 164.6)">
<ellipse rx="14.5" ry="14.5" fill="url(#gE)" stroke="#0c0e26" stroke-width="1.9"/>
<circle r="8" fill="#3c6638"/>
<ellipse cx="-4.1" cy="-2.9" rx="2.3" ry="5.2" transform="rotate(-25)" fill="#5a8453" opacity=".45"/>
</g>
<g transform="translate(494 171.5)">
<ellipse rx="14.5" ry="14.5" fill="url(#gE)" stroke="#0c0e26" stroke-width="1.9"/>
<circle r="8" fill="#3c6638"/>
<ellipse cx="-4.1" cy="-2.9" rx="2.3" ry="5.2" transform="rotate(-25)" fill="#5a8453" opacity=".45"/>
</g>
<g transform="translate(485.8 206.7)">
<ellipse rx="14.5" ry="14.5" fill="url(#gE)" stroke="#0c0e26" stroke-width="1.9"/>
<circle r="8" fill="#3c6638"/>
<ellipse cx="-4.1" cy="-2.9" rx="2.3" ry="5.2" transform="rotate(-25)" fill="#5a8453" opacity=".45"/>
</g>
<g transform="translate(635.5 163)">
<ellipse rx="14.5" ry="14.5" fill="url(#gE)" stroke="#0c0e26" stroke-width="1.9"/>
<circle r="8" fill="#3c6638"/>
<ellipse cx="-4.1" cy="-2.9" rx="2.3" ry="5.2" transform="rotate(-25)" fill="#5a8453" opacity=".45"/>
</g>
<g transform="translate(624 269)">
<ellipse rx="15" ry="15" fill="url(#gE)" stroke="#0c0e26" stroke-width="1.9"/>
<circle r="8.2" fill="#3c6638"/>
<ellipse cx="-4.2" cy="-3" rx="2.4" ry="5.4" transform="rotate(-25)" fill="#5a8453" opacity=".45"/>
</g>
<g transform="translate(697 232)">
<ellipse rx="15" ry="15" fill="url(#gE)" stroke="#0c0e26" stroke-width="1.9"/>
<circle r="8.2" fill="#3c6638"/>
<ellipse cx="-4.2" cy="-3" rx="2.4" ry="5.4" transform="rotate(-25)" fill="#5a8453" opacity=".45"/>
</g>
<g transform="translate(772.5 290)">
<ellipse rx="15" ry="15" fill="url(#gE)" stroke="#0c0e26" stroke-width="1.9"/>
<circle r="8.2" fill="#3c6638"/>
<ellipse cx="-4.2" cy="-3" rx="2.4" ry="5.4" transform="rotate(-25)" fill="#5a8453" opacity=".45"/>
</g>
<g transform="translate(735.8 306)">
<ellipse rx="17" ry="17" fill="url(#gA)" stroke="#0c0e26" stroke-width="1.9"/>
<circle r="9.5" fill="#5fae50"/>
<ellipse cx="-5.2" cy="-4.3" rx="3.3" ry="6.7" transform="rotate(-20)" fill="#c4f5b4" opacity=".5"/>
</g>
<g transform="translate(598 228.6)">
<ellipse rx="14.5" ry="14.5" fill="url(#gY2)" stroke="#0c0e26" stroke-width="1.9"/>
<circle r="7.2" fill="#d4a236"/>
<ellipse cx="-3.6" cy="-3.3" rx="2.5" ry="4.3" transform="rotate(-20)" fill="#f8d98a" opacity=".6"/>
</g>
<path transform="translate(693.5 496.6) rotate(0)" d="M-1.1 5V.5L-4.3 -4.5M1.1 5V.5L4.3 -4.5" stroke="#2fba4c" stroke-width="1.5" fill="none" stroke-linecap="round"/>
<path transform="translate(715.5 506.5) rotate(0)" d="M-1.1 5V.5L-4.3 -4.5M1.1 5V.5L4.3 -4.5" stroke="#2fba4c" stroke-width="1.5" fill="none" stroke-linecap="round"/>
<path transform="translate(739.6 496.6) rotate(-60)" d="M-1.1 5V.5L-4.3 -4.5M1.1 5V.5L4.3 -4.5" stroke="#2fba4c" stroke-width="1.5" fill="none" stroke-linecap="round"/>
<path transform="translate(649.2 530.6) rotate(-20)" d="M-1.1 5V.5L-4.3 -4.5M1.1 5V.5L4.3 -4.5" stroke="#2fba4c" stroke-width="1.5" fill="none" stroke-linecap="round"/>
<path transform="translate(684.5 527.6) rotate(160)" d="M-1.1 5V.5L-4.3 -4.5M1.1 5V.5L4.3 -4.5" stroke="#2fba4c" stroke-width="1.5" fill="none" stroke-linecap="round"/>
<path transform="translate(718.5 530.6) rotate(190)" d="M-1.1 5V.5L-4.3 -4.5M1.1 5V.5L4.3 -4.5" stroke="#2fba4c" stroke-width="1.5" fill="none" stroke-linecap="round"/>
<path transform="translate(688.4 546.3) rotate(200)" d="M-1.1 5V.5L-4.3 -4.5M1.1 5V.5L4.3 -4.5" stroke="#2fba4c" stroke-width="1.5" fill="none" stroke-linecap="round"/>
<path transform="translate(712.5 556.8) rotate(165)" d="M-1.1 5V.5L-4.3 -4.5M1.1 5V.5L4.3 -4.5" stroke="#2fba4c" stroke-width="1.5" fill="none" stroke-linecap="round"/>
<path transform="translate(663.4 559.8) rotate(180)" d="M-1.1 5V.5L-4.3 -4.5M1.1 5V.5L4.3 -4.5" stroke="#2fba4c" stroke-width="1.5" fill="none" stroke-linecap="round"/>
<path transform="translate(684.8 574.9) rotate(-10)" d="M-1.1 5V.5L-4.3 -4.5M1.1 5V.5L4.3 -4.5" stroke="#2fba4c" stroke-width="1.5" fill="none" stroke-linecap="round"/>
<path transform="translate(633.6 580.3) rotate(175)" d="M-1.1 5V.5L-4.3 -4.5M1.1 5V.5L4.3 -4.5" stroke="#2fba4c" stroke-width="1.5" fill="none" stroke-linecap="round"/>
<path transform="translate(589.9 584.8) rotate(150)" d="M-1.1 5V.5L-4.3 -4.5M1.1 5V.5L4.3 -4.5" stroke="#2fba4c" stroke-width="1.5" fill="none" stroke-linecap="round"/>
<path transform="translate(567.9 629.7) rotate(150)" d="M-1.1 5V.5L-4.3 -4.5M1.1 5V.5L4.3 -4.5" stroke="#2fba4c" stroke-width="1.5" fill="none" stroke-linecap="round"/>
<path transform="translate(571.8 654.7) rotate(150)" d="M-1.1 5V.5L-4.3 -4.5M1.1 5V.5L4.3 -4.5" stroke="#2fba4c" stroke-width="1.5" fill="none" stroke-linecap="round"/>
<path transform="translate(535.7 672.8) rotate(30)" d="M-1.1 5V.5L-4.3 -4.5M1.1 5V.5L4.3 -4.5" stroke="#2fba4c" stroke-width="1.5" fill="none" stroke-linecap="round"/>
<path transform="translate(545.3 704.4) rotate(165)" d="M-1.1 5V.5L-4.3 -4.5M1.1 5V.5L4.3 -4.5" stroke="#2fba4c" stroke-width="1.5" fill="none" stroke-linecap="round"/>
<path transform="translate(512.2 727) rotate(165)" d="M-1.1 5V.5L-4.3 -4.5M1.1 5V.5L4.3 -4.5" stroke="#2fba4c" stroke-width="1.5" fill="none" stroke-linecap="round"/>
<path transform="translate(487.2 759.5) rotate(165)" d="M-1.1 5V.5L-4.3 -4.5M1.1 5V.5L4.3 -4.5" stroke="#2fba4c" stroke-width="1.5" fill="none" stroke-linecap="round"/>
<path transform="translate(818.9 507.1) rotate(160)" d="M-1.1 5V.5L-4.3 -4.5M1.1 5V.5L4.3 -4.5" stroke="#2fba4c" stroke-width="1.5" fill="none" stroke-linecap="round"/>
<path transform="translate(855 510.1) rotate(-60)" d="M-1.1 5V.5L-4.3 -4.5M1.1 5V.5L4.3 -4.5" stroke="#2fba4c" stroke-width="1.5" fill="none" stroke-linecap="round"/>
<path transform="translate(918.3 525.2) rotate(160)" d="M-1.1 5V.5L-4.3 -4.5M1.1 5V.5L4.3 -4.5" stroke="#2fba4c" stroke-width="1.5" fill="none" stroke-linecap="round"/>
<path transform="translate(943.6 549.3) rotate(170)" d="M-1.1 5V.5L-4.3 -4.5M1.1 5V.5L4.3 -4.5" stroke="#2fba4c" stroke-width="1.5" fill="none" stroke-linecap="round"/>
<circle cx="853.1" cy="853.2" r="16.4" fill="#4a80d8"/>
<circle cx="850.1" cy="845.7" r="16.4" fill="#4a80d8"/>
<circle cx="839.5" cy="861.2" r="14.2" fill="#4a80d8"/>
<circle cx="837.6" cy="854.4" r="14.2" fill="#4a80d8"/>
<circle cx="736.1" cy="870.3" r="16.4" fill="#4a80d8"/>
<circle cx="739.3" cy="862.8" r="16.4" fill="#4a80d8"/>
<circle cx="786.9" cy="878.5" r="16.4" fill="#4a80d8"/>
<circle cx="787.5" cy="870.4" r="16.4" fill="#4a80d8"/>
<circle cx="832" cy="873.4" r="15.3" fill="#4a80d8"/>
<circle cx="830.4" cy="866" r="15.3" fill="#4a80d8"/>
<circle cx="762.3" cy="876.5" r="15.3" fill="#4a80d8"/>
<circle cx="764.1" cy="869.1" r="15.3" fill="#4a80d8"/>
<circle cx="809.5" cy="880.9" r="14.2" fill="#4a80d8"/>
<circle cx="809.1" cy="873.9" r="14.2" fill="#4a80d8"/>
<circle cx="851.7" cy="862.8" r="15.3" fill="#4a80d8"/>
<circle cx="849.1" cy="855.6" r="15.3" fill="#4a80d8"/>
<circle cx="693.2" cy="865.5" r="16.4" fill="#8152d0"/>
<circle cx="698" cy="859" r="16.4" fill="#8152d0"/>
<circle cx="714.2" cy="870.7" r="13.2" fill="#8152d0"/>
<circle cx="717.4" cy="865" r="13.2" fill="#8152d0"/>
<circle cx="733" cy="867.8" r="15.3" fill="#4a80d8"/>
<circle cx="736.2" cy="860.8" r="15.3" fill="#4a80d8"/>
<circle cx="617.6" cy="727.6" r="14.2" fill="#e26634"/>
<circle cx="624.6" cy="727.3" r="14.2" fill="#e26634"/>
<circle cx="802.7" cy="824.1" r="16.4" fill="#e26634"/>
<circle cx="802.5" cy="816" r="16.4" fill="#e26634"/>
<circle cx="629.7" cy="701.1" r="15.3" fill="#e26634"/>
<circle cx="637.3" cy="701.9" r="15.3" fill="#e26634"/>
<circle cx="657.5" cy="657.3" r="21.9" fill="#e26634"/>
<circle cx="667.5" cy="661.7" r="21.9" fill="#e26634"/>
<circle cx="669.7" cy="645.6" r="17.5" fill="#e26634"/>
<circle cx="677.3" cy="649.9" r="17.5" fill="#e26634"/>
<circle cx="706.8" cy="623.6" r="17.5" fill="#e26634"/>
<circle cx="712.8" cy="629.8" r="17.5" fill="#e26634"/>
<circle cx="747.6" cy="621.9" r="21.9" fill="#e26634"/>
<circle cx="752.7" cy="631.4" r="21.9" fill="#e26634"/>
<circle cx="753.2" cy="625.1" r="21.9" fill="#e26634"/>
<circle cx="758" cy="634.8" r="21.9" fill="#e26634"/>
<circle cx="806.9" cy="731.9" r="21.9" fill="#e26634"/>
<circle cx="801.5" cy="722.5" r="21.9" fill="#e26634"/>
<circle cx="735.1" cy="657.4" r="19.7" fill="#e26634"/>
<circle cx="742.1" cy="664.2" r="19.7" fill="#e26634"/>
<circle cx="687.9" cy="613.3" r="15.3" fill="#4a80d8"/>
<circle cx="693.4" cy="618.5" r="15.3" fill="#4a80d8"/>
<circle cx="717.5" cy="603.6" r="17.5" fill="#4a80d8"/>
<circle cx="722.5" cy="610.7" r="17.5" fill="#4a80d8"/>
<circle cx="812.5" cy="552" r="20.8" fill="#4a80d8"/>
<circle cx="811.7" cy="562.3" r="20.8" fill="#4a80d8"/>
<circle cx="767.2" cy="568.3" r="16.4" fill="#4a80d8"/>
<circle cx="768.9" cy="576.2" r="16.4" fill="#4a80d8"/>
<circle cx="897.6" cy="561" r="18.6" fill="#4a80d8"/>
<circle cx="892.8" cy="568.8" r="18.6" fill="#4a80d8"/>
<circle cx="848.8" cy="554.5" r="20.8" fill="#4a80d8"/>
<circle cx="845.9" cy="564.4" r="20.8" fill="#4a80d8"/>
<circle cx="779.1" cy="568.5" r="20.8" fill="#4a80d8"/>
<circle cx="780.5" cy="578.7" r="20.8" fill="#4a80d8"/>
<circle cx="745.3" cy="589.7" r="17.5" fill="#4a80d8"/>
<circle cx="748.7" cy="597.7" r="17.5" fill="#4a80d8"/>
<circle cx="817.7" cy="574.4" r="23" fill="#4a80d8"/>
<circle cx="816.3" cy="585.7" r="23" fill="#4a80d8"/>
<circle cx="914.2" cy="588.4" r="18.6" fill="#4a80d8"/>
<circle cx="908.2" cy="595.4" r="18.6" fill="#4a80d8"/>
<circle cx="812.2" cy="853.7" r="21.9" fill="#4a80d8"/>
<circle cx="811.2" cy="842.9" r="21.9" fill="#4a80d8"/>
<circle cx="951.1" cy="614.3" r="13.2" fill="#4a80d8"/>
<circle cx="945.8" cy="618" r="13.2" fill="#4a80d8"/>
<circle cx="875.7" cy="578.8" r="23" fill="#4a80d8"/>
<circle cx="870.4" cy="588.8" r="23" fill="#4a80d8"/>
<circle cx="767.8" cy="594.9" r="17.5" fill="#4a80d8"/>
<circle cx="770" cy="603.3" r="17.5" fill="#4a80d8"/>
<circle cx="797.3" cy="591.3" r="20.8" fill="#4a80d8"/>
<circle cx="797.5" cy="601.6" r="20.8" fill="#4a80d8"/>
<circle cx="957.5" cy="638.9" r="13.2" fill="#4a80d8"/>
<circle cx="951.7" cy="641.8" r="13.2" fill="#4a80d8"/>
<circle cx="922.3" cy="607.1" r="16.4" fill="#4a80d8"/>
<circle cx="916.3" cy="612.6" r="16.4" fill="#4a80d8"/>
<circle cx="844.8" cy="590.3" r="23" fill="#4a80d8"/>
<circle cx="841.1" cy="601.1" r="23" fill="#4a80d8"/>
<circle cx="894.5" cy="604.4" r="23" fill="#4a80d8"/>
<circle cx="887.3" cy="613.2" r="23" fill="#4a80d8"/>
<circle cx="925.1" cy="630.2" r="23" fill="#4a80d8"/>
<circle cx="915.8" cy="636.8" r="23" fill="#4a80d8"/>
<circle cx="952.7" cy="664.3" r="16.4" fill="#4a80d8"/>
<circle cx="945.1" cy="667.1" r="16.4" fill="#4a80d8"/>
<circle cx="875.4" cy="827.3" r="19.7" fill="#4a80d8"/>
<circle cx="869.8" cy="819.3" r="19.7" fill="#4a80d8"/>
<circle cx="823.6" cy="606.5" r="26.3" fill="#4a80d8"/>
<circle cx="820.9" cy="619.2" r="26.3" fill="#4a80d8"/>
<circle cx="783.7" cy="618.3" r="18.6" fill="#4a80d8"/>
<circle cx="785.1" cy="627.4" r="18.6" fill="#4a80d8"/>
<circle cx="930.9" cy="645.2" r="16.4" fill="#4a80d8"/>
<circle cx="923.8" cy="649.3" r="16.4" fill="#4a80d8"/>
<circle cx="864.5" cy="611.6" r="23" fill="#4a80d8"/>
<circle cx="858.7" cy="621.4" r="23" fill="#4a80d8"/>
<circle cx="903.6" cy="797.7" r="24.1" fill="#4a80d8"/>
<circle cx="894" cy="790.6" r="24.1" fill="#4a80d8"/>
<circle cx="948.3" cy="701.2" r="15.3" fill="#4a80d8"/>
<circle cx="940.7" cy="702.2" r="15.3" fill="#4a80d8"/>
<circle cx="938.4" cy="751.4" r="18.6" fill="#4a80d8"/>
<circle cx="929.4" cy="749.3" r="18.6" fill="#4a80d8"/>
<circle cx="839.8" cy="810.1" r="26.3" fill="#4a80d8"/>
<circle cx="834.5" cy="798.2" r="26.3" fill="#4a80d8"/>
<circle cx="935.1" cy="678.7" r="15.3" fill="#4a80d8"/>
<circle cx="927.9" cy="680.9" r="15.3" fill="#4a80d8"/>
<circle cx="800" cy="633.2" r="23" fill="#4a80d8"/>
<circle cx="800" cy="644.6" r="23" fill="#4a80d8"/>
<circle cx="918.4" cy="772.7" r="16.4" fill="#4a80d8"/>
<circle cx="911" cy="769.4" r="16.4" fill="#4a80d8"/>
<circle cx="837" cy="632.5" r="26.3" fill="#4a80d8"/>
<circle cx="832" cy="644.5" r="26.3" fill="#4a80d8"/>
<circle cx="876.6" cy="791.4" r="19.7" fill="#4a80d8"/>
<circle cx="869.4" cy="784.7" r="19.7" fill="#4a80d8"/>
<circle cx="915.6" cy="739.9" r="19.7" fill="#4a80d8"/>
<circle cx="905.9" cy="738.2" r="19.7" fill="#4a80d8"/>
<circle cx="900.4" cy="668.4" r="21.9" fill="#4a80d8"/>
<circle cx="890.8" cy="673.4" r="21.9" fill="#4a80d8"/>
<circle cx="818.7" cy="650.8" r="23" fill="#4a80d8"/>
<circle cx="815.7" cy="661.8" r="23" fill="#4a80d8"/>
<circle cx="909" cy="705.2" r="25.2" fill="#4a80d8"/>
<circle cx="896.7" cy="706.9" r="25.2" fill="#4a80d8"/>
<circle cx="896.5" cy="762.5" r="17.5" fill="#4a80d8"/>
<circle cx="888.6" cy="759" r="17.5" fill="#4a80d8"/>
<circle cx="798.7" cy="665.6" r="19.7" fill="#4a80d8"/>
<circle cx="798.9" cy="675.4" r="19.7" fill="#4a80d8"/>
<circle cx="819.9" cy="777.1" r="19.7" fill="#4a80d8"/>
<circle cx="816.6" cy="767.9" r="19.7" fill="#4a80d8"/>
<circle cx="852.6" cy="660.6" r="28.5" fill="#4a80d8"/>
<circle cx="843.3" cy="671.2" r="28.5" fill="#4a80d8"/>
<circle cx="849.6" cy="768.2" r="19.7" fill="#4a80d8"/>
<circle cx="842.6" cy="761.4" r="19.7" fill="#4a80d8"/>
<circle cx="865.5" cy="747.1" r="24.1" fill="#4a80d8"/>
<circle cx="854.4" cy="742.5" r="24.1" fill="#4a80d8"/>
<circle cx="884.1" cy="720.9" r="18.6" fill="#4a80d8"/>
<circle cx="874.9" cy="720.8" r="18.6" fill="#4a80d8"/>
<circle cx="868.7" cy="688.8" r="26.3" fill="#4a80d8"/>
<circle cx="856.8" cy="694.1" r="26.3" fill="#4a80d8"/>
<circle cx="829.7" cy="678.1" r="25.2" fill="#4a80d8"/>
<circle cx="822.5" cy="688.3" r="25.2" fill="#4a80d8"/>
<circle cx="889" cy="637" r="25.2" fill="#4a80d8"/>
<circle cx="879.9" cy="645.5" r="25.2" fill="#4a80d8"/>
<circle cx="806.5" cy="713.7" r="28.5" fill="#4a80d8"/>
<circle cx="800" cy="720" r="28.5" fill="#4a80d8"/>
<circle cx="844.1" cy="711.7" r="23" fill="#4a80d8"/>
<circle cx="832.9" cy="713.8" r="23" fill="#4a80d8"/>
<circle cx="767.4" cy="645.8" r="20.8" fill="#8152d0"/>
<circle cx="771.5" cy="655.2" r="20.8" fill="#8152d0"/>
<circle cx="776.6" cy="851.5" r="23" fill="#8152d0"/>
<circle cx="778.6" cy="840.3" r="23" fill="#8152d0"/>
<circle cx="652" cy="825.7" r="19.7" fill="#8152d0"/>
<circle cx="659.9" cy="820" r="19.7" fill="#8152d0"/>
<circle cx="700.8" cy="667.3" r="21.9" fill="#8152d0"/>
<circle cx="710.4" cy="672.4" r="21.9" fill="#8152d0"/>
<circle cx="763.3" cy="679.4" r="24.1" fill="#8152d0"/>
<circle cx="771.3" cy="688.3" r="24.1" fill="#8152d0"/>
<circle cx="692.4" cy="832.8" r="26.3" fill="#8152d0"/>
<circle cx="701.4" cy="823.4" r="26.3" fill="#8152d0"/>
<circle cx="780.3" cy="810.4" r="24.1" fill="#8152d0"/>
<circle cx="782.8" cy="798.8" r="24.1" fill="#8152d0"/>
<circle cx="721.9" cy="835" r="21.9" fill="#8152d0"/>
<circle cx="728" cy="826" r="21.9" fill="#8152d0"/>
<circle cx="727.6" cy="831.8" r="21.9" fill="#8152d0"/>
<circle cx="733.5" cy="822.7" r="21.9" fill="#8152d0"/>
<circle cx="713.7" cy="686.4" r="19.7" fill="#8152d0"/>
<circle cx="722.8" cy="689.9" r="19.7" fill="#8152d0"/>
<circle cx="796.6" cy="753.7" r="24.1" fill="#8152d0"/>
<circle cx="797.8" cy="741.8" r="24.1" fill="#8152d0"/>
<circle cx="670.8" cy="794.1" r="23" fill="#8152d0"/>
<circle cx="680.6" cy="788.4" r="23" fill="#8152d0"/>
<circle cx="794.4" cy="761.4" r="27.4" fill="#8152d0"/>
<circle cx="796.2" cy="748" r="27.4" fill="#8152d0"/>
<circle cx="782.1" cy="712.2" r="24.1" fill="#8152d0"/>
<circle cx="793.1" cy="717" r="24.1" fill="#8152d0"/>
<circle cx="669.3" cy="729.1" r="19.7" fill="#8152d0"/>
<circle cx="679" cy="728.4" r="19.7" fill="#8152d0"/>
<circle cx="772.3" cy="710.5" r="21.9" fill="#8152d0"/>
<circle cx="782.5" cy="714" r="21.9" fill="#8152d0"/>
<circle cx="702.3" cy="718.3" r="24.1" fill="#8152d0"/>
<circle cx="714.2" cy="718.5" r="24.1" fill="#8152d0"/>
<circle cx="775.3" cy="737.7" r="19.7" fill="#8152d0"/>
<circle cx="783.2" cy="732" r="19.7" fill="#8152d0"/>
<circle cx="709.8" cy="792.1" r="19.7" fill="#8152d0"/>
<circle cx="717.5" cy="786" r="19.7" fill="#8152d0"/>
<circle cx="750.3" cy="785.7" r="24.1" fill="#8152d0"/>
<circle cx="757.5" cy="776.2" r="24.1" fill="#8152d0"/>
<circle cx="695.1" cy="762.2" r="24.1" fill="#8152d0"/>
<circle cx="706.2" cy="757.8" r="24.1" fill="#8152d0"/>
<circle cx="764.3" cy="736.1" r="26.3" fill="#8152d0"/>
<circle cx="776.2" cy="730.7" r="26.3" fill="#8152d0"/>
<circle cx="727.6" cy="738.5" r="21.9" fill="#8152d0"/>
<circle cx="738.1" cy="735.8" r="21.9" fill="#8152d0"/>
<circle cx="656.4" cy="765.6" r="21.9" fill="#4a80d8"/>
<circle cx="666.7" cy="762.3" r="21.9" fill="#4a80d8"/>
<circle cx="718.1" cy="799.3" r="28.5" fill="#4a80d8"/>
<circle cx="728.2" cy="789.5" r="28.5" fill="#4a80d8"/>
<circle cx="739.1" cy="708.6" r="22.5" fill="#e26634"/>
<circle cx="750" cy="710.7" r="22.5" fill="#e26634"/>
<g transform="translate(739.6 562.8)">
<ellipse rx="16" ry="16" fill="url(#gA)" stroke="#0c0e26" stroke-width="1.9"/>
<circle r="9" fill="#5fae50"/>
<ellipse cx="-4.9" cy="-4" rx="3.1" ry="6.3" transform="rotate(-20)" fill="#c4f5b4" opacity=".5"/>
</g>
<g transform="translate(973 615.5)">
<ellipse rx="14" ry="14" fill="url(#gE)" stroke="#0c0e26" stroke-width="1.9"/>
<circle r="7.7" fill="#3c6638"/>
<ellipse cx="-3.9" cy="-2.8" rx="2.2" ry="5" transform="rotate(-25)" fill="#5a8453" opacity=".45"/>
</g>
<g transform="translate(903.8 846.6)">
<ellipse rx="14" ry="14" fill="url(#gE)" stroke="#0c0e26" stroke-width="1.9"/>
<circle r="7.7" fill="#3c6638"/>
<ellipse cx="-3.9" cy="-2.8" rx="2.2" ry="5" transform="rotate(-25)" fill="#5a8453" opacity=".45"/>
</g>
<g transform="translate(650.7 621.6)">
<ellipse rx="15" ry="15" fill="url(#gA)" stroke="#0c0e26" stroke-width="1.9"/>
<circle r="8.4" fill="#5fae50"/>
<ellipse cx="-4.6" cy="-3.8" rx="2.9" ry="5.9" transform="rotate(-20)" fill="#c4f5b4" opacity=".5"/>
</g>
<g transform="translate(602.5 709)">
<ellipse rx="16" ry="16" fill="url(#gA)" stroke="#0c0e26" stroke-width="1.9"/>
<circle r="9" fill="#5fae50"/>
<ellipse cx="-4.9" cy="-4" rx="3.1" ry="6.3" transform="rotate(-20)" fill="#c4f5b4" opacity=".5"/>
</g>
<g transform="translate(581.4 743.5)">
<ellipse rx="17" ry="17" fill="url(#gA)" stroke="#0c0e26" stroke-width="1.9"/>
<circle r="9.5" fill="#5fae50"/>
<ellipse cx="-5.2" cy="-4.3" rx="3.3" ry="6.7" transform="rotate(-20)" fill="#c4f5b4" opacity=".5"/>
</g>
<g transform="translate(857 863)">
<ellipse rx="16.9" ry="16.9" fill="url(#gBd)" stroke="#0c0e26" stroke-width="1.9"/>
<ellipse cx="1.7" cy="0.3" rx="4.6" ry="4.6" fill="#3b78c6" opacity=".7"/>
</g>
<g transform="translate(842 870)">
<ellipse rx="14.7" ry="14.7" fill="url(#gBd)" stroke="#0c0e26" stroke-width="1.9"/>
<ellipse cx="1.5" cy="0.3" rx="4" ry="4" fill="#3b78c6" opacity=".7"/>
</g>
<g transform="translate(732 880)">
<ellipse rx="16.9" ry="16.9" fill="url(#gBd)" stroke="#0c0e26" stroke-width="1.9"/>
<ellipse cx="1.7" cy="0.3" rx="4.6" ry="4.6" fill="#3b78c6" opacity=".7"/>
</g>
<g transform="translate(786 889)">
<ellipse rx="16.9" ry="16.9" fill="url(#gBd)" stroke="#0c0e26" stroke-width="1.9"/>
<ellipse cx="1.7" cy="0.3" rx="4.6" ry="4.6" fill="#3b78c6" opacity=".7"/>
</g>
<g transform="translate(834 883)">
<ellipse rx="15.8" ry="15.8" fill="url(#gBd)" stroke="#0c0e26" stroke-width="1.9"/>
<ellipse cx="1.6" cy="0.3" rx="4.3" ry="4.3" fill="#3b78c6" opacity=".7"/>
</g>
<g transform="translate(760 886)">
<ellipse rx="15.8" ry="15.8" fill="url(#gBd)" stroke="#0c0e26" stroke-width="1.9"/>
<ellipse cx="1.6" cy="0.3" rx="4.3" ry="4.3" fill="#3b78c6" opacity=".7"/>
</g>
<g transform="translate(810 890)">
<ellipse rx="14.7" ry="14.7" fill="url(#gBd)" stroke="#0c0e26" stroke-width="1.9"/>
<ellipse cx="1.5" cy="0.3" rx="4" ry="4" fill="#3b78c6" opacity=".7"/>
</g>
<g transform="translate(855 872)">
<ellipse rx="15.8" ry="15.8" fill="url(#gBd)" stroke="#0c0e26" stroke-width="1.9"/>
<ellipse cx="1.6" cy="0.3" rx="4.3" ry="4.3" fill="#3b78c6" opacity=".7"/>
</g>
<g transform="translate(687 874)">
<ellipse rx="16.9" ry="16.9" fill="url(#gPd)" stroke="#0c0e26" stroke-width="1.9"/>
<ellipse cx="1.7" cy="0.3" rx="4.9" ry="4.9" fill="#6d34ad" opacity=".7"/>
</g>
<g transform="translate(710 878)">
<ellipse rx="13.6" ry="13.6" fill="url(#gPd)" stroke="#0c0e26" stroke-width="1.9"/>
<ellipse cx="1.4" cy="0.3" rx="3.9" ry="3.9" fill="#6d34ad" opacity=".7"/>
</g>
<g transform="translate(729 876.7)">
<ellipse rx="15.8" ry="15.8" fill="url(#gBd)" stroke="#0c0e26" stroke-width="1.9"/>
<ellipse cx="1.6" cy="0.3" rx="4.3" ry="4.3" fill="#3b78c6" opacity=".7"/>
</g>
<path d="M818.2 975.6L818.3 973.9L818.3 971.7L818.3 969L818.4 965.9L818.4 962.7L818.4 959.5L818.3 956.2L818.2 953.2L818.1 950.3L818 947.4L817.8 944.4L817.6 941.4L817.3 938.5L817 935.7L816.6 932.9L816.2 930.4L815.7 928L815.2 925.8L814.6 923.7L813.9 921.6L813.2 919.6L812.4 917.7L811.4 915.7L810.4 913.9L809.3 912.2L808.1 910.6L806.9 909.1L805.5 907.6L804 906.2L802.5 905L800.8 903.7L799 902.5L797 901.4L794.8 900.4L792.5 899.5L790.3 898.6L788 897.8L785.8 897L783.7 896.3L781.8 895.5L779.9 894.8L777.9 894L776 893.3L774.3 892.7L772.5 892L770.9 891.3L769.4 890.6L768 889.9L766.6 889.1L765.3 888.3L764 887.4L762.8 886.5L761.6 885.5L760.5 884.6L759.5 883.6L758.5 882.6L757.6 881.7L756.8 880.6L755.9 879.4L755.1 878.1L754.4 877L753.7 875.9L753.1 874.9L752.6 874.2L748.4 876.8L748.8 877.5L749.3 878.4L749.9 879.6L750.7 880.9L751.5 882.2L752.4 883.7L753.4 885.1L754.5 886.4L755.6 887.5L756.7 888.7L757.9 889.8L759.2 890.9L760.5 892L761.9 893.1L763.4 894.1L765 895.1L766.7 896L768.4 896.9L770.2 897.7L772 898.4L773.8 899.1L775.6 899.9L777.4 900.6L779.2 901.5L781.2 902.4L783.2 903.4L785.3 904.3L787.4 905.3L789.4 906.3L791.2 907.4L792.7 908.4L794 909.5L795.1 910.5L796 911.7L796.8 912.8L797.5 913.9L798.1 915.1L798.6 916.4L799.1 917.7L799.6 919.1L800 920.5L800.3 921.9L800.6 923.4L800.9 924.9L801.1 926.6L801.3 928.5L801.6 930.5L801.8 932.6L802.1 934.9L802.4 937.4L802.7 940L802.9 942.7L803.2 945.5L803.4 948.3L803.6 951.1L803.8 953.8L803.8 956.6L803.9 959.6L803.9 962.7L803.9 965.8L803.8 968.8L803.8 971.4L803.8 973.7L803.8 975.4ZM811 917.7L811 916.8L811 915.5L811 914.1L811 912.6L811 910.9L811.1 909.2L811.2 907.6L811.5 906L811.7 904.4L812.1 902.7L812.5 900.9L812.9 899.1L813.4 897.3L813.9 895.6L814.5 894L815 892.6L815.6 891.4L816.3 890.1L817.1 888.9L817.9 887.7L818.6 886.6L819.4 885.6L820 884.7L820.5 884L816.5 881L816 881.6L815.4 882.4L814.6 883.4L813.6 884.6L812.7 885.9L811.7 887.3L810.8 888.8L810 890.4L809.3 892L808.6 893.8L808 895.6L807.4 897.5L806.9 899.5L806.4 901.4L806 903.2L805.5 905L805.2 906.7L804.9 908.6L804.7 910.4L804.5 912.2L804.3 913.8L804.2 915.2L804.1 916.4L804 917.3Z" fill="#16240c" stroke="#16240c" stroke-width="2.8" stroke-linejoin="round"/>
<path d="M818.2 975.6L818.3 973.9L818.3 971.7L818.3 969L818.4 965.9L818.4 962.7L818.4 959.5L818.3 956.2L818.2 953.2L818.1 950.3L818 947.4L817.8 944.4L817.6 941.4L817.3 938.5L817 935.7L816.6 932.9L816.2 930.4L815.7 928L815.2 925.8L814.6 923.7L813.9 921.6L813.2 919.6L812.4 917.7L811.4 915.7L810.4 913.9L809.3 912.2L808.1 910.6L806.9 909.1L805.5 907.6L804 906.2L802.5 905L800.8 903.7L799 902.5L797 901.4L794.8 900.4L792.5 899.5L790.3 898.6L788 897.8L785.8 897L783.7 896.3L781.8 895.5L779.9 894.8L777.9 894L776 893.3L774.3 892.7L772.5 892L770.9 891.3L769.4 890.6L768 889.9L766.6 889.1L765.3 888.3L764 887.4L762.8 886.5L761.6 885.5L760.5 884.6L759.5 883.6L758.5 882.6L757.6 881.7L756.8 880.6L755.9 879.4L755.1 878.1L754.4 877L753.7 875.9L753.1 874.9L752.6 874.2L748.4 876.8L748.8 877.5L749.3 878.4L749.9 879.6L750.7 880.9L751.5 882.2L752.4 883.7L753.4 885.1L754.5 886.4L755.6 887.5L756.7 888.7L757.9 889.8L759.2 890.9L760.5 892L761.9 893.1L763.4 894.1L765 895.1L766.7 896L768.4 896.9L770.2 897.7L772 898.4L773.8 899.1L775.6 899.9L777.4 900.6L779.2 901.5L781.2 902.4L783.2 903.4L785.3 904.3L787.4 905.3L789.4 906.3L791.2 907.4L792.7 908.4L794 909.5L795.1 910.5L796 911.7L796.8 912.8L797.5 913.9L798.1 915.1L798.6 916.4L799.1 917.7L799.6 919.1L800 920.5L800.3 921.9L800.6 923.4L800.9 924.9L801.1 926.6L801.3 928.5L801.6 930.5L801.8 932.6L802.1 934.9L802.4 937.4L802.7 940L802.9 942.7L803.2 945.5L803.4 948.3L803.6 951.1L803.8 953.8L803.8 956.6L803.9 959.6L803.9 962.7L803.9 965.8L803.8 968.8L803.8 971.4L803.8 973.7L803.8 975.4ZM811 917.7L811 916.8L811 915.5L811 914.1L811 912.6L811 910.9L811.1 909.2L811.2 907.6L811.5 906L811.7 904.4L812.1 902.7L812.5 900.9L812.9 899.1L813.4 897.3L813.9 895.6L814.5 894L815 892.6L815.6 891.4L816.3 890.1L817.1 888.9L817.9 887.7L818.6 886.6L819.4 885.6L820 884.7L820.5 884L816.5 881L816 881.6L815.4 882.4L814.6 883.4L813.6 884.6L812.7 885.9L811.7 887.3L810.8 888.8L810 890.4L809.3 892L808.6 893.8L808 895.6L807.4 897.5L806.9 899.5L806.4 901.4L806 903.2L805.5 905L805.2 906.7L804.9 908.6L804.7 910.4L804.5 912.2L804.3 913.8L804.2 915.2L804.1 916.4L804 917.3Z" fill="#8edb38" stroke="#8edb38" stroke-width=".4" stroke-linejoin="round"/>
<path d="M813.8 975.5L813.8 973.8L813.9 971.6L813.9 968.9L814 965.9L814 962.7L814 959.5L813.9 956.4L813.8 953.4L813.7 950.6L813.5 947.7L813.3 944.8L813.1 941.9L812.8 939L812.5 936.3L812.2 933.6L811.8 931.2L811.4 928.9L811 926.8L810.5 924.8L810 922.8L809.5 921L808.8 919.2L808.1 917.4L807.3 915.8L806.4 914.2L805.5 912.7L804.5 911.3L803.4 909.9L802.2 908.6L801 907.4L799.5 906.2L798 905L796.2 903.9L794.3 902.9L792.2 901.9L790 901L787.9 900.2L785.7 899.3L783.6 898.5L781.7 897.7L779.8 896.9L777.9 896.1L776 895.4L774.2 894.7L772.5 894L770.8 893.3L769.2 892.6L767.7 891.8L766.3 890.9L764.9 890L763.6 889L762.3 888.1L761.1 887.1L760 886L758.9 885L757.9 884L756.9 882.9L756 881.7L755.1 880.4L754.3 879.1L753.6 877.9L752.9 876.8L752.3 875.8L751.9 875.1L750.7 875.9L751.1 876.6L751.7 877.5L752.3 878.6L753.1 879.9L753.9 881.2L754.8 882.5L755.7 883.8L756.7 885L757.8 886.1L758.9 887.2L760.1 888.3L761.3 889.3L762.6 890.3L764 891.3L765.4 892.3L766.9 893.2L768.5 894.1L770.1 894.9L771.8 895.6L773.6 896.3L775.4 897L777.2 897.8L779.1 898.5L780.9 899.3L782.9 900.2L785 901.1L787.1 902L789.2 902.9L791.3 903.9L793.3 904.9L795.1 905.9L796.6 907L798 908.1L799.2 909.2L800.2 910.4L801.2 911.7L802 913L802.8 914.3L803.6 915.7L804.3 917.2L804.9 918.8L805.5 920.4L806 922L806.4 923.7L806.8 925.6L807.1 927.5L807.5 929.6L807.8 931.8L808.1 934.2L808.4 936.7L808.7 939.4L809 942.2L809.2 945.1L809.5 948L809.6 950.8L809.8 953.6L809.9 956.4L809.9 959.5L809.9 962.7L809.9 965.9L809.9 968.8L809.8 971.5L809.8 973.8L809.8 975.5Z" fill="#c4f06a" opacity=".85"/>
<path d="M802 975.5L802 973.9L802 971.6L802.1 968.9L802.1 965.8L802.1 962.6L802.1 959.3L802.1 956.2L802 953.3L801.9 950.5L801.8 947.8L801.6 945.1L801.4 942.4L801.2 939.8L801 937.3L800.7 934.9L800.5 932.7L800.3 930.8L800.1 929L800 927L799.8 924.8L799.4 922.4L798.8 919.7L797.6 916.8L795.8 913.9L793.3 911.5L790.6 909.9L788 909L785.7 908.7L783.7 908.6L781.9 908.6L780.2 908.5L778.5 908.3L776.4 907.9L774.1 907.4L771.8 906.9L769.4 906.4L767 905.9L764.6 905.3L762.3 904.8L760.1 904.2L757.8 903.7L755.4 903.1L753 902.5L750.7 901.8L748.4 901.2L746.1 900.6L744.1 899.9L742.1 899.3L740.3 898.7L738.6 898.1L737.2 897.6L735.9 897.2L734.7 896.6L733.5 896.1L732.3 895.3L731.1 894.5L729.8 893.3L728.4 891.9L727 890.3L725.4 888.5L723.9 886.6L722.3 884.6L720.7 882.8L719 881.1L717.4 879.5L715.8 878.1L714.2 876.7L712.6 875.4L711 874.2L709.4 873L707.9 871.9L706.3 870.8L704.8 869.8L703.3 869L701.8 868.3L700.4 867.6L699.1 867L697.8 866.4L696.4 865.7L695 864.9L693.6 864L692.1 863.2L690.7 862.4L689.4 861.5L687.9 860.6L686.3 859.4L684.5 858L682.5 856.3L680 854L677 851.1L673.7 847.8L670.3 844.3L667 841L664 837.9L661.5 835.3L659.6 833.4L655.4 837.6L657.2 839.5L659.7 842.1L662.7 845.2L666 848.5L669.5 852L672.8 855.3L675.9 858.3L678.5 860.7L680.7 862.6L682.7 864.2L684.5 865.5L686.1 866.6L687.7 867.5L689.1 868.4L690.5 869.2L692 870.1L693.5 871L695 871.8L696.4 872.6L697.7 873.2L699 873.9L700.2 874.6L701.4 875.3L702.7 876.2L704 877.2L705.4 878.3L706.9 879.4L708.3 880.6L709.7 881.8L711.2 883.2L712.6 884.5L714 885.9L715.3 887.5L716.7 889.2L718.1 891.1L719.6 893L721 895L722.6 897L724.2 898.9L725.9 900.5L727.6 901.9L729.2 903.1L730.8 904L732.4 904.8L734 905.6L735.5 906.2L737.1 906.9L738.9 907.7L740.9 908.6L743 909.5L745.3 910.4L747.6 911.3L749.9 912.2L752.3 913.1L754.6 913.9L756.9 914.8L759.3 915.6L761.7 916.3L764.1 917L766.5 917.7L768.7 918.4L770.9 919.1L772.8 919.9L774.5 920.7L776.3 921.6L778 922.5L779.3 923.4L780.3 924.2L780.7 924.9L780.5 925.4L779.9 925.4L779.2 925.1L778.8 924.8L778.5 924.8L778.5 925.3L778.5 926.4L778.5 927.9L778.4 929.7L778.5 932L778.5 934.3L778.6 936.5L778.7 938.8L778.8 941.1L778.8 943.6L778.9 946.1L778.9 948.6L779 951.2L779 953.7L779 956.4L779 959.4L779 962.6L779 965.7L779 968.7L779 971.4L779 973.7L779 975.5ZM741.8 871.9L741.7 872.5L741.4 873.4L741.1 874.4L740.8 875.6L740.5 876.9L740.1 878.2L739.8 879.7L739.5 881L739.3 882.3L738.9 883.7L738.6 885.2L738.2 886.8L738 888.6L737.8 890.4L737.8 892.4L738.1 894.4L738.7 896.4L739.6 898.5L740.7 900.4L741.8 902.3L742.9 904.1L743.8 905.6L744.6 906.8L745.1 907.7L751.9 903.3L751.2 902.4L750.3 901.1L749.2 899.7L748.1 898.2L747 896.6L746.1 895.1L745.3 893.7L744.9 892.6L744.7 891.6L744.5 890.4L744.5 889.2L744.6 887.8L744.8 886.4L745 884.9L745.3 883.4L745.5 882L745.6 880.7L745.8 879.4L746.1 878.1L746.3 876.9L746.6 875.8L746.8 874.7L747 873.8L747.2 873.1ZM796.3 927.1L796.5 925.8L796.5 924.1L796.6 922.4L796.6 920.6L796.8 918.8L797 917L797.3 915.5L797.8 914.1L798.5 912.7L799.5 911.2L800.7 909.6L802.1 908L803.6 906.3L805.3 904.7L807 903L808.8 901.4L810.7 899.9L812.8 898.4L815 896.8L817.3 895.3L819.7 893.8L822 892.2L824.3 890.7L826.5 889.1L828.4 887.5L830.1 885.8L831.7 884.2L833.1 882.8L834.5 881.4L835.8 880.2L837.3 879.1L838.8 878.2L840.6 877.4L842.8 876.8L845.2 876.2L847.7 875.7L850.3 875.3L852.9 874.7L855.4 874.1L857.7 873.3L859.6 872.3L861.4 871.4L863 870.3L864.4 869.2L865.7 868L866.9 866.8L868 865.5L869 864.1L869.9 862.5L870.6 860.6L871.1 858.8L871.4 857.1L871.7 855.4L871.9 854L872 852.9L872.2 852.1L866.8 850.9L866.6 851.9L866.4 853.1L866.1 854.5L865.8 855.9L865.4 857.4L865 858.8L864.5 859.9L864 860.9L863.3 861.8L862.5 862.8L861.6 863.7L860.6 864.5L859.5 865.4L858.2 866.2L856.8 867L855.3 867.7L853.6 868.4L851.6 868.9L849.2 869.4L846.6 869.9L844 870.4L841.3 871L838.7 871.8L836.2 872.8L834 874L832.1 875.4L830.3 876.9L828.8 878.4L827.3 879.8L825.8 881.2L824.2 882.6L822.5 883.9L820.6 885.2L818.4 886.6L816.1 888L813.7 889.5L811.2 890.9L808.8 892.4L806.4 894L804.2 895.6L802.1 897.1L800.1 898.6L798.1 900.2L796.2 901.8L794.3 903.4L792.5 905.2L790.8 906.9L789.2 908.9L787.8 911.1L786.6 913.5L785.6 915.8L784.7 918L784.1 920.1L783.5 921.8L783 923.1L782.7 923.9Z" fill="#330808" stroke="#330808" stroke-width="2.8" stroke-linejoin="round"/>
<path d="M802 975.5L802 973.9L802 971.6L802.1 968.9L802.1 965.8L802.1 962.6L802.1 959.3L802.1 956.2L802 953.3L801.9 950.5L801.8 947.8L801.6 945.1L801.4 942.4L801.2 939.8L801 937.3L800.7 934.9L800.5 932.7L800.3 930.8L800.1 929L800 927L799.8 924.8L799.4 922.4L798.8 919.7L797.6 916.8L795.8 913.9L793.3 911.5L790.6 909.9L788 909L785.7 908.7L783.7 908.6L781.9 908.6L780.2 908.5L778.5 908.3L776.4 907.9L774.1 907.4L771.8 906.9L769.4 906.4L767 905.9L764.6 905.3L762.3 904.8L760.1 904.2L757.8 903.7L755.4 903.1L753 902.5L750.7 901.8L748.4 901.2L746.1 900.6L744.1 899.9L742.1 899.3L740.3 898.7L738.6 898.1L737.2 897.6L735.9 897.2L734.7 896.6L733.5 896.1L732.3 895.3L731.1 894.5L729.8 893.3L728.4 891.9L727 890.3L725.4 888.5L723.9 886.6L722.3 884.6L720.7 882.8L719 881.1L717.4 879.5L715.8 878.1L714.2 876.7L712.6 875.4L711 874.2L709.4 873L707.9 871.9L706.3 870.8L704.8 869.8L703.3 869L701.8 868.3L700.4 867.6L699.1 867L697.8 866.4L696.4 865.7L695 864.9L693.6 864L692.1 863.2L690.7 862.4L689.4 861.5L687.9 860.6L686.3 859.4L684.5 858L682.5 856.3L680 854L677 851.1L673.7 847.8L670.3 844.3L667 841L664 837.9L661.5 835.3L659.6 833.4L655.4 837.6L657.2 839.5L659.7 842.1L662.7 845.2L666 848.5L669.5 852L672.8 855.3L675.9 858.3L678.5 860.7L680.7 862.6L682.7 864.2L684.5 865.5L686.1 866.6L687.7 867.5L689.1 868.4L690.5 869.2L692 870.1L693.5 871L695 871.8L696.4 872.6L697.7 873.2L699 873.9L700.2 874.6L701.4 875.3L702.7 876.2L704 877.2L705.4 878.3L706.9 879.4L708.3 880.6L709.7 881.8L711.2 883.2L712.6 884.5L714 885.9L715.3 887.5L716.7 889.2L718.1 891.1L719.6 893L721 895L722.6 897L724.2 898.9L725.9 900.5L727.6 901.9L729.2 903.1L730.8 904L732.4 904.8L734 905.6L735.5 906.2L737.1 906.9L738.9 907.7L740.9 908.6L743 909.5L745.3 910.4L747.6 911.3L749.9 912.2L752.3 913.1L754.6 913.9L756.9 914.8L759.3 915.6L761.7 916.3L764.1 917L766.5 917.7L768.7 918.4L770.9 919.1L772.8 919.9L774.5 920.7L776.3 921.6L778 922.5L779.3 923.4L780.3 924.2L780.7 924.9L780.5 925.4L779.9 925.4L779.2 925.1L778.8 924.8L778.5 924.8L778.5 925.3L778.5 926.4L778.5 927.9L778.4 929.7L778.5 932L778.5 934.3L778.6 936.5L778.7 938.8L778.8 941.1L778.8 943.6L778.9 946.1L778.9 948.6L779 951.2L779 953.7L779 956.4L779 959.4L779 962.6L779 965.7L779 968.7L779 971.4L779 973.7L779 975.5ZM741.8 871.9L741.7 872.5L741.4 873.4L741.1 874.4L740.8 875.6L740.5 876.9L740.1 878.2L739.8 879.7L739.5 881L739.3 882.3L738.9 883.7L738.6 885.2L738.2 886.8L738 888.6L737.8 890.4L737.8 892.4L738.1 894.4L738.7 896.4L739.6 898.5L740.7 900.4L741.8 902.3L742.9 904.1L743.8 905.6L744.6 906.8L745.1 907.7L751.9 903.3L751.2 902.4L750.3 901.1L749.2 899.7L748.1 898.2L747 896.6L746.1 895.1L745.3 893.7L744.9 892.6L744.7 891.6L744.5 890.4L744.5 889.2L744.6 887.8L744.8 886.4L745 884.9L745.3 883.4L745.5 882L745.6 880.7L745.8 879.4L746.1 878.1L746.3 876.9L746.6 875.8L746.8 874.7L747 873.8L747.2 873.1ZM796.3 927.1L796.5 925.8L796.5 924.1L796.6 922.4L796.6 920.6L796.8 918.8L797 917L797.3 915.5L797.8 914.1L798.5 912.7L799.5 911.2L800.7 909.6L802.1 908L803.6 906.3L805.3 904.7L807 903L808.8 901.4L810.7 899.9L812.8 898.4L815 896.8L817.3 895.3L819.7 893.8L822 892.2L824.3 890.7L826.5 889.1L828.4 887.5L830.1 885.8L831.7 884.2L833.1 882.8L834.5 881.4L835.8 880.2L837.3 879.1L838.8 878.2L840.6 877.4L842.8 876.8L845.2 876.2L847.7 875.7L850.3 875.3L852.9 874.7L855.4 874.1L857.7 873.3L859.6 872.3L861.4 871.4L863 870.3L864.4 869.2L865.7 868L866.9 866.8L868 865.5L869 864.1L869.9 862.5L870.6 860.6L871.1 858.8L871.4 857.1L871.7 855.4L871.9 854L872 852.9L872.2 852.1L866.8 850.9L866.6 851.9L866.4 853.1L866.1 854.5L865.8 855.9L865.4 857.4L865 858.8L864.5 859.9L864 860.9L863.3 861.8L862.5 862.8L861.6 863.7L860.6 864.5L859.5 865.4L858.2 866.2L856.8 867L855.3 867.7L853.6 868.4L851.6 868.9L849.2 869.4L846.6 869.9L844 870.4L841.3 871L838.7 871.8L836.2 872.8L834 874L832.1 875.4L830.3 876.9L828.8 878.4L827.3 879.8L825.8 881.2L824.2 882.6L822.5 883.9L820.6 885.2L818.4 886.6L816.1 888L813.7 889.5L811.2 890.9L808.8 892.4L806.4 894L804.2 895.6L802.1 897.1L800.1 898.6L798.1 900.2L796.2 901.8L794.3 903.4L792.5 905.2L790.8 906.9L789.2 908.9L787.8 911.1L786.6 913.5L785.6 915.8L784.7 918L784.1 920.1L783.5 921.8L783 923.1L782.7 923.9Z" fill="#ee2f25" stroke="#ee2f25" stroke-width=".4" stroke-linejoin="round"/>
<path d="M790.6 975.5L790.6 973.8L790.6 971.5L790.7 968.8L790.7 965.8L790.7 962.6L790.7 959.4L790.7 956.3L790.6 953.4L790.5 950.8L790.5 948.1L790.4 945.5L790.2 942.9L790.1 940.3L790 937.9L789.8 935.5L789.6 933.3L789.5 931.3L789.4 929.3L789.3 927.3L789.2 925.4L789 923.5L788.7 921.7L788.1 919.9L787.2 918.2L786 916.8L784.7 915.7L783.2 915L781.8 914.5L780.3 914.1L778.7 913.8L777.1 913.4L775.5 913L773.6 912.4L771.5 911.8L769.2 911.2L766.9 910.6L764.5 910.1L762.2 909.4L759.8 908.8L757.6 908.2L755.3 907.5L753 906.8L750.7 906.1L748.3 905.4L746 904.6L743.8 903.9L741.8 903.2L739.8 902.5L738.1 901.8L736.4 901.2L734.9 900.6L733.5 900L732.2 899.4L730.9 898.7L729.6 897.8L728.2 896.7L726.8 895.4L725.3 893.8L723.8 892.1L722.3 890.2L720.8 888.2L719.3 886.3L717.8 884.5L716.3 882.9L714.8 881.4L713.2 880L711.7 878.6L710.2 877.4L708.6 876.1L707.1 875L705.6 873.9L704.2 872.8L702.7 871.9L701.3 871.1L700 870.4L698.7 869.7L697.3 869.1L696 868.4L694.6 867.7L693.2 866.9L691.7 866L690.3 865.1L688.9 864.3L687.4 863.4L685.9 862.4L684.2 861.2L682.4 859.7L680.3 857.9L677.7 855.6L674.7 852.7L671.4 849.4L668 845.9L664.7 842.5L661.7 839.4L659.2 836.8L657.3 835L656.2 836L658.1 837.9L660.6 840.5L663.6 843.6L666.9 847L670.3 850.4L673.7 853.7L676.7 856.7L679.3 859.1L681.4 860.9L683.3 862.4L685.1 863.6L686.6 864.7L688.1 865.6L689.5 866.4L690.9 867.3L692.4 868.1L693.9 869L695.3 869.8L696.6 870.5L698 871.1L699.3 871.8L700.6 872.5L701.9 873.3L703.3 874.2L704.7 875.2L706.1 876.3L707.6 877.4L709.1 878.6L710.6 879.9L712.1 881.3L713.6 882.7L715 884.1L716.5 885.7L717.9 887.5L719.4 889.4L720.9 891.3L722.3 893.3L723.8 895.1L725.4 896.8L726.9 898.3L728.4 899.5L729.8 900.4L731.3 901.3L732.7 902L734.1 902.6L735.6 903.2L737.3 903.8L739 904.5L741 905.3L743 906.1L745.3 906.9L747.5 907.7L749.9 908.5L752.2 909.3L754.5 910.1L756.8 910.8L759.1 911.5L761.4 912.2L763.8 912.8L766.2 913.5L768.5 914.1L770.6 914.7L772.6 915.4L774.4 916L776.1 916.7L777.7 917.3L779.1 917.8L780.3 918.4L781.2 918.9L782 919.5L782.5 920.1L783 920.8L783.3 921.7L783.6 922.8L783.8 924.1L783.9 925.7L783.9 927.5L784 929.4L784 931.5L784.1 933.7L784.3 935.9L784.4 938.2L784.5 940.6L784.6 943.1L784.7 945.7L784.7 948.3L784.8 950.9L784.9 953.6L784.9 956.3L784.9 959.4L784.9 962.6L784.9 965.7L784.9 968.8L784.9 971.5L784.9 973.8L784.9 975.5Z" fill="#f9766a" opacity=".8"/>
<rect x="770.5" y="943.5" width="60" height="20" fill="url(#fadeR)"/>
<rect x="770.5" y="963" width="60" height="20" fill="#fff"/>
<g transform="translate(608.5 728)">
<ellipse rx="14.7" ry="14.7" fill="url(#gO2)" stroke="#0c0e26" stroke-width="1.9"/>
<ellipse cx="1.5" cy="0.3" rx="4" ry="4.2" fill="#d8533a"/>
<ellipse cx="-2.3" cy="-1.7" rx="1.8" ry="4.4" transform="rotate(-12)" fill="#fbb58e" opacity=".55"/>
</g>
<g transform="translate(803 834.6)">
<ellipse rx="16.9" ry="28.2" fill="url(#gO2)" stroke="#0c0e26" stroke-width="1.9"/>
<ellipse cx="1.7" cy="0.3" rx="6.1" ry="6.5" fill="#d8533a"/>
<ellipse cx="-4.1" cy="-2.7" rx="2.8" ry="6.8" transform="rotate(-12)" fill="#fbb58e" opacity=".55"/>
</g>
<g transform="translate(620 700)">
<ellipse rx="15.8" ry="15.8" fill="url(#gO2)" stroke="#0c0e26" stroke-width="1.9"/>
<ellipse cx="1.6" cy="0.3" rx="4.3" ry="4.5" fill="#d8533a"/>
<ellipse cx="-2.5" cy="-1.8" rx="1.9" ry="4.7" transform="rotate(-12)" fill="#fbb58e" opacity=".55"/>
</g>
<g transform="translate(644.7 651.7)">
<ellipse rx="22.6" ry="22.6" fill="url(#gO2)" stroke="#0c0e26" stroke-width="1.9"/>
<ellipse cx="2.3" cy="0.5" rx="6.1" ry="6.5" fill="#d8533a"/>
<ellipse cx="-3.6" cy="-2.6" rx="2.8" ry="6.8" transform="rotate(-12)" fill="#fbb58e" opacity=".55"/>
</g>
<g transform="translate(660 640)">
<ellipse rx="18.1" ry="18.1" fill="url(#gO2)" stroke="#0c0e26" stroke-width="1.9"/>
<ellipse cx="1.8" cy="0.4" rx="4.9" ry="5.2" fill="#d8533a"/>
<ellipse cx="-2.9" cy="-2.1" rx="2.2" ry="5.4" transform="rotate(-12)" fill="#fbb58e" opacity=".55"/>
</g>
<g transform="translate(699 615.5)">
<ellipse rx="18.1" ry="18.1" fill="url(#gO2)" stroke="#0c0e26" stroke-width="1.9"/>
<ellipse cx="1.8" cy="0.4" rx="4.9" ry="5.2" fill="#d8533a"/>
<ellipse cx="-2.9" cy="-2.1" rx="2.2" ry="5.4" transform="rotate(-12)" fill="#fbb58e" opacity=".55"/>
</g>
<g transform="translate(741 609.5)">
<ellipse rx="22.6" ry="22.6" fill="url(#gO2)" stroke="#0c0e26" stroke-width="1.9"/>
<ellipse cx="2.3" cy="0.5" rx="6.1" ry="6.5" fill="#d8533a"/>
<ellipse cx="-3.6" cy="-2.6" rx="2.8" ry="6.8" transform="rotate(-12)" fill="#fbb58e" opacity=".55"/>
</g>
<g transform="translate(747 612.5)">
<ellipse rx="22.6" ry="22.6" fill="url(#gO2)" stroke="#0c0e26" stroke-width="1.9"/>
<ellipse cx="2.3" cy="0.5" rx="6.1" ry="6.5" fill="#d8533a"/>
<ellipse cx="-3.6" cy="-2.6" rx="2.8" ry="6.8" transform="rotate(-12)" fill="#fbb58e" opacity=".55"/>
</g>
<g transform="translate(814 744)">
<ellipse rx="22.6" ry="22.6" fill="url(#gO2)" stroke="#0c0e26" stroke-width="1.9"/>
<ellipse cx="2.3" cy="0.5" rx="6.1" ry="6.5" fill="#d8533a"/>
<ellipse cx="-3.6" cy="-2.6" rx="2.8" ry="6.8" transform="rotate(-12)" fill="#fbb58e" opacity=".55"/>
</g>
<g transform="translate(726 648.7)">
<ellipse rx="20.3" ry="20.3" fill="url(#gO2)" stroke="#0c0e26" stroke-width="1.9"/>
<ellipse cx="2" cy="0.4" rx="5.5" ry="5.8" fill="#d8533a"/>
<ellipse cx="-3.2" cy="-2.4" rx="2.5" ry="6.1" transform="rotate(-12)" fill="#fbb58e" opacity=".55"/>
</g>
<g transform="translate(680.8 606.5)">
<ellipse rx="15.8" ry="15.8" fill="url(#gB2)" stroke="#0c0e26" stroke-width="1.9"/>
<ellipse cx="1.6" cy="0.3" rx="4.3" ry="4.5" fill="#4a80d2"/>
<ellipse cx="-2.5" cy="-1.8" rx="1.9" ry="4.7" transform="rotate(-12)" fill="#b4d6fb" opacity=".55"/>
</g>
<g transform="translate(711 594.5)">
<ellipse rx="18.1" ry="18.1" fill="url(#gB2)" stroke="#0c0e26" stroke-width="1.9"/>
<ellipse cx="1.8" cy="0.4" rx="4.9" ry="5.2" fill="#4a80d2"/>
<ellipse cx="-2.9" cy="-2.1" rx="2.2" ry="5.4" transform="rotate(-12)" fill="#b4d6fb" opacity=".55"/>
</g>
<g transform="translate(813.5 538.7)">
<ellipse rx="21.5" ry="14.2" transform="rotate(-202.5)" fill="url(#gB2)" stroke="#0c0e26" stroke-width="1.9"/>
<ellipse cx="1.4" cy="0.3" rx="4.9" ry="5.1" fill="#4a80d2"/>
<ellipse cx="-3.2" cy="-2.1" rx="2.2" ry="5.3" transform="rotate(-12)" fill="#b4d6fb" opacity=".55"/>
</g>
<g transform="translate(765 558)">
<ellipse rx="16.9" ry="8.9" transform="rotate(-227.6)" fill="url(#gB2)" stroke="#0c0e26" stroke-width="1.9"/>
<ellipse cx="0.9" cy="0.2" rx="3.5" ry="3.7" fill="#4a80d2"/>
<ellipse cx="-2.5" cy="-1.6" rx="1.6" ry="3.9" transform="rotate(-12)" fill="#b4d6fb" opacity=".55"/>
</g>
<g transform="translate(903.8 550.8)">
<ellipse rx="19.2" ry="13.1" transform="rotate(-146.6)" fill="url(#gB2)" stroke="#0c0e26" stroke-width="1.9"/>
<ellipse cx="1.3" cy="0.3" rx="4.4" ry="4.6" fill="#4a80d2"/>
<ellipse cx="-2.9" cy="-1.9" rx="2" ry="4.8" transform="rotate(-12)" fill="#b4d6fb" opacity=".55"/>
</g>
<g transform="translate(852.6 541.7)">
<ellipse rx="21.5" ry="15.5" transform="rotate(-178.3)" fill="url(#gB2)" stroke="#0c0e26" stroke-width="1.9"/>
<ellipse cx="1.6" cy="0.3" rx="5" ry="5.3" fill="#4a80d2"/>
<ellipse cx="-3.2" cy="-2.2" rx="2.3" ry="5.5" transform="rotate(-12)" fill="#b4d6fb" opacity=".55"/>
</g>
<g transform="translate(777.3 555.3)">
<ellipse rx="21.5" ry="13.2" transform="rotate(-222.6)" fill="url(#gB2)" stroke="#0c0e26" stroke-width="1.9"/>
<ellipse cx="1.3" cy="0.3" rx="4.7" ry="5" fill="#4a80d2"/>
<ellipse cx="-3.2" cy="-2.1" rx="2.1" ry="5.2" transform="rotate(-12)" fill="#b4d6fb" opacity=".55"/>
</g>
<g transform="translate(741 579.4)">
<ellipse rx="18.1" ry="18.1" fill="url(#gB2)" stroke="#0c0e26" stroke-width="1.9"/>
<ellipse cx="1.8" cy="0.4" rx="4.9" ry="5.2" fill="#4a80d2"/>
<ellipse cx="-2.9" cy="-2.1" rx="2.2" ry="5.4" transform="rotate(-12)" fill="#b4d6fb" opacity=".55"/>
</g>
<g transform="translate(819.5 559.8)">
<ellipse rx="23.7" ry="18.4" transform="rotate(-201.7)" fill="url(#gB2)" stroke="#0c0e26" stroke-width="1.9"/>
<ellipse cx="1.8" cy="0.4" rx="5.7" ry="6" fill="#4a80d2"/>
<ellipse cx="-3.6" cy="-2.5" rx="2.6" ry="6.3" transform="rotate(-12)" fill="#b4d6fb" opacity=".55"/>
</g>
<g transform="translate(922 579.4)">
<ellipse rx="19.2" ry="14.2" transform="rotate(-132.5)" fill="url(#gB2)" stroke="#0c0e26" stroke-width="1.9"/>
<ellipse cx="1.4" cy="0.3" rx="4.5" ry="4.8" fill="#4a80d2"/>
<ellipse cx="-2.9" cy="-2" rx="2" ry="5" transform="rotate(-12)" fill="#b4d6fb" opacity=".55"/>
</g>
<g transform="translate(813.5 867.7)">
<ellipse rx="22.6" ry="14.6" transform="rotate(22.2)" fill="url(#gB2)" stroke="#0c0e26" stroke-width="1.9"/>
<ellipse cx="1.5" cy="0.3" rx="5.1" ry="5.3" fill="#4a80d2"/>
<ellipse cx="-3.3" cy="-2.2" rx="2.3" ry="5.6" transform="rotate(-12)" fill="#b4d6fb" opacity=".55"/>
</g>
<g transform="translate(958 609.5)">
<ellipse rx="13.6" ry="8.7" transform="rotate(-114.8)" fill="url(#gB2)" stroke="#0c0e26" stroke-width="1.9"/>
<ellipse cx="0.9" cy="0.2" rx="3" ry="3.2" fill="#4a80d2"/>
<ellipse cx="-2" cy="-1.3" rx="1.4" ry="3.3" transform="rotate(-12)" fill="#b4d6fb" opacity=".55"/>
</g>
<g transform="translate(882.7 565.8)">
<ellipse rx="23.7" ry="18.9" transform="rotate(-156)" fill="url(#gB2)" stroke="#0c0e26" stroke-width="1.9"/>
<ellipse cx="1.9" cy="0.4" rx="5.8" ry="6.1" fill="#4a80d2"/>
<ellipse cx="-3.6" cy="-2.5" rx="2.6" ry="6.4" transform="rotate(-12)" fill="#b4d6fb" opacity=".55"/>
</g>
<g transform="translate(765 584)">
<ellipse rx="18.1" ry="18.1" fill="url(#gB2)" stroke="#0c0e26" stroke-width="1.9"/>
<ellipse cx="1.8" cy="0.4" rx="4.9" ry="5.2" fill="#4a80d2"/>
<ellipse cx="-2.9" cy="-2.1" rx="2.2" ry="5.4" transform="rotate(-12)" fill="#b4d6fb" opacity=".55"/>
</g>
<g transform="translate(797 578)">
<ellipse rx="21.5" ry="17.1" transform="rotate(-218.4)" fill="url(#gB2)" stroke="#0c0e26" stroke-width="1.9"/>
<ellipse cx="1.7" cy="0.3" rx="5.2" ry="5.5" fill="#4a80d2"/>
<ellipse cx="-3.3" cy="-2.3" rx="2.4" ry="5.8" transform="rotate(-12)" fill="#b4d6fb" opacity=".55"/>
</g>
<g transform="translate(965 635)">
<ellipse rx="13.6" ry="9" transform="rotate(-107.4)" fill="url(#gB2)" stroke="#0c0e26" stroke-width="1.9"/>
<ellipse cx="0.9" cy="0.2" rx="3.1" ry="3.2" fill="#4a80d2"/>
<ellipse cx="-2" cy="-1.4" rx="1.4" ry="3.4" transform="rotate(-12)" fill="#b4d6fb" opacity=".55"/>
</g>
<g transform="translate(930 600)">
<ellipse rx="16.9" ry="13.1" transform="rotate(-124.5)" fill="url(#gB2)" stroke="#0c0e26" stroke-width="1.9"/>
<ellipse cx="1.3" cy="0.3" rx="4.1" ry="4.3" fill="#4a80d2"/>
<ellipse cx="-2.6" cy="-1.8" rx="1.8" ry="4.5" transform="rotate(-12)" fill="#b4d6fb" opacity=".55"/>
</g>
<g transform="translate(849.6 576.4)">
<ellipse rx="23.7" ry="20.2" transform="rotate(-180.3)" fill="url(#gB2)" stroke="#0c0e26" stroke-width="1.9"/>
<ellipse cx="2" cy="0.4" rx="6" ry="6.3" fill="#4a80d2"/>
<ellipse cx="-3.7" cy="-2.6" rx="2.7" ry="6.6" transform="rotate(-12)" fill="#b4d6fb" opacity=".55"/>
</g>
<g transform="translate(903.8 593)">
<ellipse rx="23.7" ry="19.8" transform="rotate(-137.5)" fill="url(#gB2)" stroke="#0c0e26" stroke-width="1.9"/>
<ellipse cx="2" cy="0.4" rx="5.9" ry="6.2" fill="#4a80d2"/>
<ellipse cx="-3.6" cy="-2.6" rx="2.7" ry="6.5" transform="rotate(-12)" fill="#b4d6fb" opacity=".55"/>
</g>
<g transform="translate(937 621.6)">
<ellipse rx="23.7" ry="18.9" transform="rotate(-116.5)" fill="url(#gB2)" stroke="#0c0e26" stroke-width="1.9"/>
<ellipse cx="1.9" cy="0.4" rx="5.8" ry="6.1" fill="#4a80d2"/>
<ellipse cx="-3.6" cy="-2.5" rx="2.6" ry="6.4" transform="rotate(-12)" fill="#b4d6fb" opacity=".55"/>
</g>
<g transform="translate(962.6 660.7)">
<ellipse rx="16.9" ry="12.4" transform="rotate(-101.2)" fill="url(#gB2)" stroke="#0c0e26" stroke-width="1.9"/>
<ellipse cx="1.2" cy="0.2" rx="4" ry="4.2" fill="#4a80d2"/>
<ellipse cx="-2.6" cy="-1.7" rx="1.8" ry="4.4" transform="rotate(-12)" fill="#b4d6fb" opacity=".55"/>
</g>
<g transform="translate(882.7 837.6)">
<ellipse rx="20.3" ry="16.2" transform="rotate(-24.1)" fill="url(#gB2)" stroke="#0c0e26" stroke-width="1.9"/>
<ellipse cx="1.6" cy="0.3" rx="5" ry="5.2" fill="#4a80d2"/>
<ellipse cx="-3.1" cy="-2.2" rx="2.2" ry="5.5" transform="rotate(-12)" fill="#b4d6fb" opacity=".55"/>
</g>
<g transform="translate(827 590)">
<ellipse rx="27.1" ry="23.7" transform="rotate(-200.9)" fill="url(#gB2)" stroke="#0c0e26" stroke-width="1.9"/>
<ellipse cx="2.4" cy="0.5" rx="6.9" ry="7.3" fill="#4a80d2"/>
<ellipse cx="-4.2" cy="-3" rx="3.1" ry="7.6" transform="rotate(-12)" fill="#b4d6fb" opacity=".55"/>
</g>
<g transform="translate(781.8 606.5)">
<ellipse rx="19.2" ry="19.2" fill="url(#gB2)" stroke="#0c0e26" stroke-width="1.9"/>
<ellipse cx="1.9" cy="0.4" rx="5.2" ry="5.5" fill="#4a80d2"/>
<ellipse cx="-3" cy="-2.2" rx="2.4" ry="5.7" transform="rotate(-12)" fill="#b4d6fb" opacity=".55"/>
</g>
<g transform="translate(940 640)">
<ellipse rx="16.9" ry="13.8" transform="rotate(-110.4)" fill="url(#gB2)" stroke="#0c0e26" stroke-width="1.9"/>
<ellipse cx="1.4" cy="0.3" rx="4.2" ry="4.4" fill="#4a80d2"/>
<ellipse cx="-2.6" cy="-1.8" rx="1.9" ry="4.6" transform="rotate(-12)" fill="#b4d6fb" opacity=".55"/>
</g>
<g transform="translate(872 599)">
<ellipse rx="23.7" ry="21.3" transform="rotate(-158.4)" fill="url(#gB2)" stroke="#0c0e26" stroke-width="1.9"/>
<ellipse cx="2.1" cy="0.4" rx="6.1" ry="6.4" fill="#4a80d2"/>
<ellipse cx="-3.7" cy="-2.6" rx="2.8" ry="6.7" transform="rotate(-12)" fill="#b4d6fb" opacity=".55"/>
</g>
<g transform="translate(915.9 807)">
<ellipse rx="24.9" ry="20.2" transform="rotate(-49.4)" fill="url(#gB2)" stroke="#0c0e26" stroke-width="1.9"/>
<ellipse cx="2" cy="0.4" rx="6.1" ry="6.4" fill="#4a80d2"/>
<ellipse cx="-3.8" cy="-2.7" rx="2.8" ry="6.7" transform="rotate(-12)" fill="#b4d6fb" opacity=".55"/>
</g>
<g transform="translate(958 700)">
<ellipse rx="15.8" ry="12.4" transform="rotate(-90.6)" fill="url(#gB2)" stroke="#0c0e26" stroke-width="1.9"/>
<ellipse cx="1.2" cy="0.2" rx="3.8" ry="4" fill="#4a80d2"/>
<ellipse cx="-2.4" cy="-1.7" rx="1.7" ry="4.2" transform="rotate(-12)" fill="#b4d6fb" opacity=".55"/>
</g>
<g transform="translate(950 754)">
<ellipse rx="19.2" ry="15.1" transform="rotate(-74.3)" fill="url(#gB2)" stroke="#0c0e26" stroke-width="1.9"/>
<ellipse cx="1.5" cy="0.3" rx="4.7" ry="4.9" fill="#4a80d2"/>
<ellipse cx="-2.9" cy="-2" rx="2.1" ry="5.1" transform="rotate(-12)" fill="#b4d6fb" opacity=".55"/>
</g>
<g transform="translate(846.6 825.5)">
<ellipse rx="27.1" ry="23.2" transform="rotate(2.9)" fill="url(#gB2)" stroke="#0c0e26" stroke-width="1.9"/>
<ellipse cx="2.3" cy="0.5" rx="6.8" ry="7.2" fill="#4a80d2"/>
<ellipse cx="-4.2" cy="-3" rx="3.1" ry="7.5" transform="rotate(-12)" fill="#b4d6fb" opacity=".55"/>
</g>
<g transform="translate(944.5 675.8)">
<ellipse rx="15.8" ry="13.2" transform="rotate(-98.5)" fill="url(#gB2)" stroke="#0c0e26" stroke-width="1.9"/>
<ellipse cx="1.3" cy="0.3" rx="3.9" ry="4.1" fill="#4a80d2"/>
<ellipse cx="-2.4" cy="-1.7" rx="1.8" ry="4.3" transform="rotate(-12)" fill="#b4d6fb" opacity=".55"/>
</g>
<g transform="translate(800 618.5)">
<ellipse rx="23.7" ry="21.2" transform="rotate(-228)" fill="url(#gB2)" stroke="#0c0e26" stroke-width="1.9"/>
<ellipse cx="2.1" cy="0.4" rx="6.1" ry="6.4" fill="#4a80d2"/>
<ellipse cx="-3.7" cy="-2.6" rx="2.8" ry="6.7" transform="rotate(-12)" fill="#b4d6fb" opacity=".55"/>
</g>
<g transform="translate(928 777)">
<ellipse rx="16.9" ry="14.2" transform="rotate(-62.6)" fill="url(#gB2)" stroke="#0c0e26" stroke-width="1.9"/>
<ellipse cx="1.4" cy="0.3" rx="4.2" ry="4.5" fill="#4a80d2"/>
<ellipse cx="-2.6" cy="-1.8" rx="1.9" ry="4.7" transform="rotate(-12)" fill="#b4d6fb" opacity=".55"/>
</g>
<g transform="translate(843.6 617)">
<ellipse rx="27.1" ry="25.4" transform="rotate(-188)" fill="url(#gB2)" stroke="#0c0e26" stroke-width="1.9"/>
<ellipse cx="2.5" cy="0.5" rx="7.1" ry="7.5" fill="#4a80d2"/>
<ellipse cx="-4.2" cy="-3.1" rx="3.2" ry="7.9" transform="rotate(-12)" fill="#b4d6fb" opacity=".55"/>
</g>
<g transform="translate(885.8 800)">
<ellipse rx="20.3" ry="18.1" transform="rotate(-34.1)" fill="url(#gB2)" stroke="#0c0e26" stroke-width="1.9"/>
<ellipse cx="1.8" cy="0.4" rx="5.2" ry="5.5" fill="#4a80d2"/>
<ellipse cx="-3.2" cy="-2.3" rx="2.4" ry="5.8" transform="rotate(-12)" fill="#b4d6fb" opacity=".55"/>
</g>
<g transform="translate(928 742)">
<ellipse rx="20.3" ry="17.9" transform="rotate(-74.6)" fill="url(#gB2)" stroke="#0c0e26" stroke-width="1.9"/>
<ellipse cx="1.8" cy="0.4" rx="5.2" ry="5.5" fill="#4a80d2"/>
<ellipse cx="-3.2" cy="-2.2" rx="2.3" ry="5.7" transform="rotate(-12)" fill="#b4d6fb" opacity=".55"/>
</g>
<g transform="translate(912.9 662)">
<ellipse rx="22.6" ry="20.8" transform="rotate(-108.9)" fill="url(#gB2)" stroke="#0c0e26" stroke-width="1.9"/>
<ellipse cx="2.1" cy="0.4" rx="5.9" ry="6.2" fill="#4a80d2"/>
<ellipse cx="-3.5" cy="-2.5" rx="2.7" ry="6.5" transform="rotate(-12)" fill="#b4d6fb" opacity=".55"/>
</g>
<g transform="translate(822.5 636.6)">
<ellipse rx="23.7" ry="22.6" transform="rotate(-218)" fill="url(#gB2)" stroke="#0c0e26" stroke-width="1.9"/>
<ellipse cx="2.3" cy="0.5" rx="6.3" ry="6.6" fill="#4a80d2"/>
<ellipse cx="-3.7" cy="-2.7" rx="2.8" ry="6.9" transform="rotate(-12)" fill="#b4d6fb" opacity=".55"/>
</g>
<g transform="translate(925 703)">
<ellipse rx="26" ry="23.6" transform="rotate(-89.6)" fill="url(#gB2)" stroke="#0c0e26" stroke-width="1.9"/>
<ellipse cx="2.4" cy="0.5" rx="6.7" ry="7.1" fill="#4a80d2"/>
<ellipse cx="-4" cy="-2.9" rx="3" ry="7.4" transform="rotate(-12)" fill="#b4d6fb" opacity=".55"/>
</g>
<g transform="translate(906.8 767)">
<ellipse rx="18.1" ry="16.4" transform="rotate(-58.3)" fill="url(#gB2)" stroke="#0c0e26" stroke-width="1.9"/>
<ellipse cx="1.6" cy="0.3" rx="4.7" ry="4.9" fill="#4a80d2"/>
<ellipse cx="-2.8" cy="-2" rx="2.1" ry="5.2" transform="rotate(-12)" fill="#b4d6fb" opacity=".55"/>
</g>
<g transform="translate(798.4 653)">
<ellipse rx="20.3" ry="19" transform="rotate(-242.9)" fill="url(#gB2)" stroke="#0c0e26" stroke-width="1.9"/>
<ellipse cx="1.9" cy="0.4" rx="5.4" ry="5.6" fill="#4a80d2"/>
<ellipse cx="-3.2" cy="-2.3" rx="2.4" ry="5.9" transform="rotate(-12)" fill="#b4d6fb" opacity=".55"/>
</g>
<g transform="translate(824 789)">
<ellipse rx="20.3" ry="18.8" transform="rotate(29)" fill="url(#gB2)" stroke="#0c0e26" stroke-width="1.9"/>
<ellipse cx="1.9" cy="0.4" rx="5.3" ry="5.6" fill="#4a80d2"/>
<ellipse cx="-3.2" cy="-2.3" rx="2.4" ry="5.8" transform="rotate(-12)" fill="#b4d6fb" opacity=".55"/>
</g>
<g transform="translate(864.7 647)">
<ellipse rx="29.4" ry="29.4" fill="url(#gB2)" stroke="#0c0e26" stroke-width="1.9"/>
<ellipse cx="2.9" cy="0.6" rx="8" ry="8.4" fill="#4a80d2"/>
<ellipse cx="-4.7" cy="-3.4" rx="3.6" ry="8.8" transform="rotate(-12)" fill="#b4d6fb" opacity=".55"/>
</g>
<g transform="translate(858.6 777)">
<ellipse rx="20.3" ry="19.3" transform="rotate(-12)" fill="url(#gB2)" stroke="#0c0e26" stroke-width="1.9"/>
<ellipse cx="1.9" cy="0.4" rx="5.4" ry="5.7" fill="#4a80d2"/>
<ellipse cx="-3.2" cy="-2.3" rx="2.4" ry="5.9" transform="rotate(-12)" fill="#b4d6fb" opacity=".55"/>
</g>
<g transform="translate(879.7 753)">
<ellipse rx="24.9" ry="24" transform="rotate(-47.2)" fill="url(#gB2)" stroke="#0c0e26" stroke-width="1.9"/>
<ellipse cx="2.4" cy="0.5" rx="6.6" ry="7" fill="#4a80d2"/>
<ellipse cx="-3.9" cy="-2.8" rx="3" ry="7.3" transform="rotate(-12)" fill="#b4d6fb" opacity=".55"/>
</g>
<g transform="translate(896 721)">
<ellipse rx="19.2" ry="18.5" transform="rotate(-77.5)" fill="url(#gB2)" stroke="#0c0e26" stroke-width="1.9"/>
<ellipse cx="1.9" cy="0.4" rx="5.1" ry="5.4" fill="#4a80d2"/>
<ellipse cx="-3" cy="-2.2" rx="2.3" ry="5.6" transform="rotate(-12)" fill="#b4d6fb" opacity=".55"/>
</g>
<g transform="translate(884 681.8)">
<ellipse rx="27.1" ry="27.1" fill="url(#gB2)" stroke="#0c0e26" stroke-width="1.9"/>
<ellipse cx="2.7" cy="0.5" rx="7.4" ry="7.7" fill="#4a80d2"/>
<ellipse cx="-4.3" cy="-3.1" rx="3.3" ry="8.1" transform="rotate(-12)" fill="#b4d6fb" opacity=".55"/>
</g>
<g transform="translate(839 665)">
<ellipse rx="26" ry="26" fill="url(#gB2)" stroke="#0c0e26" stroke-width="1.9"/>
<ellipse cx="2.6" cy="0.5" rx="7.1" ry="7.4" fill="#4a80d2"/>
<ellipse cx="-4.1" cy="-3" rx="3.2" ry="7.8" transform="rotate(-12)" fill="#b4d6fb" opacity=".55"/>
</g>
<g transform="translate(900.8 626)">
<ellipse rx="26" ry="23.5" transform="rotate(-128.9)" fill="url(#gB2)" stroke="#0c0e26" stroke-width="1.9"/>
<ellipse cx="2.4" cy="0.5" rx="6.7" ry="7.1" fill="#4a80d2"/>
<ellipse cx="-4" cy="-2.9" rx="3" ry="7.4" transform="rotate(-12)" fill="#b4d6fb" opacity=".55"/>
</g>
<g transform="translate(819.5 701)">
<ellipse rx="29.4" ry="29.4" fill="url(#gB2)" stroke="#0c0e26" stroke-width="1.9"/>
<ellipse cx="2.9" cy="0.6" rx="8" ry="8.4" fill="#4a80d2"/>
<ellipse cx="-4.7" cy="-3.4" rx="3.6" ry="8.8" transform="rotate(-12)" fill="#b4d6fb" opacity=".55"/>
</g>
<g transform="translate(858.6 709)">
<ellipse rx="23.7" ry="23.7" fill="url(#gB2)" stroke="#0c0e26" stroke-width="1.9"/>
<ellipse cx="2.4" cy="0.5" rx="6.5" ry="6.8" fill="#4a80d2"/>
<ellipse cx="-3.8" cy="-2.8" rx="2.9" ry="7.1" transform="rotate(-12)" fill="#b4d6fb" opacity=".55"/>
</g>
<g transform="translate(762 633.6)">
<ellipse rx="21.5" ry="21.5" fill="url(#gP2)" stroke="#0c0e26" stroke-width="1.9"/>
<ellipse cx="2.1" cy="0.4" rx="6.2" ry="6.5" fill="#7646ba"/>
<ellipse cx="-3.7" cy="-2.7" rx="2.8" ry="6.8" transform="rotate(-12)" fill="#cdb0f2" opacity=".55"/>
</g>
<g transform="translate(774 866)">
<ellipse rx="23.7" ry="23.7" fill="url(#gP2)" stroke="#0c0e26" stroke-width="1.9"/>
<ellipse cx="2.4" cy="0.5" rx="6.9" ry="7.2" fill="#7646ba"/>
<ellipse cx="-4.1" cy="-3" rx="3.1" ry="7.5" transform="rotate(-12)" fill="#cdb0f2" opacity=".55"/>
</g>
<g transform="translate(641.7 833)">
<ellipse rx="20.3" ry="20.3" fill="url(#gP2)" stroke="#0c0e26" stroke-width="1.9"/>
<ellipse cx="2" cy="0.4" rx="5.9" ry="6.2" fill="#7646ba"/>
<ellipse cx="-3.6" cy="-2.5" rx="2.6" ry="6.5" transform="rotate(-12)" fill="#cdb0f2" opacity=".55"/>
</g>
<g transform="translate(688.4 660.7)">
<ellipse rx="22.6" ry="22.6" fill="url(#gP2)" stroke="#0c0e26" stroke-width="1.9"/>
<ellipse cx="2.3" cy="0.5" rx="6.5" ry="6.9" fill="#7646ba"/>
<ellipse cx="-3.9" cy="-2.8" rx="2.9" ry="7.2" transform="rotate(-12)" fill="#cdb0f2" opacity=".55"/>
</g>
<g transform="translate(753 668)">
<ellipse rx="24.9" ry="24.9" fill="url(#gP2)" stroke="#0c0e26" stroke-width="1.9"/>
<ellipse cx="2.5" cy="0.5" rx="7.2" ry="7.5" fill="#7646ba"/>
<ellipse cx="-4.3" cy="-3.1" rx="3.2" ry="7.9" transform="rotate(-12)" fill="#cdb0f2" opacity=".55"/>
</g>
<g transform="translate(680.8 845)">
<ellipse rx="27.1" ry="27.1" fill="url(#gP2)" stroke="#0c0e26" stroke-width="1.9"/>
<ellipse cx="2.7" cy="0.5" rx="7.8" ry="8.2" fill="#7646ba"/>
<ellipse cx="-4.7" cy="-3.4" rx="3.5" ry="8.6" transform="rotate(-12)" fill="#cdb0f2" opacity=".55"/>
</g>
<g transform="translate(777 825.5)">
<ellipse rx="24.9" ry="24.9" fill="url(#gP2)" stroke="#0c0e26" stroke-width="1.9"/>
<ellipse cx="2.5" cy="0.5" rx="7.2" ry="7.5" fill="#7646ba"/>
<ellipse cx="-4.3" cy="-3.1" rx="3.2" ry="7.9" transform="rotate(-12)" fill="#cdb0f2" opacity=".55"/>
</g>
<g transform="translate(714 846.6)">
<ellipse rx="22.6" ry="22.6" fill="url(#gP2)" stroke="#0c0e26" stroke-width="1.9"/>
<ellipse cx="2.3" cy="0.5" rx="6.5" ry="6.9" fill="#7646ba"/>
<ellipse cx="-3.9" cy="-2.8" rx="2.9" ry="7.2" transform="rotate(-12)" fill="#cdb0f2" opacity=".55"/>
</g>
<g transform="translate(720 843.6)">
<ellipse rx="22.6" ry="22.6" fill="url(#gP2)" stroke="#0c0e26" stroke-width="1.9"/>
<ellipse cx="2.3" cy="0.5" rx="6.5" ry="6.9" fill="#7646ba"/>
<ellipse cx="-3.9" cy="-2.8" rx="2.9" ry="7.2" transform="rotate(-12)" fill="#cdb0f2" opacity=".55"/>
</g>
<g transform="translate(702 681.8)">
<ellipse rx="20.3" ry="20.3" fill="url(#gP2)" stroke="#0c0e26" stroke-width="1.9"/>
<ellipse cx="2" cy="0.4" rx="5.9" ry="6.2" fill="#7646ba"/>
<ellipse cx="-3.6" cy="-2.5" rx="2.6" ry="6.5" transform="rotate(-12)" fill="#cdb0f2" opacity=".55"/>
</g>
<g transform="translate(795 769)">
<ellipse rx="24.9" ry="24.9" fill="url(#gP2)" stroke="#0c0e26" stroke-width="1.9"/>
<ellipse cx="2.5" cy="0.5" rx="7.2" ry="7.5" fill="#7646ba"/>
<ellipse cx="-4.3" cy="-3.1" rx="3.2" ry="7.9" transform="rotate(-12)" fill="#cdb0f2" opacity=".55"/>
</g>
<g transform="translate(658 801.4)">
<ellipse rx="23.7" ry="23.7" fill="url(#gP2)" stroke="#0c0e26" stroke-width="1.9"/>
<ellipse cx="2.4" cy="0.5" rx="6.9" ry="7.2" fill="#7646ba"/>
<ellipse cx="-4.1" cy="-3" rx="3.1" ry="7.5" transform="rotate(-12)" fill="#cdb0f2" opacity=".55"/>
</g>
<g transform="translate(792 778.8)">
<ellipse rx="28.2" ry="28.2" fill="url(#gP2)" stroke="#0c0e26" stroke-width="1.9"/>
<ellipse cx="2.8" cy="0.6" rx="8.2" ry="8.6" fill="#7646ba"/>
<ellipse cx="-4.9" cy="-3.5" rx="3.7" ry="9" transform="rotate(-12)" fill="#cdb0f2" opacity=".55"/>
</g>
<g transform="translate(768 706)">
<ellipse rx="24.9" ry="24.9" fill="url(#gP2)" stroke="#0c0e26" stroke-width="1.9"/>
<ellipse cx="2.5" cy="0.5" rx="7.2" ry="7.5" fill="#7646ba"/>
<ellipse cx="-4.3" cy="-3.1" rx="3.2" ry="7.9" transform="rotate(-12)" fill="#cdb0f2" opacity=".55"/>
</g>
<g transform="translate(656.7 730)">
<ellipse rx="20.3" ry="20.3" fill="url(#gP2)" stroke="#0c0e26" stroke-width="1.9"/>
<ellipse cx="2" cy="0.4" rx="5.9" ry="6.2" fill="#7646ba"/>
<ellipse cx="-3.6" cy="-2.5" rx="2.6" ry="6.5" transform="rotate(-12)" fill="#cdb0f2" opacity=".55"/>
</g>
<g transform="translate(759 706)">
<ellipse rx="22.6" ry="22.6" fill="url(#gP2)" stroke="#0c0e26" stroke-width="1.9"/>
<ellipse cx="2.3" cy="0.5" rx="6.5" ry="6.9" fill="#7646ba"/>
<ellipse cx="-3.9" cy="-2.8" rx="2.9" ry="7.2" transform="rotate(-12)" fill="#cdb0f2" opacity=".55"/>
</g>
<g transform="translate(686.9 718)">
<ellipse rx="24.9" ry="24.9" fill="url(#gP2)" stroke="#0c0e26" stroke-width="1.9"/>
<ellipse cx="2.5" cy="0.5" rx="7.2" ry="7.5" fill="#7646ba"/>
<ellipse cx="-4.3" cy="-3.1" rx="3.2" ry="7.9" transform="rotate(-12)" fill="#cdb0f2" opacity=".55"/>
</g>
<g transform="translate(765 745)">
<ellipse rx="20.3" ry="20.3" fill="url(#gP2)" stroke="#0c0e26" stroke-width="1.9"/>
<ellipse cx="2" cy="0.4" rx="5.9" ry="6.2" fill="#7646ba"/>
<ellipse cx="-3.6" cy="-2.5" rx="2.6" ry="6.5" transform="rotate(-12)" fill="#cdb0f2" opacity=".55"/>
</g>
<g transform="translate(700 800)">
<ellipse rx="20.3" ry="20.3" fill="url(#gP2)" stroke="#0c0e26" stroke-width="1.9"/>
<ellipse cx="2" cy="0.4" rx="5.9" ry="6.2" fill="#7646ba"/>
<ellipse cx="-3.6" cy="-2.5" rx="2.6" ry="6.5" transform="rotate(-12)" fill="#cdb0f2" opacity=".55"/>
</g>
<g transform="translate(741 798)">
<ellipse rx="24.9" ry="24.9" fill="url(#gP2)" stroke="#0c0e26" stroke-width="1.9"/>
<ellipse cx="2.5" cy="0.5" rx="7.2" ry="7.5" fill="#7646ba"/>
<ellipse cx="-4.3" cy="-3.1" rx="3.2" ry="7.9" transform="rotate(-12)" fill="#cdb0f2" opacity=".55"/>
</g>
<g transform="translate(680.8 768)">
<ellipse rx="24.9" ry="24.9" fill="url(#gP2)" stroke="#0c0e26" stroke-width="1.9"/>
<ellipse cx="2.5" cy="0.5" rx="7.2" ry="7.5" fill="#7646ba"/>
<ellipse cx="-4.3" cy="-3.1" rx="3.2" ry="7.9" transform="rotate(-12)" fill="#cdb0f2" opacity=".55"/>
</g>
<g transform="translate(749 743)">
<ellipse rx="27.1" ry="27.1" fill="url(#gP2)" stroke="#0c0e26" stroke-width="1.9"/>
<ellipse cx="2.7" cy="0.5" rx="7.8" ry="8.2" fill="#7646ba"/>
<ellipse cx="-4.7" cy="-3.4" rx="3.5" ry="8.6" transform="rotate(-12)" fill="#cdb0f2" opacity=".55"/>
</g>
<g transform="translate(714 742)">
<ellipse rx="22.6" ry="22.6" fill="url(#gP2)" stroke="#0c0e26" stroke-width="1.9"/>
<ellipse cx="2.3" cy="0.5" rx="6.5" ry="6.9" fill="#7646ba"/>
<ellipse cx="-3.9" cy="-2.8" rx="2.9" ry="7.2" transform="rotate(-12)" fill="#cdb0f2" opacity=".55"/>
</g>
<g transform="translate(643 769.8)">
<ellipse rx="22.6" ry="22.6" fill="url(#gB2)" stroke="#0c0e26" stroke-width="1.9"/>
<ellipse cx="2.3" cy="0.5" rx="6.1" ry="6.5" fill="#4a80d2"/>
<ellipse cx="-3.6" cy="-2.6" rx="2.8" ry="6.8" transform="rotate(-12)" fill="#b4d6fb" opacity=".55"/>
</g>
<g transform="translate(705 812)">
<ellipse rx="29.4" ry="24.9" fill="url(#gB2)" stroke="#0c0e26" stroke-width="1.9"/>
<ellipse cx="2.5" cy="0.5" rx="7.4" ry="7.7" fill="#4a80d2"/>
<ellipse cx="-4.5" cy="-3.2" rx="3.3" ry="8.1" transform="rotate(-12)" fill="#b4d6fb" opacity=".55"/>
</g>
<g transform="translate(725 706)">
<ellipse rx="23.2" ry="23.2" fill="url(#gO2)" stroke="#0c0e26" stroke-width="1.9"/>
<ellipse cx="2.3" cy="0.5" rx="6.3" ry="6.6" fill="#d8533a"/>
<ellipse cx="-3.7" cy="-2.7" rx="2.8" ry="6.9" transform="rotate(-12)" fill="#fbb58e" opacity=".55"/>
</g>
<g transform="translate(677.8 633.6)">
<path d="M11.6 22.8C10.8 23.1 9.9 23.2 9 23.3C8.1 23.3 7.2 23.2 6.3 23C5.4 22.8 4.5 22.5 3.6 22C2.8 21.6 2 20.2 1.2 20.2C0.4 20.2 -0.3 21.7 -1 22.1C-1.8 22.6 -2.7 22.8 -3.5 23C-4.3 23.2 -5.2 23.2 -6.1 23.2C-6.9 23.1 -7.7 22.9 -8.5 22.7C-9.3 22.4 -10 22.2 -10.6 21.9C-11.3 21.5 -11.9 21.1 -12.5 20.5C-13 19.9 -13.4 19.3 -13.7 18.5C-14 17.7 -13.5 16.2 -14.1 15.8C-14.7 15.4 -16.2 16.2 -17.3 16.3C-18.3 16.3 -19.2 16.1 -20.1 15.9C-21 15.7 -21.8 15.3 -22.6 14.9C-23.3 14.5 -24 13.9 -24.5 13.4C-24.9 12.8 -25.2 12.2 -25.4 11.5C-25.5 10.8 -25.5 10 -25.4 9.3C-25.2 8.5 -24.9 7.7 -24.4 6.9C-23.8 6.1 -21.8 5.1 -21.9 4.5C-22.1 3.9 -24.4 3.8 -25.4 3.3C-26.4 2.9 -27.1 2.3 -27.8 1.6C-28.4 1 -28.9 0.3 -29.2 -0.4C-29.5 -1.1 -29.8 -1.6 -29.7 -2.5C-29.5 -3.5 -28.9 -5 -28.2 -6C-27.6 -7.1 -26.6 -8.1 -25.6 -9C-24.6 -9.8 -23.5 -10.6 -22.2 -11.1C-20.9 -11.7 -18.7 -11.4 -18 -12.2C-17.2 -13 -18.1 -14.8 -17.7 -15.9C-17.4 -17 -16.7 -18.1 -16 -18.9C-15.2 -19.8 -14.2 -20.6 -13.2 -21.2C-12.2 -21.8 -10.8 -22.2 -9.8 -22.6C-8.8 -23 -8.2 -23.3 -7.3 -23.5C-6.5 -23.7 -5.5 -23.7 -4.6 -23.6C-3.7 -23.5 -2.8 -23.2 -1.9 -22.7C-1.1 -22.1 -0.3 -20.2 0.5 -20.2C1.4 -20.3 2.2 -22.2 3.1 -23C4.1 -23.7 5.1 -24.3 6.2 -24.7C7.2 -25.2 8.4 -25.5 9.5 -25.6C10.5 -25.7 11.8 -25.8 12.6 -25.5C13.5 -25.2 13.9 -24.5 14.4 -23.8C14.8 -23.1 15.2 -22.3 15.4 -21.4C15.7 -20.5 15.8 -19.5 15.7 -18.5C15.7 -17.4 14.6 -15.5 15 -15.1C15.5 -14.6 17.5 -15.8 18.5 -15.8C19.5 -15.9 20.3 -15.7 21.1 -15.4C21.8 -15.2 22.4 -14.7 22.9 -14.3C23.4 -13.8 23.7 -13.3 24.1 -12.6C24.4 -12 24.8 -11.1 25 -10.3C25.2 -9.5 25.2 -8.6 25.1 -7.8C25 -6.9 24.8 -6.1 24.3 -5.2C23.8 -4.4 22.2 -3.5 22.3 -2.8C22.4 -2 24.3 -1.6 25 -0.9C25.7 -0.2 26.1 0.6 26.5 1.4C26.9 2.2 27.1 3 27.2 3.9C27.3 4.7 27.2 5.5 27 6.3C26.7 7.1 26.3 8.1 25.7 8.8C25.2 9.6 24.4 10.3 23.6 10.9C22.8 11.5 21.9 12.1 20.8 12.4C19.7 12.8 17.8 12.4 17.2 13C16.7 13.6 17.4 15.3 17.3 16.3C17.1 17.3 16.6 18.2 16.1 19C15.6 19.8 14.9 20.6 14.2 21.2C13.4 21.9 12.5 22.5 11.6 22.8Z" fill="#fbf59c" stroke="#0c0e26" stroke-width="1.9" stroke-linejoin="round"/>
<ellipse cx="0" cy="0" rx="10.4" ry="10.9" fill="#bdbb55"/>
<ellipse cx="-5.7" cy="-3.1" rx="3.6" ry="8.3" transform="rotate(-15)" fill="#d6d47e" opacity=".6"/>
</g>
<g transform="translate(634 713)">
<path d="M23.3 -10.4C23.6 -9.9 24.2 -9.2 24.4 -8.5C24.6 -7.8 24.6 -7.1 24.5 -6.3C24.4 -5.6 24.1 -4.8 23.5 -4.1C22.9 -3.3 20.7 -2.5 20.9 -1.9C21 -1.2 23.4 -0.8 24.4 -0.2C25.4 0.4 26.2 1.2 26.9 2C27.5 2.7 28.1 3.6 28.4 4.4C28.7 5.2 29.1 5.9 28.8 6.9C28.4 8 27.3 9.6 26.3 10.7C25.2 11.8 23.8 12.8 22.4 13.6C21 14.3 19.4 14.9 17.8 15.1C16.2 15.4 13.8 14.4 12.7 15.1C11.6 15.7 12 18 11.2 19.2C10.4 20.4 9.3 21.3 8.1 22C6.9 22.7 5.5 23.3 4.1 23.6C2.7 23.9 0.6 23.8 -0.3 23.8C-1.2 23.8 -1.1 23.8 -1.4 23.6C-1.8 23.4 -2.1 23.2 -2.4 22.8C-2.7 22.4 -3.1 21.9 -3.3 21.2C-3.5 20.5 -3.4 18.6 -3.8 18.6C-4.1 18.6 -4.8 20.4 -5.3 21C-5.8 21.7 -6.3 22.1 -6.8 22.6C-7.3 23 -7.8 23.3 -8.3 23.4C-8.7 23.6 -8.9 23.8 -9.6 23.6C-10.2 23.5 -11.2 23 -11.9 22.5C-12.5 22 -13.2 21.3 -13.6 20.5C-14 19.8 -14.4 18.9 -14.5 17.8C-14.5 16.7 -13.3 14.6 -13.9 14.2C-14.5 13.7 -16.8 15.1 -18 15.2C-19.3 15.3 -20.5 15.2 -21.5 15C-22.6 14.8 -23.6 14.4 -24.4 13.9C-25.2 13.4 -25.9 13 -26.4 12.1C-26.9 11.2 -27.3 9.8 -27.3 8.6C-27.4 7.4 -27.2 6.1 -26.8 4.9C-26.3 3.7 -25.7 2.5 -24.7 1.5C-23.8 0.5 -21.1 -0.3 -21 -1.3C-20.9 -2.3 -23.4 -3.3 -24.1 -4.5C-24.9 -5.6 -25.2 -6.8 -25.3 -8C-25.5 -9.1 -25.3 -10.4 -25 -11.5C-24.7 -12.6 -23.8 -13.8 -23.3 -14.5C-22.8 -15.3 -22.4 -15.6 -21.8 -15.9C-21.1 -16.3 -20.3 -16.5 -19.4 -16.6C-18.5 -16.7 -17.6 -16.7 -16.5 -16.5C-15.4 -16.2 -13.3 -14.6 -12.8 -15C-12.3 -15.3 -13.5 -17.6 -13.6 -18.7C-13.6 -19.8 -13.4 -20.7 -13.1 -21.5C-12.8 -22.4 -12.4 -23.1 -11.9 -23.7C-11.4 -24.3 -11.1 -24.8 -10.1 -25C-9.1 -25.3 -7.4 -25.6 -6.1 -25.5C-4.8 -25.4 -3.3 -25 -2.1 -24.5C-0.8 -24 0.4 -23.3 1.5 -22.3C2.5 -21.3 3 -18.8 4.1 -18.5C5.2 -18.3 6.7 -20.5 8 -21C9.3 -21.5 10.8 -21.6 12.1 -21.6C13.4 -21.6 14.7 -21.3 15.9 -20.9C17.1 -20.4 18.5 -19.5 19.1 -19C19.7 -18.4 19.5 -18.2 19.6 -17.7C19.6 -17.2 19.5 -16.5 19.3 -15.9C19.2 -15.3 18.9 -14.6 18.5 -13.8C18 -13.1 16.6 -11.7 16.8 -11.4C16.9 -11.1 18.8 -12 19.6 -12.1C20.4 -12.2 21 -12.1 21.5 -11.9C22 -11.8 22.4 -11.6 22.7 -11.3C23 -11.1 23 -10.9 23.3 -10.4Z" fill="#fbf59c" stroke="#0c0e26" stroke-width="1.9" stroke-linejoin="round"/>
<ellipse cx="0" cy="0" rx="9.7" ry="10.2" fill="#bdbb55"/>
<ellipse cx="-5.3" cy="-2.9" rx="3.4" ry="7.7" transform="rotate(-15)" fill="#d6d47e" opacity=".6"/>
</g>
<g transform="translate(790.9 681.8)">
<path d="M30.2 -6.2C30.5 -5.1 30.3 -4.5 30.1 -3.6C29.9 -2.7 29.5 -1.8 29 -1C28.5 -0.1 27.8 0.7 27 1.4C26.1 2.1 23.9 2.5 23.7 3.3C23.6 4 25.5 5 26 5.9C26.6 6.8 26.8 7.7 26.9 8.6C27 9.4 26.9 10.3 26.7 11.2C26.5 12 25.9 12.9 25.6 13.5C25.3 14 25.1 14.1 24.8 14.3C24.4 14.6 23.9 14.7 23.3 14.8C22.7 14.9 22.1 14.9 21.3 14.8C20.4 14.6 18.6 13.6 18.4 13.9C18.1 14.2 19.5 15.7 19.9 16.4C20.3 17.2 20.5 17.9 20.6 18.5C20.7 19.1 20.7 19.7 20.6 20.2C20.5 20.6 20.7 20.9 20 21.3C19.3 21.8 17.6 22.6 16.3 23C15 23.4 13.5 23.5 12.1 23.5C10.8 23.5 9.3 23.4 8 23C6.6 22.7 5.2 21.2 4 21.3C2.9 21.4 2.1 23.2 0.9 23.8C-0.2 24.5 -1.5 24.8 -2.7 25C-4 25.1 -5.3 25.1 -6.5 25C-7.8 24.8 -9.2 24.3 -10.1 23.9C-11.1 23.6 -11.6 23.3 -12.3 22.9C-12.9 22.4 -13.5 21.9 -14 21.2C-14.5 20.6 -15 19.9 -15.3 19.1C-15.5 18.3 -15.1 16.8 -15.6 16.4C-16.2 15.9 -17.8 16.6 -18.7 16.5C-19.7 16.4 -20.5 16.1 -21.3 15.8C-22.1 15.4 -22.9 15 -23.5 14.5C-24.1 14 -24.6 13.4 -25.1 12.8C-25.6 12.1 -26.3 11.2 -26.6 10.4C-26.9 9.5 -27.1 8.6 -27.1 7.6C-27 6.7 -26.9 5.7 -26.4 4.7C-25.8 3.8 -23.7 2.8 -23.9 2C-24.1 1.1 -26.4 0.5 -27.3 -0.3C-28.3 -1.2 -29 -2.2 -29.6 -3.2C-30.1 -4.2 -30.6 -5.3 -30.8 -6.3C-31 -7.4 -31 -8.7 -30.8 -9.5C-30.5 -10.3 -30 -10.7 -29.3 -11.2C-28.7 -11.6 -27.8 -12 -26.9 -12.3C-25.9 -12.6 -24.9 -12.8 -23.7 -12.8C-22.5 -12.9 -20 -12 -19.6 -12.4C-19.2 -12.9 -21 -14.6 -21.3 -15.6C-21.6 -16.6 -21.6 -17.4 -21.5 -18.2C-21.4 -18.9 -21.1 -19.7 -20.8 -20.2C-20.4 -20.8 -20 -21.2 -19.3 -21.7C-18.6 -22.1 -17.5 -22.7 -16.5 -23C-15.5 -23.4 -14.4 -23.5 -13.3 -23.5C-12.2 -23.5 -11 -23.3 -9.8 -22.9C-8.6 -22.4 -7.2 -20.6 -6.3 -20.8C-5.4 -21.1 -5.2 -23.3 -4.4 -24.3C-3.7 -25.2 -2.7 -25.9 -1.8 -26.5C-0.8 -27.1 0.2 -27.5 1.3 -27.7C2.3 -28 3.2 -28.1 4.5 -27.9C5.8 -27.8 7.6 -27.3 9 -26.6C10.3 -25.9 11.6 -25 12.7 -24C13.7 -22.9 14.7 -21.7 15.3 -20.4C15.9 -19 15.3 -16.7 16.3 -15.9C17.3 -15 19.8 -15.8 21.3 -15.4C22.8 -14.9 24.2 -14.1 25.4 -13.3C26.6 -12.4 27.7 -11.3 28.5 -10.1C29.3 -8.9 29.9 -7.3 30.2 -6.2Z" fill="#c9f2f8" stroke="#0c0e26" stroke-width="1.9" stroke-linejoin="round"/>
<ellipse cx="0" cy="0" rx="11.1" ry="11.6" fill="#7cc6c6"/>
<ellipse cx="-6.1" cy="-3.3" rx="3.9" ry="8.8" transform="rotate(-15)" fill="#a9dede" opacity=".6"/>
</g>
<g transform="translate(748 780)">
<path d="M-1.6 -29.2C-0.6 -29.4 -0.5 -29.1 0.1 -28.8C0.7 -28.5 1.2 -28 1.7 -27.4C2.2 -26.8 2.7 -26 3 -25C3.4 -24 3.4 -21.4 3.9 -21.3C4.4 -21.2 5.3 -23.7 6 -24.6C6.7 -25.5 7.4 -26 8.1 -26.5C8.8 -27 9.5 -27.3 10.1 -27.4C10.8 -27.5 10.9 -27.7 11.9 -27.3C12.9 -26.9 15 -26 16.2 -25C17.4 -24 18.5 -22.7 19.3 -21.4C20.1 -20 20.7 -18.5 20.8 -16.9C21 -15.3 19.3 -12.9 20.1 -11.8C20.9 -10.7 24 -11.2 25.6 -10.4C27.2 -9.7 28.5 -8.6 29.6 -7.4C30.7 -6.2 31.5 -4.8 32.1 -3.4C32.6 -2 32.9 0.2 32.9 1.1C32.8 2.1 32.5 1.9 32 2.3C31.6 2.7 30.9 3.1 30.1 3.4C29.4 3.7 28.5 3.9 27.4 4.1C26.3 4.3 23.6 4.1 23.5 4.5C23.4 4.8 25.9 5.6 26.7 6.2C27.5 6.7 28 7.3 28.4 7.7C28.7 8.2 28.9 8.7 29 9.2C29.1 9.6 29.1 9.6 28.7 10.3C28.4 11.1 27.7 12.6 26.9 13.6C26.1 14.5 25 15.4 23.8 16C22.6 16.7 21.3 17.2 19.8 17.4C18.3 17.5 15.8 16.3 14.8 17C13.9 17.7 14.7 20.2 14.3 21.6C13.8 23 13 24.3 12.1 25.4C11.2 26.5 10 27.5 8.8 28.3C7.6 29 5.8 29.6 4.8 29.8C3.8 30 3.4 29.9 2.8 29.6C2.1 29.3 1.4 28.8 0.8 28.2C0.2 27.5 -0.4 26.8 -0.9 25.7C-1.4 24.5 -1.6 21.5 -2.2 21.5C-2.7 21.5 -3.5 24.4 -4.3 25.5C-5 26.5 -5.8 27.2 -6.5 27.8C-7.3 28.4 -8.1 28.9 -8.8 29.1C-9.5 29.3 -9.9 29.6 -10.9 29.2C-11.9 28.7 -13.8 27.6 -14.9 26.5C-16 25.4 -17 24 -17.7 22.6C-18.4 21.3 -18.9 19.8 -19.1 18.2C-19.3 16.7 -18.1 14.4 -18.8 13.4C-19.5 12.4 -22.2 12.9 -23.5 12.3C-24.9 11.7 -25.9 10.7 -26.7 9.7C-27.5 8.7 -28.1 7.4 -28.5 6.2C-28.8 5 -28.8 3.3 -28.9 2.5C-29 1.6 -29.1 1.5 -29 1C-28.8 0.5 -28.6 0 -28.2 -0.5C-27.9 -0.9 -27.4 -1.4 -26.7 -1.8C-25.9 -2.2 -23.8 -2.4 -23.8 -2.8C-23.8 -3.3 -25.8 -3.9 -26.5 -4.5C-27.3 -5.1 -27.8 -5.7 -28.3 -6.3C-28.7 -6.9 -29.1 -7.6 -29.3 -8.2C-29.5 -8.8 -29.8 -9 -29.4 -9.9C-29.1 -10.8 -28.2 -12.4 -27.2 -13.5C-26.3 -14.5 -25.1 -15.5 -23.8 -16.2C-22.5 -16.9 -21 -17.5 -19.4 -17.7C-17.8 -17.9 -15.2 -16.7 -14.2 -17.4C-13.1 -18.2 -13.6 -20.7 -13 -22.1C-12.3 -23.5 -11.2 -24.7 -10.1 -25.7C-9 -26.7 -7.6 -27.5 -6.2 -28.1C-4.8 -28.7 -2.7 -29.1 -1.6 -29.2Z" fill="#c9f2f8" stroke="#0c0e26" stroke-width="1.9" stroke-linejoin="round"/>
<ellipse cx="0" cy="0" rx="11.1" ry="11.6" fill="#7cc6c6"/>
<ellipse cx="-6.1" cy="-3.3" rx="3.9" ry="8.8" transform="rotate(-15)" fill="#a9dede" opacity=".6"/>
</g>
<g transform="translate(747 852.6)">
<path d="M-25.1 13.5C-25.6 12.6 -25.9 12 -26.1 11.2C-26.3 10.4 -26.3 9.5 -26.2 8.7C-26 7.8 -25.8 6.9 -25.2 6.1C-24.7 5.2 -22.8 4.2 -22.9 3.5C-23.1 2.8 -25.3 2.4 -26.1 1.8C-27 1.1 -27.6 0.4 -28.1 -0.4C-28.7 -1.2 -29 -2 -29.2 -2.9C-29.4 -3.7 -29.4 -4.7 -29.3 -5.4C-29.2 -6 -29 -6.3 -28.6 -6.7C-28.3 -7.2 -27.7 -7.5 -27.1 -7.8C-26.4 -8.1 -25.7 -8.4 -24.7 -8.5C-23.8 -8.6 -21.4 -8.1 -21.2 -8.5C-21 -9 -23 -10.2 -23.6 -11C-24.3 -11.7 -24.6 -12.4 -24.9 -13.1C-25.1 -13.8 -25.2 -14.5 -25.2 -15C-25.2 -15.6 -25.4 -15.9 -24.7 -16.6C-24.1 -17.3 -22.6 -18.4 -21.3 -19.1C-20 -19.8 -18.5 -20.2 -17.1 -20.5C-15.6 -20.8 -14.1 -20.9 -12.6 -20.8C-11.1 -20.6 -9.3 -19.3 -8.1 -19.6C-6.9 -20 -6.5 -22 -5.5 -22.9C-4.5 -23.7 -3.2 -24.3 -1.9 -24.7C-0.7 -25.1 0.7 -25.3 2.1 -25.3C3.4 -25.3 5 -24.9 6.1 -24.7C7.1 -24.6 7.6 -24.6 8.3 -24.3C9 -24 9.7 -23.6 10.2 -23C10.8 -22.5 11.3 -21.9 11.6 -21C11.9 -20.2 11.4 -18.2 12 -17.9C12.7 -17.6 14.4 -19 15.5 -19.3C16.6 -19.6 17.7 -19.7 18.8 -19.7C19.8 -19.7 20.8 -19.6 21.7 -19.3C22.6 -19.1 23.5 -18.6 24.1 -18.2C24.6 -17.7 24.7 -17.3 24.9 -16.7C25 -16.1 24.9 -15.4 24.7 -14.7C24.5 -13.9 24.2 -13.1 23.5 -12.3C22.8 -11.4 20.5 -9.9 20.7 -9.5C21 -9 23.8 -9.8 25 -9.8C26.2 -9.8 27.2 -9.6 28.1 -9.3C28.9 -9.1 29.7 -8.7 30.2 -8.3C30.8 -7.9 31.1 -7.9 31.3 -6.9C31.5 -5.9 31.7 -3.7 31.4 -2.2C31.1 -0.7 30.5 0.8 29.6 2.2C28.8 3.5 27.7 4.9 26.3 5.9C24.9 6.9 22 7 21.4 8.2C20.8 9.4 22.7 11.4 22.7 12.9C22.8 14.5 22.3 16 21.7 17.3C21.1 18.7 20.2 20 19.1 21C18 22.1 16.1 23.2 15.2 23.7C14.3 24.2 14.3 24.1 13.8 24.1C13.2 24.2 12.6 24 11.9 23.8C11.2 23.5 10.5 23.2 9.8 22.5C9 21.8 7.8 19.7 7.4 19.8C7 20 7.4 22.4 7.3 23.4C7.1 24.5 6.8 25.3 6.5 26C6.2 26.7 5.8 27.3 5.4 27.7C4.9 28.2 4.9 28.6 3.9 28.6C2.9 28.7 0.8 28.5 -0.7 28C-2.2 27.6 -3.6 26.9 -4.9 26.1C-6.1 25.2 -7.3 24.2 -8.2 23C-9.1 21.8 -9.1 19.3 -10.2 18.8C-11.3 18.2 -13.5 19.7 -15 19.7C-16.4 19.7 -17.9 19.3 -19.2 18.7C-20.4 18.2 -21.6 17.4 -22.6 16.6C-23.6 15.7 -24.5 14.4 -25.1 13.5Z" fill="#c9f2f8" stroke="#0c0e26" stroke-width="1.9" stroke-linejoin="round"/>
<ellipse cx="0" cy="0" rx="10.7" ry="11.2" fill="#7cc6c6"/>
<ellipse cx="-5.9" cy="-3.2" rx="3.7" ry="8.6" transform="rotate(-15)" fill="#a9dede" opacity=".6"/>
</g>
<g transform="translate(848 742)">
<path d="M-5.1 -25.1C-4.3 -25.2 -3.2 -25.3 -2.3 -25.2C-1.4 -25 -0.4 -24.7 0.4 -24.2C1.3 -23.7 2.2 -23.2 2.9 -22.3C3.5 -21.5 3.8 -19.3 4.6 -19.1C5.4 -19 6.6 -20.9 7.7 -21.4C8.7 -22 9.8 -22.3 10.8 -22.4C11.9 -22.6 12.9 -22.6 13.9 -22.5C14.9 -22.3 15.7 -22 16.6 -21.5C17.5 -21 18.6 -20.2 19.3 -19.3C20 -18.4 20.6 -17.4 20.9 -16.3C21.2 -15.2 21.4 -14 21.2 -12.7C20.9 -11.5 19 -9.6 19.5 -8.7C20 -7.9 22.8 -8.2 24.2 -7.7C25.6 -7.1 26.7 -6.3 27.7 -5.4C28.6 -4.5 29.4 -3.4 29.9 -2.4C30.5 -1.3 30.8 0.2 30.8 1.1C30.8 1.9 30.6 2.2 30.1 2.7C29.7 3.2 29.1 3.7 28.3 4.1C27.5 4.5 26.6 4.9 25.4 5.1C24.1 5.3 21 5 20.9 5.4C20.7 5.9 23.6 7.1 24.5 7.9C25.4 8.6 26 9.4 26.4 10.1C26.9 10.9 27.1 11.6 27.2 12.2C27.3 12.9 27.4 13.2 26.8 14C26.2 14.7 24.8 16.1 23.5 16.9C22.3 17.6 20.7 18.2 19.2 18.5C17.7 18.9 16.1 19.1 14.5 18.9C12.9 18.7 10.7 17.1 9.6 17.6C8.4 18 8.5 20.5 7.6 21.6C6.7 22.6 5.5 23.4 4.3 24C3.1 24.6 1.7 24.9 0.4 25.1C-1 25.2 -2.6 25 -3.7 24.9C-4.9 24.7 -5.6 24.7 -6.4 24.3C-7.2 24 -8 23.5 -8.7 22.9C-9.3 22.2 -10 21.5 -10.4 20.5C-10.7 19.5 -10.2 17.3 -10.9 16.9C-11.6 16.6 -13.5 18.2 -14.7 18.5C-15.9 18.8 -17.1 18.8 -18.3 18.8C-19.4 18.7 -20.5 18.5 -21.4 18.1C-22.4 17.8 -23.4 17.1 -23.9 16.6C-24.4 16.1 -24.4 15.8 -24.3 15.3C-24.3 14.7 -24.2 14.1 -23.8 13.4C-23.5 12.8 -23.1 12.1 -22.3 11.3C-21.6 10.5 -19.3 9.1 -19.5 8.7C-19.6 8.4 -22.3 9.2 -23.4 9.3C-24.5 9.3 -25.4 9.2 -26.1 9C-26.9 8.8 -27.5 8.6 -28 8.3C-28.4 8 -28.6 8 -28.8 7.2C-29.1 6.3 -29.4 4.6 -29.3 3.4C-29.2 2.1 -28.8 0.8 -28.1 -0.4C-27.5 -1.6 -26.6 -2.7 -25.4 -3.6C-24.2 -4.5 -21.1 -4.7 -20.8 -5.8C-20.4 -6.8 -22.8 -8.6 -23.3 -10C-23.8 -11.3 -23.9 -12.8 -23.8 -14.2C-23.6 -15.5 -23.2 -16.9 -22.6 -18.1C-22 -19.3 -20.7 -20.6 -20 -21.3C-19.2 -21.9 -18.6 -21.7 -17.9 -21.8C-17.1 -21.8 -16.2 -21.6 -15.3 -21.4C-14.3 -21.1 -13.4 -20.7 -12.4 -20.1C-11.4 -19.5 -9.8 -17.5 -9.3 -17.7C-8.8 -17.9 -9.4 -20.2 -9.3 -21.2C-9.1 -22.1 -8.7 -22.8 -8.3 -23.4C-7.9 -23.9 -7.4 -24.4 -6.9 -24.7C-6.3 -25 -5.9 -25 -5.1 -25.1Z" fill="#fbf59c" stroke="#0c0e26" stroke-width="1.9" stroke-linejoin="round"/>
<ellipse cx="0" cy="0" rx="10" ry="10.5" fill="#bdbb55"/>
<ellipse cx="-5.5" cy="-3" rx="3.5" ry="8" transform="rotate(-15)" fill="#d6d47e" opacity=".6"/>
</g>
<g transform="translate(773.7 522)">
<ellipse rx="15" ry="15" fill="url(#gE)" stroke="#0c0e26" stroke-width="1.9"/>
<circle r="8.2" fill="#3c6638"/>
<ellipse cx="-4.2" cy="-3" rx="2.4" ry="5.4" transform="rotate(-25)" fill="#5a8453" opacity=".45"/>
</g>
<g transform="translate(885 536)">
<ellipse rx="14.5" ry="14.5" fill="url(#gY2)" stroke="#0c0e26" stroke-width="1.9"/>
<circle r="7.2" fill="#d4a236"/>
<ellipse cx="-3.6" cy="-3.3" rx="2.5" ry="4.3" transform="rotate(-20)" fill="#f8d98a" opacity=".6"/>
</g>
<g transform="translate(961.7 721)">
<ellipse rx="14.5" ry="14.5" fill="url(#gY2)" stroke="#0c0e26" stroke-width="1.9"/>
<circle r="7.2" fill="#d4a236"/>
<ellipse cx="-3.6" cy="-3.3" rx="2.5" ry="4.3" transform="rotate(-20)" fill="#f8d98a" opacity=".6"/>
</g>
<g transform="translate(952 584)">
<ellipse rx="17.5" ry="17.5" fill="url(#gA)" stroke="#0c0e26" stroke-width="1.9"/>
<circle r="9.8" fill="#5fae50"/>
<ellipse cx="-5.4" cy="-4.4" rx="3.4" ry="6.9" transform="rotate(-20)" fill="#c4f5b4" opacity=".5"/>
</g>
<g transform="translate(723.6 626.7)">
<ellipse rx="17.5" ry="17.5" fill="url(#gA)" stroke="#0c0e26" stroke-width="1.9"/>
<circle r="9.8" fill="#5fae50"/>
<ellipse cx="-5.4" cy="-4.4" rx="3.4" ry="6.9" transform="rotate(-20)" fill="#c4f5b4" opacity=".5"/>
</g>
<g transform="translate(723.6 676.5)">
<ellipse rx="15" ry="15" fill="url(#gE)" stroke="#0c0e26" stroke-width="1.9"/>
<circle r="8.2" fill="#3c6638"/>
<ellipse cx="-4.2" cy="-3" rx="2.4" ry="5.4" transform="rotate(-25)" fill="#5a8453" opacity=".45"/>
</g>
<g transform="translate(785.8 746.6)">
<ellipse rx="15" ry="15" fill="url(#gE)" stroke="#0c0e26" stroke-width="1.9"/>
<circle r="8.2" fill="#3c6638"/>
<ellipse cx="-4.2" cy="-3" rx="2.4" ry="5.4" transform="rotate(-25)" fill="#5a8453" opacity=".45"/>
</g>
<g transform="translate(712.5 783.3)">
<ellipse rx="15" ry="15" fill="url(#gE)" stroke="#0c0e26" stroke-width="1.9"/>
<circle r="8.2" fill="#3c6638"/>
<ellipse cx="-4.2" cy="-3" rx="2.4" ry="5.4" transform="rotate(-25)" fill="#5a8453" opacity=".45"/>
</g>
<g transform="translate(861 804.4)">
<ellipse rx="15" ry="15" fill="url(#gE)" stroke="#0c0e26" stroke-width="1.9"/>
<circle r="8.2" fill="#3c6638"/>
<ellipse cx="-4.2" cy="-3" rx="2.4" ry="5.4" transform="rotate(-25)" fill="#5a8453" opacity=".45"/>
</g>
<g transform="translate(825 822)">
<ellipse rx="17.5" ry="17.5" fill="url(#gA)" stroke="#0c0e26" stroke-width="1.9"/>
<circle r="9.8" fill="#5fae50"/>
<ellipse cx="-5.4" cy="-4.4" rx="3.4" ry="6.9" transform="rotate(-20)" fill="#c4f5b4" opacity=".5"/>
</g>
<g transform="translate(686.9 741.2)">
<ellipse rx="14.5" ry="14.5" fill="url(#gY2)" stroke="#0c0e26" stroke-width="1.9"/>
<circle r="7.2" fill="#d4a236"/>
<ellipse cx="-3.6" cy="-3.3" rx="2.5" ry="4.3" transform="rotate(-20)" fill="#f8d98a" opacity=".6"/>
</g>
<g transform="translate(602.5 617)">
<ellipse rx="17.5" ry="17.5" fill="url(#gA)" stroke="#0c0e26" stroke-width="1.9"/>
<circle r="9.8" fill="#5fae50"/>
<ellipse cx="-5.4" cy="-4.4" rx="3.4" ry="6.9" transform="rotate(-20)" fill="#c4f5b4" opacity=".5"/>
</g>
<g transform="translate(620.6 672.8)">
<ellipse rx="17.5" ry="17.5" fill="url(#gA)" stroke="#0c0e26" stroke-width="1.9"/>
<circle r="9.8" fill="#5fae50"/>
<ellipse cx="-5.4" cy="-4.4" rx="3.4" ry="6.9" transform="rotate(-20)" fill="#c4f5b4" opacity=".5"/>
</g>
<g transform="translate(662.8 687.8)">
<ellipse rx="17.5" ry="17.5" fill="url(#gA)" stroke="#0c0e26" stroke-width="1.9"/>
<circle r="9.8" fill="#5fae50"/>
<ellipse cx="-5.4" cy="-4.4" rx="3.4" ry="6.9" transform="rotate(-20)" fill="#c4f5b4" opacity=".5"/>
</g>
<g transform="translate(516.7 795.4)">
<ellipse rx="13.5" ry="13.5" fill="url(#gY2)" stroke="#0c0e26" stroke-width="1.9"/>
<circle r="6.8" fill="#d4a236"/>
<ellipse cx="-3.4" cy="-3" rx="2.4" ry="4" transform="rotate(-20)" fill="#f8d98a" opacity=".6"/>
</g>
<g transform="translate(518 818)">
<ellipse rx="13.5" ry="13.5" fill="url(#gY2)" stroke="#0c0e26" stroke-width="1.9"/>
<circle r="6.8" fill="#d4a236"/>
<ellipse cx="-3.4" cy="-3" rx="2.4" ry="4" transform="rotate(-20)" fill="#f8d98a" opacity=".6"/>
</g>
<g transform="translate(540 760)">
<path d="M-13.4 -20.7C-12.6 -21.1 -11.7 -21.8 -10.7 -22.1C-9.8 -22.4 -8.7 -22.6 -7.6 -22.6C-6.6 -22.5 -5.5 -22.4 -4.4 -21.9C-3.4 -21.4 -2.3 -19.4 -1.4 -19.5C-0.4 -19.7 0.3 -21.8 1.3 -22.6C2.3 -23.5 3.5 -24.1 4.6 -24.6C5.8 -25.1 7.1 -25.4 8.3 -25.6C9.5 -25.7 11.1 -25.6 11.9 -25.4C12.6 -25.1 12.6 -24.7 12.8 -24.2C13 -23.7 13.2 -23 13.2 -22.2C13.2 -21.5 13.2 -20.7 13 -19.7C12.8 -18.7 11.7 -16.6 12 -16.3C12.3 -16.1 14 -17.9 14.8 -18.3C15.6 -18.8 16.3 -19 17 -19.1C17.6 -19.2 18.1 -19.2 18.6 -19.1C19 -18.9 19.3 -18.8 19.6 -18.4C20 -17.9 20.6 -17.1 20.9 -16.3C21.1 -15.6 21.3 -14.7 21.3 -13.9C21.3 -13 21.2 -12.1 21 -11.2C20.7 -10.3 19.3 -9.1 19.6 -8.5C19.9 -7.9 21.8 -8 22.6 -7.6C23.4 -7.2 24 -6.7 24.5 -6.1C25 -5.5 25.4 -4.9 25.6 -4.2C25.9 -3.5 25.8 -3.1 25.9 -2.1C26 -1.2 26.4 0.2 26.3 1.4C26.2 2.6 25.9 3.8 25.3 4.8C24.8 5.9 24 7 23 7.8C21.9 8.6 19.5 8.5 19 9.6C18.5 10.6 19.8 12.4 19.8 13.8C19.8 15.2 19.5 16.7 19 18C18.5 19.3 17.8 20.7 16.9 21.8C16 22.9 14.5 24.2 13.6 24.7C12.7 25.2 12.2 24.9 11.5 24.8C10.8 24.7 9.9 24.4 9.1 23.9C8.3 23.5 7.5 23 6.7 22.2C5.9 21.4 4.9 19.1 4.4 19.2C3.8 19.2 3.9 21.7 3.5 22.6C3.1 23.5 2.5 24.1 2 24.6C1.5 25.1 0.8 25.5 0.2 25.7C-0.4 25.9 -0.8 26 -1.6 25.8C-2.4 25.7 -3.5 25.4 -4.4 24.9C-5.2 24.4 -6.1 23.8 -6.8 23.1C-7.5 22.4 -8.1 21.6 -8.6 20.7C-9.1 19.7 -8.9 17.9 -9.6 17.5C-10.4 17.2 -11.9 18.4 -12.9 18.5C-13.9 18.6 -14.8 18.4 -15.7 18.1C-16.5 17.9 -17.4 17.5 -18 17C-18.7 16.5 -19.2 15.9 -19.8 15.3C-20.5 14.6 -21.4 13.8 -22 13C-22.6 12.1 -23 11.1 -23.2 10.1C-23.4 9.1 -23.5 8 -23.2 7C-22.9 5.9 -21.1 4.7 -21.3 3.8C-21.6 2.8 -23.9 2.3 -24.9 1.5C-25.9 0.6 -26.7 -0.5 -27.3 -1.6C-27.9 -2.6 -28.4 -3.9 -28.7 -5C-28.9 -6.2 -29 -7.7 -28.7 -8.6C-28.4 -9.5 -27.6 -10 -26.8 -10.5C-26.1 -11.1 -25.1 -11.5 -24.1 -11.9C-23.1 -12.2 -22 -12.5 -20.8 -12.6C-19.6 -12.7 -17.4 -11.9 -16.9 -12.3C-16.4 -12.8 -17.6 -14.6 -17.6 -15.5C-17.7 -16.4 -17.3 -17.2 -17 -17.9C-16.6 -18.6 -16.1 -19.2 -15.5 -19.6C-14.9 -20.1 -14.2 -20.3 -13.4 -20.7Z" fill="#fbf59c" stroke="#0c0e26" stroke-width="1.9" stroke-linejoin="round"/>
<ellipse cx="0" cy="0" rx="10" ry="10.5" fill="#bdbb55"/>
<ellipse cx="-5.5" cy="-3" rx="3.5" ry="8" transform="rotate(-15)" fill="#d6d47e" opacity=".6"/>
</g>
<g transform="translate(574 760.8)">
<ellipse rx="13.5" ry="13.5" fill="url(#gY2)" stroke="#0c0e26" stroke-width="1.9"/>
<circle r="6.8" fill="#d4a236"/>
<ellipse cx="-3.4" cy="-3" rx="2.4" ry="4" transform="rotate(-20)" fill="#f8d98a" opacity=".6"/>
</g>
<g transform="translate(593.5 753)">
<ellipse rx="13.5" ry="13.5" fill="url(#gY2)" stroke="#0c0e26" stroke-width="1.9"/>
<circle r="6.8" fill="#d4a236"/>
<ellipse cx="-3.4" cy="-3" rx="2.4" ry="4" transform="rotate(-20)" fill="#f8d98a" opacity=".6"/>
</g>
<g transform="translate(617.6 775.8)">
<ellipse rx="13.5" ry="13.5" fill="url(#gY2)" stroke="#0c0e26" stroke-width="1.9"/>
<circle r="6.8" fill="#d4a236"/>
<ellipse cx="-3.4" cy="-3" rx="2.4" ry="4" transform="rotate(-20)" fill="#f8d98a" opacity=".6"/>
</g>
<g transform="translate(592 772.8)">
<ellipse rx="13.5" ry="13.5" fill="url(#gY2)" stroke="#0c0e26" stroke-width="1.9"/>
<circle r="6.8" fill="#d4a236"/>
<ellipse cx="-3.4" cy="-3" rx="2.4" ry="4" transform="rotate(-20)" fill="#f8d98a" opacity=".6"/>
</g>
<g transform="translate(602.5 792.4)">
<ellipse rx="13.5" ry="13.5" fill="url(#gY2)" stroke="#0c0e26" stroke-width="1.9"/>
<circle r="6.8" fill="#d4a236"/>
<ellipse cx="-3.4" cy="-3" rx="2.4" ry="4" transform="rotate(-20)" fill="#f8d98a" opacity=".6"/>
</g>
<g transform="translate(574 790.9)">
<ellipse rx="13.5" ry="13.5" fill="url(#gY2)" stroke="#0c0e26" stroke-width="1.9"/>
<circle r="6.8" fill="#d4a236"/>
<ellipse cx="-3.4" cy="-3" rx="2.4" ry="4" transform="rotate(-20)" fill="#f8d98a" opacity=".6"/>
</g>
<g transform="translate(546.8 795.4)">
<ellipse rx="13.5" ry="13.5" fill="url(#gY2)" stroke="#0c0e26" stroke-width="1.9"/>
<circle r="6.8" fill="#d4a236"/>
<ellipse cx="-3.4" cy="-3" rx="2.4" ry="4" transform="rotate(-20)" fill="#f8d98a" opacity=".6"/>
</g>
<g transform="translate(586 807.4)">
<ellipse rx="13.5" ry="13.5" fill="url(#gY2)" stroke="#0c0e26" stroke-width="1.9"/>
<circle r="6.8" fill="#d4a236"/>
<ellipse cx="-3.4" cy="-3" rx="2.4" ry="4" transform="rotate(-20)" fill="#f8d98a" opacity=".6"/>
</g>
<g transform="translate(561.9 813.5)">
<ellipse rx="13.5" ry="13.5" fill="url(#gY2)" stroke="#0c0e26" stroke-width="1.9"/>
<circle r="6.8" fill="#d4a236"/>
<ellipse cx="-3.4" cy="-3" rx="2.4" ry="4" transform="rotate(-20)" fill="#f8d98a" opacity=".6"/>
</g>
<g transform="translate(578.4 828.5)">
<ellipse rx="13.5" ry="13.5" fill="url(#gY2)" stroke="#0c0e26" stroke-width="1.9"/>
<circle r="6.8" fill="#d4a236"/>
<ellipse cx="-3.4" cy="-3" rx="2.4" ry="4" transform="rotate(-20)" fill="#f8d98a" opacity=".6"/>
</g>
<g transform="translate(564.9 836)">
<ellipse rx="13.5" ry="13.5" fill="url(#gY2)" stroke="#0c0e26" stroke-width="1.9"/>
<circle r="6.8" fill="#d4a236"/>
<ellipse cx="-3.4" cy="-3" rx="2.4" ry="4" transform="rotate(-20)" fill="#f8d98a" opacity=".6"/>
</g>
<g transform="translate(542.3 828.5)">
<ellipse rx="14" ry="14" fill="url(#gE)" stroke="#0c0e26" stroke-width="1.9"/>
<circle r="7.7" fill="#3c6638"/>
<ellipse cx="-3.9" cy="-2.8" rx="2.2" ry="5" transform="rotate(-25)" fill="#5a8453" opacity=".45"/>
</g>
<g transform="translate(534.8 804.4)">
<ellipse rx="17" ry="17" fill="url(#gA)" stroke="#0c0e26" stroke-width="1.9"/>
<circle r="9.5" fill="#5fae50"/>
<ellipse cx="-5.2" cy="-4.3" rx="3.3" ry="6.7" transform="rotate(-20)" fill="#c4f5b4" opacity=".5"/>
</g>
<g transform="translate(605.5 822.5)">
<ellipse rx="18" ry="18" fill="url(#gA)" stroke="#0c0e26" stroke-width="1.9"/>
<circle r="10.1" fill="#5fae50"/>
<ellipse cx="-5.5" cy="-4.5" rx="3.5" ry="7.1" transform="rotate(-20)" fill="#c4f5b4" opacity=".5"/>
</g>
<g transform="translate(615 754.5)">
<ellipse rx="18" ry="18" fill="url(#gA)" stroke="#0c0e26" stroke-width="1.9"/>
<circle r="10.1" fill="#5fae50"/>
<ellipse cx="-5.5" cy="-4.5" rx="3.5" ry="7.1" transform="rotate(-20)" fill="#c4f5b4" opacity=".5"/>
</g>
<g transform="translate(555.8 771.3)">
<ellipse rx="15" ry="15" fill="url(#gE)" stroke="#0c0e26" stroke-width="1.9"/>
<circle r="8.2" fill="#3c6638"/>
<ellipse cx="-4.2" cy="-3" rx="2.4" ry="5.4" transform="rotate(-25)" fill="#5a8453" opacity=".45"/>
</g>
<path transform="translate(734.4 537.8) rotate(170)" d="M-1.1 5V.5L-4.3 -4.5M1.1 5V.5L4.3 -4.5" stroke="#2fba4c" stroke-width="1.5" fill="none" stroke-linecap="round"/>
<path transform="translate(580.2 605) rotate(120)" d="M-1.1 5V.5L-4.3 -4.5M1.1 5V.5L4.3 -4.5" stroke="#2fba4c" stroke-width="1.5" fill="none" stroke-linecap="round"/>
<path transform="translate(656 596) rotate(180)" d="M-1.1 5V.5L-4.3 -4.5M1.1 5V.5L4.3 -4.5" stroke="#2fba4c" stroke-width="1.5" fill="none" stroke-linecap="round"/>
<path transform="translate(717.6 597) rotate(160)" d="M-1.1 5V.5L-4.3 -4.5M1.1 5V.5L4.3 -4.5" stroke="#2fba4c" stroke-width="1.5" fill="none" stroke-linecap="round"/>
<path transform="translate(611 647) rotate(150)" d="M-1.1 5V.5L-4.3 -4.5M1.1 5V.5L4.3 -4.5" stroke="#2fba4c" stroke-width="1.5" fill="none" stroke-linecap="round"/>
<path transform="translate(650 662) rotate(150)" d="M-1.1 5V.5L-4.3 -4.5M1.1 5V.5L4.3 -4.5" stroke="#2fba4c" stroke-width="1.5" fill="none" stroke-linecap="round"/>
<path transform="translate(585 689) rotate(120)" d="M-1.1 5V.5L-4.3 -4.5M1.1 5V.5L4.3 -4.5" stroke="#2fba4c" stroke-width="1.5" fill="none" stroke-linecap="round"/>
<path transform="translate(571 720) rotate(160)" d="M-1.1 5V.5L-4.3 -4.5M1.1 5V.5L4.3 -4.5" stroke="#2fba4c" stroke-width="1.5" fill="none" stroke-linecap="round"/>
<path transform="translate(970 561) rotate(50)" d="M-1.1 5V.5L-4.3 -4.5M1.1 5V.5L4.3 -4.5" stroke="#2fba4c" stroke-width="1.5" fill="none" stroke-linecap="round"/>
<path transform="translate(837 843) rotate(10)" d="M-1.1 5V.5L-4.3 -4.5M1.1 5V.5L4.3 -4.5" stroke="#2fba4c" stroke-width="1.5" fill="none" stroke-linecap="round"/>
<path transform="translate(515 825) rotate(60)" d="M-1.1 5V.5L-4.3 -4.5M1.1 5V.5L4.3 -4.5" stroke="#2fba4c" stroke-width="1.5" fill="none" stroke-linecap="round"/>
<path transform="translate(615 850) rotate(0)" d="M-1.1 5V.5L-4.3 -4.5M1.1 5V.5L4.3 -4.5" stroke="#2fba4c" stroke-width="1.5" fill="none" stroke-linecap="round"/>
<path transform="translate(592 769) rotate(50)" d="M-1.1 5V.5L-4.3 -4.5M1.1 5V.5L4.3 -4.5" stroke="#2fba4c" stroke-width="1.5" fill="none" stroke-linecap="round"/>
<g stroke="#111" stroke-width="1.5" fill="#111"><path d="M768 508 L765.6 501.4"/>
<path transform="translate(765.6 501.4) rotate(-110)" d="M3 0L-1.8 -2.7L-1.8 2.7Z" stroke="none"/></g>
<g stroke="#111" stroke-width="1.5" fill="#111"><path d="M736 547 L734.8 540.1"/>
<path transform="translate(734.8 540.1) rotate(-100)" d="M3 0L-1.8 -2.7L-1.8 2.7Z" stroke="none"/></g>
<g stroke="#111" stroke-width="1.5" fill="#111"><path d="M593 611 L586.9 607.5"/>
<path transform="translate(586.9 607.5) rotate(-150)" d="M3 0L-1.8 -2.7L-1.8 2.7Z" stroke="none"/></g>
<g stroke="#111" stroke-width="1.5" fill="#111"><path d="M655 607 L655 600"/>
<path transform="translate(655 600) rotate(-90)" d="M3 0L-1.8 -2.7L-1.8 2.7Z" stroke="none"/></g>
<g stroke="#111" stroke-width="1.5" fill="#111"><path d="M720 609 L718.8 602.1"/>
<path transform="translate(718.8 602.1) rotate(-100)" d="M3 0L-1.8 -2.7L-1.8 2.7Z" stroke="none"/></g>
<g stroke="#111" stroke-width="1.5" fill="#111"><path d="M612 657 L608.5 650.9"/>
<path transform="translate(608.5 650.9) rotate(-120)" d="M3 0L-1.8 -2.7L-1.8 2.7Z" stroke="none"/></g>
<g stroke="#111" stroke-width="1.5" fill="#111"><path d="M652 673 L648.5 666.9"/>
<path transform="translate(648.5 666.9) rotate(-120)" d="M3 0L-1.8 -2.7L-1.8 2.7Z" stroke="none"/></g>
<g stroke="#111" stroke-width="1.5" fill="#111"><path d="M592 697 L585.9 693.5"/>
<path transform="translate(585.9 693.5) rotate(-150)" d="M3 0L-1.8 -2.7L-1.8 2.7Z" stroke="none"/></g>
<g stroke="#111" stroke-width="1.5" fill="#111"><path d="M575 728 L572.6 721.4"/>
<path transform="translate(572.6 721.4) rotate(-110)" d="M3 0L-1.8 -2.7L-1.8 2.7Z" stroke="none"/></g>
<g stroke="#111" stroke-width="1.5" fill="#111"><path d="M964 572 L969.4 567.5"/>
<path transform="translate(969.4 567.5) rotate(-40)" d="M3 0L-1.8 -2.7L-1.8 2.7Z" stroke="none"/></g>
<g stroke="#111" stroke-width="1.5" fill="#111"><path d="M980 628 L982.4 634.6"/>
<path transform="translate(982.4 634.6) rotate(70)" d="M3 0L-1.8 -2.7L-1.8 2.7Z" stroke="none"/></g>
<g stroke="#111" stroke-width="1.5" fill="#111"><path d="M728 690 L731.5 696.1"/>
<path transform="translate(731.5 696.1) rotate(60)" d="M3 0L-1.8 -2.7L-1.8 2.7Z" stroke="none"/></g>
<g stroke="#111" stroke-width="1.5" fill="#111"><path d="M774 740 L767.9 736.5"/>
<path transform="translate(767.9 736.5) rotate(-150)" d="M3 0L-1.8 -2.7L-1.8 2.7Z" stroke="none"/></g>
<g stroke="#111" stroke-width="1.5" fill="#111"><path d="M706 770 L703.6 763.4"/>
<path transform="translate(703.6 763.4) rotate(-110)" d="M3 0L-1.8 -2.7L-1.8 2.7Z" stroke="none"/></g>
<g stroke="#111" stroke-width="1.5" fill="#111"><path d="M874 810 L880.6 812.4"/>
<path transform="translate(880.6 812.4) rotate(20)" d="M3 0L-1.8 -2.7L-1.8 2.7Z" stroke="none"/></g>
<g stroke="#111" stroke-width="1.5" fill="#111"><path d="M829 838 L831.4 844.6"/>
<path transform="translate(831.4 844.6) rotate(70)" d="M3 0L-1.8 -2.7L-1.8 2.7Z" stroke="none"/></g>
<g stroke="#111" stroke-width="1.5" fill="#111"><path d="M908 860 L910.4 866.6"/>
<path transform="translate(910.4 866.6) rotate(70)" d="M3 0L-1.8 -2.7L-1.8 2.7Z" stroke="none"/></g>
<g stroke="#111" stroke-width="1.5" fill="#111"><path d="M540 842 L537.6 848.6"/>
<path transform="translate(537.6 848.6) rotate(110)" d="M3 0L-1.8 -2.7L-1.8 2.7Z" stroke="none"/></g>
<g stroke="#111" stroke-width="1.5" fill="#111"><path d="M612 840 L615.5 846.1"/>
<path transform="translate(615.5 846.1) rotate(60)" d="M3 0L-1.8 -2.7L-1.8 2.7Z" stroke="none"/></g>
<g stroke="#111" stroke-width="1.5" fill="#111"><path d="M545 765 L538.9 761.5"/>
<path transform="translate(538.9 761.5) rotate(-150)" d="M3 0L-1.8 -2.7L-1.8 2.7Z" stroke="none"/></g>
<g stroke="#111" stroke-width="1.5" fill="#111"><path d="M520 815 L514.6 819.5"/>
<path transform="translate(514.6 819.5) rotate(140)" d="M3 0L-1.8 -2.7L-1.8 2.7Z" stroke="none"/></g>
<g stroke="#111" stroke-width="1.5" fill="#111"><path d="M603 762 L597.6 766.5"/>
<path transform="translate(597.6 766.5) rotate(140)" d="M3 0L-1.8 -2.7L-1.8 2.7Z" stroke="none"/></g>
<text x="359.6" y="68" font-size="21" font-weight="bold">Tumor</text>
<text x="359.6" y="88.7" font-size="21" font-weight="bold">growth</text>
<text x="714.3" y="483.2" font-size="20.8" font-weight="bold">Anti-PD-1</text>
<text x="515.5" y="872" font-size="21">Lymphoid</text>
<text x="515.5" y="897" font-size="21">aggregate</text>
<path d="M312 96.1L314.1 96.2L317 96.3L320.4 96.5L324.2 96.6L328.2 96.9L332.3 97.2L336.3 97.6L340.1 98.1L343.7 98.7L347.4 99.5L351.1 100.3L354.9 101.2L358.7 102.2L362.4 103.3L366.2 104.4L369.9 105.5L373.7 106.8L377.4 108.1L381.2 109.4L384.9 110.9L388.7 112.4L392.4 113.9L396.1 115.4L399.7 117L403.3 118.5L406.8 120.2L410.4 121.8L413.9 123.5L417.3 125.2L420.8 126.9L424.2 128.7L427.5 130.4L431 132.2L434.6 134.1L438.3 136.1L441.9 138.1L445.3 139.9L448.3 141.6L450.9 143L452.9 144.1L455.1 139.9L453.2 138.9L450.6 137.5L447.5 135.8L444.1 134L440.5 132L436.7 130.1L433 128.2L429.5 126.4L426.1 124.8L422.6 123.1L419.1 121.5L415.6 119.9L412 118.3L408.4 116.7L404.8 115.1L401.1 113.6L397.4 112.2L393.6 110.7L389.8 109.3L386 108L382.2 106.6L378.3 105.4L374.5 104.2L370.7 103.1L366.9 102L363 101L359.2 100.1L355.4 99.2L351.6 98.4L347.8 97.7L344 97L340.3 96.5L336.5 96.1L332.4 95.8L328.3 95.6L324.2 95.5L320.4 95.4L317 95.4L314.2 95.4L312 95.3Z" fill="#111"/>
<path d="M466 147.6 L459.8 131.2 L448 146.6 Z" fill="#111"/>
<path d="M736.4 393L737.3 394L738.5 395.4L739.9 397L741.4 398.8L743 400.7L744.6 402.6L746 404.4L747.2 406.1L748.2 407.6L749.1 409.1L750 410.6L750.8 412.1L751.6 413.6L752.3 415L753 416.6L753.7 418.1L754.3 419.7L754.9 421.3L755.5 423L756.1 424.7L756.6 426.4L757 428.1L757.5 429.7L757.9 431.2L758.3 432.8L758.6 434.4L758.9 436L759.2 437.6L759.4 439.1L759.6 440.4L759.8 441.6L759.9 442.5L765.1 441.5L764.9 440.7L764.7 439.6L764.4 438.2L764.1 436.7L763.8 435L763.4 433.3L763 431.6L762.5 430L762 428.3L761.4 426.7L760.8 425L760.2 423.3L759.5 421.5L758.7 419.8L757.9 418.1L757.1 416.5L756.3 414.9L755.4 413.4L754.5 411.9L753.6 410.4L752.6 409L751.6 407.5L750.5 406L749.2 404.5L747.8 402.9L746.2 401.2L744.4 399.4L742.6 397.7L740.9 396.1L739.3 394.6L738 393.4L737 392.4Z" fill="#111"/>
<path d="M763.3 456 L753 441.6 L771.3 439.8 Z" fill="#111"/>
<g transform="translate(63.6 380) rotate(0)"><ellipse rx="21.6" ry="22.5" fill="#9a5bdc" stroke="#000" stroke-width="1.5"/><circle cx="-0.5" r="9.5" fill="#6a35a8"/></g>
<circle cx="75.7" cy="370.2" r="2.4" fill="#2fd6a4" stroke="#1aa778" stroke-width=".6"/>
<circle cx="78.2" cy="385.4" r="2.4" fill="#2fd6a4" stroke="#1aa778" stroke-width=".6"/>
<circle cx="95" cy="377.8" r="2.4" fill="#2fd6a4" stroke="#1aa778" stroke-width=".6"/>
<circle cx="95.9" cy="391.8" r="2.4" fill="#2fd6a4" stroke="#1aa778" stroke-width=".6"/>
<circle cx="107.7" cy="404.5" r="2.4" fill="#2fd6a4" stroke="#1aa778" stroke-width=".6"/>
<circle cx="122" cy="394.7" r="2.4" fill="#2fd6a4" stroke="#1aa778" stroke-width=".6"/>
<circle cx="144.5" cy="394.7" r="2.4" fill="#2fd6a4" stroke="#1aa778" stroke-width=".6"/>
<circle cx="169.3" cy="356.7" r="2.4" fill="#2fd6a4" stroke="#1aa778" stroke-width=".6"/>
<circle cx="166.5" cy="372.7" r="2.4" fill="#2fd6a4" stroke="#1aa778" stroke-width=".6"/>
<circle cx="164" cy="406.7" r="2.4" fill="#2fd6a4" stroke="#1aa778" stroke-width=".6"/>
<circle cx="233.7" cy="373.6" r="2.4" fill="#2fd6a4" stroke="#1aa778" stroke-width=".6"/>
<circle cx="228" cy="396.6" r="2.4" fill="#2fd6a4" stroke="#1aa778" stroke-width=".6"/>
<circle cx="254.7" cy="397" r="2.4" fill="#2fd6a4" stroke="#1aa778" stroke-width=".6"/>
<circle cx="275.8" cy="394.7" r="2.4" fill="#2fd6a4" stroke="#1aa778" stroke-width=".6"/>
<circle cx="307" cy="346.3" r="2.4" fill="#2fd6a4" stroke="#1aa778" stroke-width=".6"/>
<circle cx="276.3" cy="394.7" r="2.4" fill="#2fd6a4" stroke="#1aa778" stroke-width=".6"/>
<path d="M96 382.2 L147 379 L147 372 L161 380.8 L147 389.6 L147 383.8 Z" fill="#1aa778"/>
<path d="M229 381.6 L286 381.8 L286 375 L301 384.8 L286 394.6 L286 386.6 Z" fill="#1aa778"/>
<text x="103" y="368" font-size="21">IL-4</text>
<text x="47" y="424.5" font-size="21">WT</text>
<text x="198" y="432.5" font-size="21" text-anchor="middle">Myeloid</text>
<text x="198" y="452.3" font-size="21" text-anchor="middle">progenitor</text>
<text x="282" y="433.5" font-size="21">Marco Mac</text>
<path d="M176.3 367.3L172.6 361.6L173.6 355.6M172.6 361.6L166.6 361.3" fill="none" stroke="#111" stroke-width="1.8"/>
<path d="M174.3 400L170.1 403.3L163.1 402.8M170.1 403.3L168.9 409.3" fill="none" stroke="#111" stroke-width="1.8"/>
<g transform="translate(198.2 383.2)"><path d="M-22.1 -16.1C-20.6 -17.1 -16.4 -17.6 -14.1 -19.1C-11.7 -20.6 -9.7 -24 -8 -25.1C-6.4 -26.2 -5.7 -26.4 -4 -25.9C-2.3 -25.4 0.7 -22.9 2 -22.1C3.3 -21.3 2.7 -20.7 4 -21.3C5.4 -21.9 8.2 -24.8 10 -25.6C11.9 -26.4 13.6 -26.7 15.1 -26.3C16.5 -25.9 17.9 -25.1 18.6 -23.1C19.2 -21.1 18.5 -16.1 18.9 -14.1C19.3 -12 19.5 -11.9 21.1 -11C22.6 -10.2 26.4 -10.1 28.1 -9C29.8 -7.9 31 -6.2 31.1 -4.5C31.3 -2.8 30.3 -0.3 29.1 1C27.9 2.3 25.9 2.7 24.1 3.5C22.3 4.4 19.4 4.4 18.1 6C16.7 7.6 16.8 11.2 16.1 13.1C15.3 14.9 14.9 16.2 13.6 17.1C12.2 17.9 9.6 17.7 8 18.1C6.4 18.4 5.2 17.9 4 19.1C2.8 20.2 2.2 23.3 1 25.1C-0.2 26.9 -1.5 28.9 -3 29.6C-4.5 30.3 -6.6 29.9 -8 29.1C-9.5 28.4 -10.7 26.8 -11.5 25.1C-12.4 23.4 -12 20.3 -13.1 19.1C-14.1 17.8 -16.3 17.9 -18.1 17.6C-19.8 17.2 -22.5 17.8 -23.6 17.1C-24.7 16.3 -24.7 14.7 -24.6 13.1C-24.5 11.4 -22.8 8.7 -23.1 7C-23.4 5.4 -25.7 4.4 -26.6 3C-27.5 1.7 -28.6 0.2 -28.6 -1C-28.6 -2.2 -27.6 -3 -26.6 -4C-25.6 -5 -23.2 -5.5 -22.6 -7C-22 -8.5 -23.2 -11.5 -23.1 -13.1C-23 -14.6 -23.6 -15.1 -22.1 -16.1Z" fill="#efefef" stroke="#000" stroke-width="1.6" stroke-linejoin="round"/><ellipse cx="-5.5" cy="-5.5" rx="10" ry="11" transform="rotate(15 -5.5 -5.5)" fill="#bdbdbd"/></g>
<path d="M314.8 356.8L310.6 351.1L311.1 345M310.6 351.1L304.1 350.9" fill="none" stroke="#111" stroke-width="1.8"/>
<g transform="translate(338.9 378.9)"><path d="M-22.8 -17.7C-21.2 -18.8 -16.9 -19.3 -14.5 -21C-12.1 -22.6 -10 -26.4 -8.3 -27.6C-6.5 -28.9 -5.9 -29 -4.1 -28.5C-2.4 -27.9 0.7 -25.1 2.1 -24.3C3.4 -23.5 2.8 -22.8 4.1 -23.4C5.5 -24.1 8.4 -27.2 10.3 -28.2C12.2 -29.1 14 -29.4 15.5 -28.9C17 -28.5 18.5 -27.6 19.1 -25.4C19.8 -23.2 19 -17.7 19.4 -15.5C19.9 -13.3 20.1 -13.1 21.7 -12.1C23.3 -11.2 27.2 -11.1 29 -9.9C30.7 -8.7 31.9 -6.8 32.1 -5C32.2 -3.1 31.2 -0.4 30 1.1C28.8 2.6 26.7 2.9 24.8 3.9C22.9 4.8 20 4.9 18.6 6.6C17.2 8.4 17.3 12.3 16.5 14.4C15.8 16.4 15.3 17.9 14 18.8C12.6 19.7 9.9 19.5 8.3 19.9C6.6 20.2 5.3 19.7 4.1 21C2.9 22.3 2.2 25.7 1 27.6C-0.2 29.5 -1.6 31.8 -3.1 32.6C-4.7 33.3 -6.8 32.9 -8.3 32C-9.7 31.2 -11 29.5 -11.9 27.6C-12.8 25.8 -12.3 22.4 -13.4 21C-14.6 19.6 -16.8 19.7 -18.6 19.3C-20.4 19 -23.2 19.6 -24.3 18.8C-25.4 17.9 -25.4 16.2 -25.3 14.4C-25.3 12.5 -23.4 9.6 -23.8 7.7C-24.1 5.9 -26.5 4.8 -27.4 3.3C-28.4 1.8 -29.5 0.2 -29.5 -1.1C-29.5 -2.4 -28.4 -3.3 -27.4 -4.4C-26.4 -5.5 -23.9 -6.1 -23.3 -7.7C-22.7 -9.4 -23.9 -12.7 -23.8 -14.4C-23.7 -16 -24.3 -16.6 -22.8 -17.7Z" fill="#c3f3f9" stroke="#000" stroke-width="1.6" stroke-linejoin="round"/><ellipse cx="-8.7" cy="-5.9" rx="9.5" ry="11" transform="rotate(20 -8.7 -5.9)" fill="#72b7b5"/></g>
<path d="M376.7 382.9H414M414 373.6V392.6" stroke="#111" stroke-width="1.6" fill="none"/>
<g transform="translate(428.7 356.7) rotate(0)"><ellipse rx="15" ry="14.5" fill="#fbedd2" stroke="#d8d4cc" stroke-width="1.5"/><circle cx="-0.5" r="8" fill="#f5e2c0"/></g>
<g transform="translate(466.6 349.7) rotate(0)"><ellipse rx="14.5" ry="15" fill="#fbedd2" stroke="#d8d4cc" stroke-width="1.5"/><circle cx="-0.5" r="8" fill="#f5e2c0"/></g>
<g transform="translate(451.7 368) rotate(0)"><ellipse rx="15" ry="15" fill="#fbedd2" stroke="#d8d4cc" stroke-width="1.5"/><circle cx="-0.5" r="8" fill="#f5e2c0"/></g>
<g transform="translate(492 378.4) rotate(0)"><ellipse rx="17.5" ry="19" fill="#def5d9" stroke="#cfd6cf" stroke-width="1.5"/><circle cx="-0.5" r="9.5" fill="#d0ead0"/></g>
<g transform="translate(451.7 396) rotate(0)"><ellipse rx="18" ry="19" fill="#def5d9" stroke="#cfd6cf" stroke-width="1.5"/><circle cx="-0.5" r="9.5" fill="#d0ead0"/></g>
<g transform="translate(66.4 537.6) rotate(0)"><ellipse rx="21" ry="22.5" fill="#f47b42" stroke="#000" stroke-width="1.5"/><circle cx="-0.5" r="9.5" fill="#c84a38"/></g>
<path d="M99.6 537.6 L146.6 536 L146.6 527.8 L160.6 537.6 L146.6 547.4 L146.6 539.2 Z" fill="#111"/>
<path d="M235 538 L289.6 536.4 L289.6 528.2 L303.6 538 L289.6 547.8 L289.6 539.6 Z" fill="#111"/>
<path d="M376.7 538 L417 536.4 L417 528.2 L431 538 L417 547.8 L417 539.6 Z" fill="#111"/>
<path d="M181.5 519L176 511L177.5 505M176 511L169.5 510" fill="none" stroke="#111" stroke-width="1.8"/>
<g transform="translate(198.5 537)"><path d="M-22.1 -15.9C-20.6 -16.9 -16.4 -17.4 -14.1 -18.9C-11.7 -20.4 -9.7 -23.7 -8 -24.8C-6.4 -26 -5.7 -26.1 -4 -25.6C-2.3 -25.1 0.7 -22.6 2 -21.9C3.3 -21.1 2.7 -20.5 4 -21.1C5.4 -21.7 8.2 -24.5 10 -25.3C11.9 -26.2 13.6 -26.5 15.1 -26C16.5 -25.6 17.9 -24.9 18.6 -22.9C19.2 -20.8 18.5 -15.9 18.9 -13.9C19.3 -11.9 19.5 -11.8 21.1 -10.9C22.6 -10.1 26.4 -10 28.1 -8.9C29.8 -7.9 31 -6.1 31.1 -4.5C31.3 -2.8 30.3 -0.3 29.1 1C27.9 2.3 25.9 2.7 24.1 3.5C22.3 4.3 19.4 4.4 18.1 6C16.7 7.5 16.8 11.1 16.1 12.9C15.3 14.7 14.9 16.1 13.6 16.9C12.2 17.7 9.6 17.6 8 17.9C6.4 18.2 5.2 17.7 4 18.9C2.8 20 2.2 23.1 1 24.8C-0.2 26.6 -1.5 28.7 -3 29.3C-4.5 30 -6.6 29.6 -8 28.8C-9.5 28.1 -10.7 26.5 -11.5 24.8C-12.4 23.2 -12 20.1 -13.1 18.9C-14.1 17.6 -16.3 17.7 -18.1 17.4C-19.8 17.1 -22.5 17.6 -23.6 16.9C-24.7 16.2 -24.7 14.6 -24.6 12.9C-24.5 11.3 -22.8 8.6 -23.1 7C-23.4 5.3 -25.7 4.3 -26.6 3C-27.5 1.7 -28.6 0.2 -28.6 -1C-28.6 -2.2 -27.6 -3 -26.6 -4C-25.6 -5 -23.2 -5.5 -22.6 -7C-22 -8.4 -23.2 -11.4 -23.1 -12.9C-23 -14.4 -23.6 -14.9 -22.1 -15.9Z" fill="#efefef" stroke="#000" stroke-width="1.6" stroke-linejoin="round"/><ellipse cx="-5" cy="-8.5" rx="10.4" ry="10.4" transform="rotate(15 -5 -8.5)" fill="#bdbdbd"/></g>
<path d="M327.5 517L323 508.5L325.5 503M323 508.5L316.5 507.5" fill="none" stroke="#111" stroke-width="1.8"/>
<g transform="translate(340.5 538.3)"><path d="M-22.1 -15.6C-20.6 -16.6 -16.4 -17 -14.1 -18.5C-11.7 -20 -9.7 -23.2 -8 -24.3C-6.4 -25.5 -5.7 -25.6 -4 -25.1C-2.3 -24.6 0.7 -22.2 2 -21.4C3.3 -20.7 2.7 -20.1 4 -20.6C5.4 -21.2 8.2 -24 10 -24.8C11.9 -25.6 13.6 -25.9 15.1 -25.5C16.5 -25.1 17.9 -24.4 18.6 -22.4C19.2 -20.4 18.5 -15.6 18.9 -13.6C19.3 -11.7 19.5 -11.5 21.1 -10.7C22.6 -9.9 26.4 -9.8 28.1 -8.8C29.8 -7.7 31 -6 31.1 -4.4C31.3 -2.8 30.3 -0.3 29.1 1C27.9 2.3 25.9 2.6 24.1 3.4C22.3 4.2 19.4 4.3 18.1 5.8C16.7 7.4 16.8 10.9 16.1 12.7C15.3 14.4 14.9 15.7 13.6 16.6C12.2 17.4 9.6 17.2 8 17.5C6.4 17.9 5.2 17.4 4 18.5C2.8 19.6 2.2 22.6 1 24.3C-0.2 26.1 -1.5 28.1 -3 28.7C-4.5 29.4 -6.6 29 -8 28.2C-9.5 27.5 -10.7 26 -11.5 24.3C-12.4 22.7 -12 19.7 -13.1 18.5C-14.1 17.3 -16.3 17.4 -18.1 17C-19.8 16.7 -22.5 17.3 -23.6 16.6C-24.7 15.8 -24.7 14.3 -24.6 12.7C-24.5 11 -22.8 8.4 -23.1 6.8C-23.4 5.2 -25.7 4.2 -26.6 2.9C-27.5 1.6 -28.6 0.2 -28.6 -1C-28.6 -2.1 -27.6 -2.9 -26.6 -3.9C-25.6 -4.9 -23.2 -5.4 -22.6 -6.8C-22 -8.3 -23.2 -11.2 -23.1 -12.7C-23 -14.1 -23.6 -14.6 -22.1 -15.6Z" fill="#fbf6a2" stroke="#000" stroke-width="1.6" stroke-linejoin="round"/><ellipse cx="-6" cy="-7.7" rx="10.4" ry="11.2" transform="rotate(20 -6 -7.7)" fill="#bcbb5c"/></g>
<g transform="translate(439 515) rotate(-20)"><ellipse rx="14.8" ry="14" fill="#f3ad35" stroke="#000" stroke-width="1.5"/><circle cx="-0.5" r="8" fill="#c89138"/></g>
<g transform="translate(477 506.7) rotate(-40)"><ellipse rx="15.5" ry="14" fill="#f3ad35" stroke="#000" stroke-width="1.5"/><circle cx="-0.5" r="8" fill="#c89138"/></g>
<g transform="translate(461.9 527) rotate(0)"><ellipse rx="14.8" ry="14.5" fill="#f3ad35" stroke="#000" stroke-width="1.5"/><circle cx="-0.5" r="8" fill="#c89138"/></g>
<g transform="translate(461.9 554.5) rotate(0)"><ellipse rx="17.5" ry="18" fill="#86e070" stroke="#000" stroke-width="1.5"/><circle cx="-0.5" r="10" fill="#5ea952"/></g>
<g transform="translate(501.8 558.7) rotate(20)"><ellipse rx="17.5" ry="18" fill="#86e070" stroke="#000" stroke-width="1.5"/><circle cx="-0.5" r="10" fill="#5ea952"/></g>
<text x="29.5" y="584" font-size="21">IL-4 KO</text>
<text x="198" y="586.3" font-size="21" text-anchor="middle">Myeloid</text>
<text x="198" y="605.5" font-size="21" text-anchor="middle">progenitor</text>
<text x="277" y="586.8" font-size="21">S100a8 Mac</text>
<rect x="29.2" y="629.5" width="429.2" height="332" fill="#fff" stroke="#3a3a3a" stroke-width="1.4"/>
<text x="43.5" y="657" font-size="21" font-weight="bold">Cancer cells</text>
<text x="224.8" y="656.2" font-size="21" font-weight="bold">Immune cells</text>
<g transform="translate(66.6 688) rotate(0)"><ellipse rx="21.5" ry="22.5" fill="#9a5bdc" stroke="#000" stroke-width="1.5"/><circle cx="-0.5" r="9.5" fill="#6a35a8"/></g>
<g transform="translate(64.3 742) rotate(0)"><ellipse rx="22" ry="22.5" fill="#5b9bee" stroke="#000" stroke-width="1.5"/><circle cx="-0.5" r="9.5" fill="#3f79c4"/></g>
<g transform="translate(64.3 795) rotate(0)"><ellipse rx="22" ry="22.5" fill="#f47b42" stroke="#000" stroke-width="1.5"/><circle cx="-0.5" r="9.5" fill="#c84a38"/></g>
<text x="102" y="693" font-size="21">WT</text>
<text x="100" y="745.4" font-size="21">CCL7 KO</text>
<text x="100" y="799.5" font-size="21">IL-4 KO</text>
<text x="43.5" y="855.6" font-size="21" font-weight="bold">Cancer-derived</text>
<text x="43.5" y="878.2" font-size="21" font-weight="bold">cytokines</text>
<circle cx="72.4" cy="902" r="10.8" fill="#1fe0ae" stroke="#000" stroke-width="1.5"/>
<text x="100" y="910.8" font-size="21">IL-4</text>
<g transform="translate(242.7 685.7)"><ellipse rx="16.2" ry="14.8" fill="#6b8f62" stroke="#000" stroke-width="1.5"/><ellipse rx="9.5" ry="9" fill="#4d7247"/><circle r="4.6" fill="#2f5230"/></g>
<g transform="translate(242.7 737.7)"><ellipse rx="18.3" ry="17.6" fill="#86e070" stroke="#000" stroke-width="1.5"/><ellipse rx="10.5" ry="10" fill="#5ea952"/></g>
<g transform="translate(243.4 791)"><ellipse rx="15" ry="14" fill="#f3ad35" stroke="#000" stroke-width="1.5"/><ellipse rx="8" ry="7.6" fill="#c89138"/></g>
<text x="276.8" y="692.7" font-size="21">Exhausted T cell</text>
<text x="276.8" y="744.7" font-size="21">Activated T cell</text>
<text x="276.8" y="795" font-size="21">B cell</text>
<g transform="translate(242.5 855.5)"><path d="M-17.4 -13.3C-16.3 -14.2 -13 -14.6 -11.1 -15.8C-9.3 -17.1 -7.7 -19.9 -6.3 -20.8C-5 -21.8 -4.5 -21.9 -3.2 -21.5C-1.9 -21.1 0.5 -19 1.6 -18.3C2.6 -17.7 2.1 -17.2 3.2 -17.7C4.2 -18.2 6.5 -20.6 7.9 -21.2C9.4 -21.9 10.8 -22.2 11.9 -21.8C13 -21.5 14.2 -20.9 14.7 -19.2C15.2 -17.5 14.6 -13.3 14.9 -11.7C15.2 -10 15.4 -9.9 16.7 -9.2C17.9 -8.5 20.9 -8.4 22.2 -7.5C23.5 -6.6 24.5 -5.1 24.6 -3.7C24.7 -2.4 23.9 -0.3 23 0.8C22.1 1.9 20.5 2.2 19 2.9C17.6 3.6 15.3 3.7 14.3 5C13.2 6.3 13.3 9.3 12.7 10.8C12.1 12.4 11.8 13.5 10.7 14.2C9.7 14.9 7.6 14.7 6.3 15C5.1 15.3 4.1 14.9 3.2 15.8C2.2 16.8 1.7 19.4 0.8 20.8C-0.1 22.3 -1.2 24 -2.4 24.6C-3.6 25.1 -5.2 24.8 -6.3 24.2C-7.5 23.5 -8.5 22.2 -9.1 20.8C-9.8 19.4 -9.5 16.9 -10.3 15.8C-11.2 14.8 -12.9 14.9 -14.3 14.6C-15.7 14.3 -17.8 14.8 -18.6 14.2C-19.5 13.5 -19.5 12.2 -19.4 10.8C-19.4 9.4 -18 7.2 -18.2 5.8C-18.5 4.4 -20.3 3.6 -21 2.5C-21.7 1.4 -22.6 0.1 -22.6 -0.8C-22.6 -1.8 -21.8 -2.5 -21 -3.3C-20.2 -4.2 -18.3 -4.6 -17.8 -5.8C-17.4 -7.1 -18.3 -9.6 -18.2 -10.8C-18.2 -12.1 -18.6 -12.5 -17.4 -13.3Z" fill="#c3f3f9" stroke="#000" stroke-width="1.6" stroke-linejoin="round"/><ellipse cx="-2" cy="-2" rx="6.2" ry="7.4" transform="rotate(20 -2 -2)" fill="#72b7b5"/></g>
<g transform="translate(243.3 924.5)"><path d="M-16.9 -12.5C-15.7 -13.3 -12.5 -13.7 -10.8 -14.9C-9 -16.1 -7.4 -18.7 -6.1 -19.6C-4.9 -20.5 -4.4 -20.6 -3.1 -20.2C-1.8 -19.8 0.5 -17.8 1.5 -17.2C2.6 -16.6 2 -16.1 3.1 -16.6C4.1 -17.1 6.3 -19.3 7.7 -20C9.1 -20.6 10.4 -20.8 11.5 -20.5C12.6 -20.2 13.7 -19.6 14.2 -18C14.7 -16.4 14.1 -12.5 14.4 -11C14.8 -9.4 15 -9.3 16.1 -8.6C17.3 -8 20.2 -7.9 21.5 -7C22.8 -6.2 23.7 -4.8 23.8 -3.5C23.9 -2.2 23.2 -0.3 22.3 0.8C21.4 1.8 19.8 2.1 18.4 2.7C17 3.4 14.8 3.5 13.8 4.7C12.8 5.9 12.9 8.7 12.3 10.2C11.7 11.6 11.4 12.7 10.4 13.3C9.3 14 7.4 13.8 6.1 14.1C4.9 14.4 4 14 3.1 14.9C2.2 15.8 1.7 18.2 0.8 19.6C-0.1 20.9 -1.2 22.6 -2.3 23.1C-3.5 23.6 -5.1 23.3 -6.1 22.7C-7.2 22.1 -8.2 20.9 -8.8 19.6C-9.5 18.3 -9.2 15.9 -10 14.9C-10.8 13.9 -12.5 14 -13.8 13.7C-15.2 13.4 -17.2 13.9 -18 13.3C-18.9 12.7 -18.9 11.5 -18.8 10.2C-18.8 8.9 -17.4 6.8 -17.7 5.5C-17.9 4.2 -19.6 3.4 -20.4 2.3C-21.1 1.3 -21.9 0.1 -21.9 -0.8C-21.9 -1.7 -21.1 -2.3 -20.4 -3.1C-19.6 -3.9 -17.7 -4.3 -17.3 -5.5C-16.8 -6.7 -17.7 -9 -17.7 -10.2C-17.6 -11.4 -18 -11.7 -16.9 -12.5Z" fill="#fbf6a2" stroke="#000" stroke-width="1.6" stroke-linejoin="round"/><ellipse cx="-1" cy="-2" rx="6.2" ry="7.2" transform="rotate(20 -1 -2)" fill="#bcbb5c"/></g>
<text x="277.8" y="840.8" font-size="21">Macrophage</text>
<text transform="translate(276.3 860.7) scale(.74 1)" font-size="20.5" font-weight="bold" stroke="#111" stroke-width=".5" style="font-family:'DejaVu Sans','Liberation Sans',sans-serif">↑</text>
<text x="289.8" y="860.7" font-size="21">Marco</text>
<text transform="translate(353.6 860.7) scale(.74 1)" font-size="20.5" font-weight="bold" stroke="#111" stroke-width=".5" style="font-family:'DejaVu Sans','Liberation Sans',sans-serif">↑</text>
<text x="366" y="860.7" font-size="21">Selenop</text>
<text transform="translate(276.3 880.2) scale(.74 1)" font-size="20.5" font-weight="bold" stroke="#111" stroke-width=".5" style="font-family:'DejaVu Sans','Liberation Sans',sans-serif">↑</text>
<text x="287.3" y="880.2" font-size="21">Arg1</text>
<text transform="translate(339.8 880.2) scale(.74 1)" font-size="20.5" font-weight="bold" stroke="#111" stroke-width=".5" style="font-family:'DejaVu Sans','Liberation Sans',sans-serif">↑</text>
<text x="351.8" y="880.2" font-size="21">Hmox1</text>
<text x="275.8" y="921.7" font-size="21">Macrophage</text>
<text transform="translate(275.8 940.5) scale(.74 1)" font-size="20.5" font-weight="bold" stroke="#111" stroke-width=".5" style="font-family:'DejaVu Sans','Liberation Sans',sans-serif">↑</text>
<text x="286.6" y="940.5" font-size="21">S100a8</text>
<text transform="translate(366.6 940.5) scale(.74 1)" font-size="20.5" font-weight="bold" stroke="#111" stroke-width=".5" style="font-family:'DejaVu Sans','Liberation Sans',sans-serif">↑</text>
<text x="377.7" y="940.5" font-size="21">Cxcl16</text>
</svg></body></html>
